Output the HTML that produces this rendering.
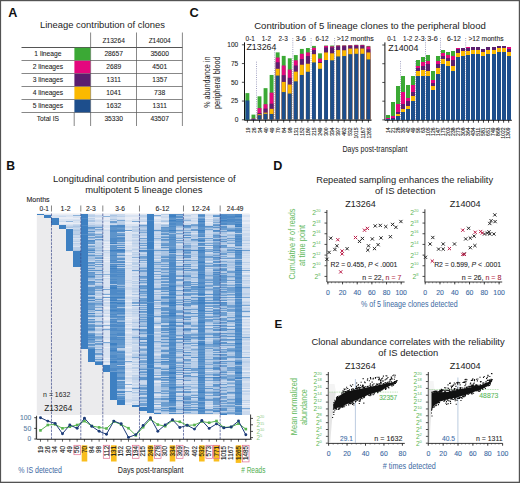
<!DOCTYPE html>
<html><head><meta charset="utf-8"><style>
html,body{margin:0;padding:0;background:#fff;}
svg{display:block;}
text{font-family:"Liberation Sans",sans-serif;}
</style></head><body>
<svg width="520" height="483" viewBox="0 0 520 483" fill="#1c1c1c">
<rect x="0" y="0" width="520" height="483" fill="#fff"/>
<text x="8.2" y="16.8" font-size="12.6" font-weight="bold" fill="#111">A</text>
<text x="189.6" y="16.9" font-size="12.8" font-weight="bold" fill="#111">C</text>
<text x="6.3" y="170.2" font-size="12.2" font-weight="bold" fill="#111">B</text>
<text x="273.3" y="169.8" font-size="12.6" font-weight="bold" fill="#111">D</text>
<text x="274.4" y="328.2" font-size="11.6" font-weight="bold" fill="#111">E</text>
<text x="40" y="28.1" font-size="8.8" textLength="125" lengthAdjust="spacingAndGlyphs">Lineage contribution of clones</text>
<line x1="21.5" y1="47.5" x2="182.4" y2="47.5" stroke="#555" stroke-width="1"/>
<line x1="21.5" y1="60.5" x2="182.4" y2="60.5" stroke="#555" stroke-width="0.7"/>
<line x1="21.5" y1="73.5" x2="182.4" y2="73.5" stroke="#555" stroke-width="0.7"/>
<line x1="21.5" y1="86.5" x2="182.4" y2="86.5" stroke="#555" stroke-width="0.7"/>
<line x1="21.5" y1="99.5" x2="182.4" y2="99.5" stroke="#555" stroke-width="0.7"/>
<line x1="21.5" y1="112.5" x2="182.4" y2="112.5" stroke="#555" stroke-width="0.7"/>
<line x1="90.6" y1="32.5" x2="90.6" y2="126" stroke="#555" stroke-width="0.7"/>
<line x1="136.5" y1="32.5" x2="136.5" y2="126" stroke="#555" stroke-width="0.7"/>
<line x1="182.4" y1="32.5" x2="182.4" y2="126" stroke="#555" stroke-width="0.7"/>
<line x1="74.2" y1="112.5" x2="74.2" y2="126" stroke="#555" stroke-width="0.7"/>
<rect x="74.4" y="47.8" width="16" height="12.5" fill="#3ba935"/>
<rect x="74.4" y="60.8" width="16" height="12.5" fill="#e4077e"/>
<rect x="74.4" y="73.8" width="16" height="12.5" fill="#5b1e6e"/>
<rect x="74.4" y="86.8" width="16" height="12.5" fill="#fbb900"/>
<rect x="74.4" y="99.8" width="16" height="12.5" fill="#1d4e8c"/>
<text x="113.7" y="42.5" font-size="6.8" text-anchor="middle" textLength="22.3" lengthAdjust="spacingAndGlyphs" stroke="#222" stroke-width="0.08">Z13264</text>
<text x="159.7" y="42.5" font-size="6.8" text-anchor="middle" textLength="22.1" lengthAdjust="spacingAndGlyphs" stroke="#222" stroke-width="0.08">Z14004</text>
<text x="47.9" y="56.2" font-size="6.7" text-anchor="middle" stroke="#222" stroke-width="0.08">1 lineage</text>
<text x="113.7" y="56.2" font-size="6.7" text-anchor="middle" stroke="#222" stroke-width="0.08">28657</text>
<text x="159.7" y="56.2" font-size="6.7" text-anchor="middle" stroke="#222" stroke-width="0.08">35600</text>
<text x="47.9" y="69.2" font-size="6.7" text-anchor="middle" stroke="#222" stroke-width="0.08">2 lineages</text>
<text x="113.7" y="69.2" font-size="6.7" text-anchor="middle" stroke="#222" stroke-width="0.08">2689</text>
<text x="159.7" y="69.2" font-size="6.7" text-anchor="middle" stroke="#222" stroke-width="0.08">4501</text>
<text x="47.9" y="82.2" font-size="6.7" text-anchor="middle" stroke="#222" stroke-width="0.08">3 lineages</text>
<text x="113.7" y="82.2" font-size="6.7" text-anchor="middle" stroke="#222" stroke-width="0.08">1311</text>
<text x="159.7" y="82.2" font-size="6.7" text-anchor="middle" stroke="#222" stroke-width="0.08">1357</text>
<text x="47.9" y="95.2" font-size="6.7" text-anchor="middle" stroke="#222" stroke-width="0.08">4 lineages</text>
<text x="113.7" y="95.2" font-size="6.7" text-anchor="middle" stroke="#222" stroke-width="0.08">1041</text>
<text x="159.7" y="95.2" font-size="6.7" text-anchor="middle" stroke="#222" stroke-width="0.08">738</text>
<text x="47.9" y="108.2" font-size="6.7" text-anchor="middle" stroke="#222" stroke-width="0.08">5 lineages</text>
<text x="113.7" y="108.2" font-size="6.7" text-anchor="middle" stroke="#222" stroke-width="0.08">1632</text>
<text x="159.7" y="108.2" font-size="6.7" text-anchor="middle" stroke="#222" stroke-width="0.08">1311</text>
<text x="47.9" y="121.2" font-size="6.7" text-anchor="middle" stroke="#222" stroke-width="0.08">Total IS</text>
<text x="113.7" y="121.2" font-size="6.7" text-anchor="middle" stroke="#222" stroke-width="0.08">35330</text>
<text x="159.7" y="121.2" font-size="6.7" text-anchor="middle" stroke="#222" stroke-width="0.08">43507</text>
<text x="254.2" y="29.3" font-size="9.3" textLength="231.6" lengthAdjust="spacingAndGlyphs">Contribution of 5 lineage clones to the peripheral blood</text>
<line x1="244.5" y1="42.4" x2="244.5" y2="120.3" stroke="#111" stroke-width="1"/>
<line x1="244.5" y1="120.1" x2="371.55" y2="120.1" stroke="#111" stroke-width="1.1"/>
<line x1="241.9" y1="119.8" x2="244.5" y2="119.8" stroke="#222" stroke-width="0.8"/>
<text x="238.3" y="122.1" font-size="6.6" text-anchor="end" stroke="#222" stroke-width="0.08">0</text>
<line x1="241.9" y1="101.05" x2="244.5" y2="101.05" stroke="#222" stroke-width="0.8"/>
<text x="238.3" y="103.35" font-size="6.6" text-anchor="end" stroke="#222" stroke-width="0.08">25</text>
<line x1="241.9" y1="82.3" x2="244.5" y2="82.3" stroke="#222" stroke-width="0.8"/>
<text x="238.3" y="84.6" font-size="6.6" text-anchor="end" stroke="#222" stroke-width="0.08">50</text>
<line x1="241.9" y1="63.55" x2="244.5" y2="63.55" stroke="#222" stroke-width="0.8"/>
<text x="238.3" y="65.85" font-size="6.6" text-anchor="end" stroke="#222" stroke-width="0.08">75</text>
<line x1="241.9" y1="44.8" x2="244.5" y2="44.8" stroke="#222" stroke-width="0.8"/>
<text x="238.3" y="47.1" font-size="6.6" text-anchor="end" stroke="#222" stroke-width="0.08">100</text>
<rect x="245.45" y="93.1" width="3.9" height="26.7" fill="#3ba935"/>
<rect x="245.45" y="100.45" width="3.9" height="19.35" fill="#1d4e8c"/>
<line x1="247.4" y1="119.8" x2="247.4" y2="122.6" stroke="#111" stroke-width="0.8"/>
<text transform="translate(249.56 127.4) rotate(-90)" font-size="6" text-anchor="end" textLength="5.6" lengthAdjust="spacingAndGlyphs" stroke="#222" stroke-width="0.12">19</text>
<rect x="251.5" y="114.62" width="3.9" height="5.18" fill="#3ba935"/>
<rect x="251.5" y="118.6" width="3.9" height="1.2" fill="#e4077e"/>
<rect x="251.5" y="119.05" width="3.9" height="0.75" fill="#5b1e6e"/>
<rect x="251.5" y="119.2" width="3.9" height="0.6" fill="#1d4e8c"/>
<line x1="253.45" y1="119.8" x2="253.45" y2="122.6" stroke="#111" stroke-width="0.8"/>
<text transform="translate(255.61 127.4) rotate(-90)" font-size="6" text-anchor="end" textLength="5.6" lengthAdjust="spacingAndGlyphs" stroke="#222" stroke-width="0.12">26</text>
<rect x="257.55" y="96.32" width="3.9" height="23.48" fill="#3ba935"/>
<rect x="257.55" y="108.1" width="3.9" height="11.7" fill="#e4077e"/>
<rect x="257.55" y="113.05" width="3.9" height="6.75" fill="#5b1e6e"/>
<rect x="257.55" y="114.25" width="3.9" height="5.55" fill="#fbb900"/>
<rect x="257.55" y="115.15" width="3.9" height="4.65" fill="#1d4e8c"/>
<line x1="259.5" y1="119.8" x2="259.5" y2="122.6" stroke="#111" stroke-width="0.8"/>
<text transform="translate(261.66 127.4) rotate(-90)" font-size="6" text-anchor="end" textLength="5.6" lengthAdjust="spacingAndGlyphs" stroke="#222" stroke-width="0.12">34</text>
<rect x="263.6" y="88.15" width="3.9" height="31.65" fill="#3ba935"/>
<rect x="263.6" y="104.2" width="3.9" height="15.6" fill="#e4077e"/>
<rect x="263.6" y="108.55" width="3.9" height="11.25" fill="#5b1e6e"/>
<rect x="263.6" y="112.67" width="3.9" height="7.12" fill="#fbb900"/>
<rect x="263.6" y="113.8" width="3.9" height="6" fill="#1d4e8c"/>
<line x1="265.55" y1="119.8" x2="265.55" y2="122.6" stroke="#111" stroke-width="0.8"/>
<text transform="translate(267.71 127.4) rotate(-90)" font-size="6" text-anchor="end" textLength="5.6" lengthAdjust="spacingAndGlyphs" stroke="#222" stroke-width="0.12">40</text>
<rect x="269.65" y="74.95" width="3.9" height="44.85" fill="#3ba935"/>
<rect x="269.65" y="92.65" width="3.9" height="27.15" fill="#e4077e"/>
<rect x="269.65" y="103.67" width="3.9" height="16.12" fill="#5b1e6e"/>
<rect x="269.65" y="108.85" width="3.9" height="10.95" fill="#fbb900"/>
<rect x="269.65" y="113.95" width="3.9" height="5.85" fill="#1d4e8c"/>
<line x1="271.6" y1="119.8" x2="271.6" y2="122.6" stroke="#111" stroke-width="0.8"/>
<text transform="translate(273.76 127.4) rotate(-90)" font-size="6" text-anchor="end" textLength="5.6" lengthAdjust="spacingAndGlyphs" stroke="#222" stroke-width="0.12">49</text>
<rect x="275.7" y="52.37" width="3.9" height="67.43" fill="#3ba935"/>
<rect x="275.7" y="57.55" width="3.9" height="62.25" fill="#e4077e"/>
<rect x="275.7" y="62.27" width="3.9" height="57.53" fill="#5b1e6e"/>
<rect x="275.7" y="68.8" width="3.9" height="51" fill="#fbb900"/>
<rect x="275.7" y="75.55" width="3.9" height="44.25" fill="#1d4e8c"/>
<line x1="277.65" y1="119.8" x2="277.65" y2="122.6" stroke="#111" stroke-width="0.8"/>
<text transform="translate(279.81 127.4) rotate(-90)" font-size="6" text-anchor="end" textLength="5.6" lengthAdjust="spacingAndGlyphs" stroke="#222" stroke-width="0.12">70</text>
<rect x="281.75" y="55.9" width="3.9" height="63.9" fill="#3ba935"/>
<rect x="281.75" y="65.5" width="3.9" height="54.3" fill="#e4077e"/>
<rect x="281.75" y="75.17" width="3.9" height="44.62" fill="#5b1e6e"/>
<rect x="281.75" y="81.92" width="3.9" height="37.88" fill="#fbb900"/>
<rect x="281.75" y="92.05" width="3.9" height="27.75" fill="#1d4e8c"/>
<line x1="283.7" y1="119.8" x2="283.7" y2="122.6" stroke="#111" stroke-width="0.8"/>
<text transform="translate(285.86 127.4) rotate(-90)" font-size="6" text-anchor="end" textLength="5.6" lengthAdjust="spacingAndGlyphs" stroke="#222" stroke-width="0.12">84</text>
<rect x="287.8" y="58.3" width="3.9" height="61.5" fill="#3ba935"/>
<rect x="287.8" y="69.55" width="3.9" height="50.25" fill="#e4077e"/>
<rect x="287.8" y="77.8" width="3.9" height="42" fill="#5b1e6e"/>
<rect x="287.8" y="84.55" width="3.9" height="35.25" fill="#fbb900"/>
<rect x="287.8" y="93.55" width="3.9" height="26.25" fill="#1d4e8c"/>
<line x1="289.75" y1="119.8" x2="289.75" y2="122.6" stroke="#111" stroke-width="0.8"/>
<text transform="translate(291.91 127.4) rotate(-90)" font-size="6" text-anchor="end" textLength="5.6" lengthAdjust="spacingAndGlyphs" stroke="#222" stroke-width="0.12">98</text>
<rect x="293.85" y="55.08" width="3.9" height="64.72" fill="#3ba935"/>
<rect x="293.85" y="60.33" width="3.9" height="59.47" fill="#e4077e"/>
<rect x="293.85" y="65.5" width="3.9" height="54.3" fill="#5b1e6e"/>
<rect x="293.85" y="71.65" width="3.9" height="48.15" fill="#fbb900"/>
<rect x="293.85" y="81.33" width="3.9" height="38.47" fill="#1d4e8c"/>
<line x1="295.8" y1="119.8" x2="295.8" y2="122.6" stroke="#111" stroke-width="0.8"/>
<text transform="translate(297.96 127.4) rotate(-90)" font-size="6" text-anchor="end" textLength="8.4" lengthAdjust="spacingAndGlyphs" stroke="#222" stroke-width="0.12">131</text>
<rect x="299.9" y="48.92" width="3.9" height="70.88" fill="#3ba935"/>
<rect x="299.9" y="53.8" width="3.9" height="66" fill="#e4077e"/>
<rect x="299.9" y="59.05" width="3.9" height="60.75" fill="#5b1e6e"/>
<rect x="299.9" y="64.75" width="3.9" height="55.05" fill="#fbb900"/>
<rect x="299.9" y="74.95" width="3.9" height="44.85" fill="#1d4e8c"/>
<line x1="301.85" y1="119.8" x2="301.85" y2="122.6" stroke="#111" stroke-width="0.8"/>
<text transform="translate(304.01 127.4) rotate(-90)" font-size="6" text-anchor="end" textLength="8.4" lengthAdjust="spacingAndGlyphs" stroke="#222" stroke-width="0.12">152</text>
<rect x="305.95" y="48.02" width="3.9" height="71.78" fill="#3ba935"/>
<rect x="305.95" y="52.45" width="3.9" height="67.35" fill="#e4077e"/>
<rect x="305.95" y="56.05" width="3.9" height="63.75" fill="#5b1e6e"/>
<rect x="305.95" y="63.77" width="3.9" height="56.03" fill="#fbb900"/>
<rect x="305.95" y="71.8" width="3.9" height="48" fill="#1d4e8c"/>
<line x1="307.9" y1="119.8" x2="307.9" y2="122.6" stroke="#111" stroke-width="0.8"/>
<text transform="translate(310.06 127.4) rotate(-90)" font-size="6" text-anchor="end" textLength="8.4" lengthAdjust="spacingAndGlyphs" stroke="#222" stroke-width="0.12">180</text>
<rect x="312" y="45.92" width="3.9" height="73.88" fill="#3ba935"/>
<rect x="312" y="47.8" width="3.9" height="72" fill="#e4077e"/>
<rect x="312" y="50.05" width="3.9" height="69.75" fill="#5b1e6e"/>
<rect x="312" y="54.17" width="3.9" height="65.62" fill="#fbb900"/>
<rect x="312" y="62.42" width="3.9" height="57.38" fill="#1d4e8c"/>
<line x1="313.95" y1="119.8" x2="313.95" y2="122.6" stroke="#111" stroke-width="0.8"/>
<text transform="translate(316.11 127.4) rotate(-90)" font-size="6" text-anchor="end" textLength="8.4" lengthAdjust="spacingAndGlyphs" stroke="#222" stroke-width="0.12">215</text>
<rect x="318.05" y="53.35" width="3.9" height="66.45" fill="#3ba935"/>
<rect x="318.05" y="58.6" width="3.9" height="61.2" fill="#e4077e"/>
<rect x="318.05" y="62.05" width="3.9" height="57.75" fill="#5b1e6e"/>
<rect x="318.05" y="62.95" width="3.9" height="56.85" fill="#fbb900"/>
<rect x="318.05" y="68.8" width="3.9" height="51" fill="#1d4e8c"/>
<line x1="320" y1="119.8" x2="320" y2="122.6" stroke="#111" stroke-width="0.8"/>
<text transform="translate(322.16 127.4) rotate(-90)" font-size="6" text-anchor="end" textLength="8.4" lengthAdjust="spacingAndGlyphs" stroke="#222" stroke-width="0.12">249</text>
<rect x="324.1" y="45.55" width="3.9" height="74.25" fill="#3ba935"/>
<rect x="324.1" y="45.92" width="3.9" height="73.88" fill="#e4077e"/>
<rect x="324.1" y="47.42" width="3.9" height="72.38" fill="#5b1e6e"/>
<rect x="324.1" y="52.45" width="3.9" height="67.35" fill="#fbb900"/>
<rect x="324.1" y="60.02" width="3.9" height="59.78" fill="#1d4e8c"/>
<line x1="326.05" y1="119.8" x2="326.05" y2="122.6" stroke="#111" stroke-width="0.8"/>
<text transform="translate(328.21 127.4) rotate(-90)" font-size="6" text-anchor="end" textLength="8.4" lengthAdjust="spacingAndGlyphs" stroke="#222" stroke-width="0.12">300</text>
<rect x="330.15" y="45.55" width="3.9" height="74.25" fill="#3ba935"/>
<rect x="330.15" y="46.45" width="3.9" height="73.35" fill="#e4077e"/>
<rect x="330.15" y="47.42" width="3.9" height="72.38" fill="#5b1e6e"/>
<rect x="330.15" y="53.35" width="3.9" height="66.45" fill="#fbb900"/>
<rect x="330.15" y="60.33" width="3.9" height="59.47" fill="#1d4e8c"/>
<line x1="332.1" y1="119.8" x2="332.1" y2="122.6" stroke="#111" stroke-width="0.8"/>
<text transform="translate(334.26 127.4) rotate(-90)" font-size="6" text-anchor="end" textLength="8.4" lengthAdjust="spacingAndGlyphs" stroke="#222" stroke-width="0.12">334</text>
<rect x="336.2" y="45.33" width="3.9" height="74.47" fill="#3ba935"/>
<rect x="336.2" y="45.55" width="3.9" height="74.25" fill="#e4077e"/>
<rect x="336.2" y="46.3" width="3.9" height="73.5" fill="#5b1e6e"/>
<rect x="336.2" y="50.05" width="3.9" height="69.75" fill="#fbb900"/>
<rect x="336.2" y="56.42" width="3.9" height="63.38" fill="#1d4e8c"/>
<line x1="338.15" y1="119.8" x2="338.15" y2="122.6" stroke="#111" stroke-width="0.8"/>
<text transform="translate(340.31 127.4) rotate(-90)" font-size="6" text-anchor="end" textLength="8.4" lengthAdjust="spacingAndGlyphs" stroke="#222" stroke-width="0.12">397</text>
<rect x="342.25" y="45.33" width="3.9" height="74.47" fill="#3ba935"/>
<rect x="342.25" y="45.55" width="3.9" height="74.25" fill="#e4077e"/>
<rect x="342.25" y="46.15" width="3.9" height="73.65" fill="#5b1e6e"/>
<rect x="342.25" y="50.27" width="3.9" height="69.53" fill="#fbb900"/>
<rect x="342.25" y="56.05" width="3.9" height="63.75" fill="#1d4e8c"/>
<line x1="344.2" y1="119.8" x2="344.2" y2="122.6" stroke="#111" stroke-width="0.8"/>
<text transform="translate(346.36 127.4) rotate(-90)" font-size="6" text-anchor="end" textLength="8.4" lengthAdjust="spacingAndGlyphs" stroke="#222" stroke-width="0.12">462</text>
<rect x="348.3" y="45.17" width="3.9" height="74.62" fill="#3ba935"/>
<rect x="348.3" y="45.33" width="3.9" height="74.47" fill="#e4077e"/>
<rect x="348.3" y="45.85" width="3.9" height="73.95" fill="#5b1e6e"/>
<rect x="348.3" y="48.55" width="3.9" height="71.25" fill="#fbb900"/>
<rect x="348.3" y="54.17" width="3.9" height="65.62" fill="#1d4e8c"/>
<line x1="350.25" y1="119.8" x2="350.25" y2="122.6" stroke="#111" stroke-width="0.8"/>
<text transform="translate(352.41 127.4) rotate(-90)" font-size="6" text-anchor="end" textLength="8.4" lengthAdjust="spacingAndGlyphs" stroke="#222" stroke-width="0.12">532</text>
<rect x="354.35" y="44.8" width="3.9" height="75" fill="#3ba935"/>
<rect x="354.35" y="44.95" width="3.9" height="74.85" fill="#e4077e"/>
<rect x="354.35" y="45.55" width="3.9" height="74.25" fill="#5b1e6e"/>
<rect x="354.35" y="48.55" width="3.9" height="71.25" fill="#fbb900"/>
<rect x="354.35" y="53.8" width="3.9" height="66" fill="#1d4e8c"/>
<line x1="356.3" y1="119.8" x2="356.3" y2="122.6" stroke="#111" stroke-width="0.8"/>
<text transform="translate(358.46 127.4) rotate(-90)" font-size="6" text-anchor="end" textLength="11.2" lengthAdjust="spacingAndGlyphs" stroke="#222" stroke-width="0.12">1015</text>
<rect x="360.4" y="44.8" width="3.9" height="75" fill="#3ba935"/>
<rect x="360.4" y="44.95" width="3.9" height="74.85" fill="#e4077e"/>
<rect x="360.4" y="45.55" width="3.9" height="74.25" fill="#5b1e6e"/>
<rect x="360.4" y="48.55" width="3.9" height="71.25" fill="#fbb900"/>
<rect x="360.4" y="53.8" width="3.9" height="66" fill="#1d4e8c"/>
<line x1="362.35" y1="119.8" x2="362.35" y2="122.6" stroke="#111" stroke-width="0.8"/>
<text transform="translate(364.51 127.4) rotate(-90)" font-size="6" text-anchor="end" textLength="11.2" lengthAdjust="spacingAndGlyphs" stroke="#222" stroke-width="0.12">1167</text>
<rect x="366.45" y="45.92" width="3.9" height="73.88" fill="#3ba935"/>
<rect x="366.45" y="46.45" width="3.9" height="73.35" fill="#e4077e"/>
<rect x="366.45" y="49.3" width="3.9" height="70.5" fill="#5b1e6e"/>
<rect x="366.45" y="52.45" width="3.9" height="67.35" fill="#fbb900"/>
<rect x="366.45" y="59.42" width="3.9" height="60.38" fill="#1d4e8c"/>
<line x1="368.4" y1="119.8" x2="368.4" y2="122.6" stroke="#111" stroke-width="0.8"/>
<text transform="translate(370.56 127.4) rotate(-90)" font-size="6" text-anchor="end" textLength="11.2" lengthAdjust="spacingAndGlyphs" stroke="#222" stroke-width="0.12">1265</text>
<line x1="384.9" y1="42.4" x2="384.9" y2="120.4" stroke="#111" stroke-width="1"/>
<line x1="384.9" y1="120.2" x2="511.86" y2="120.2" stroke="#111" stroke-width="1.1"/>
<line x1="382.3" y1="119.9" x2="384.9" y2="119.9" stroke="#222" stroke-width="0.8"/>
<line x1="382.3" y1="101.18" x2="384.9" y2="101.18" stroke="#222" stroke-width="0.8"/>
<line x1="382.3" y1="82.45" x2="384.9" y2="82.45" stroke="#222" stroke-width="0.8"/>
<line x1="382.3" y1="63.73" x2="384.9" y2="63.73" stroke="#222" stroke-width="0.8"/>
<line x1="382.3" y1="45" x2="384.9" y2="45" stroke="#222" stroke-width="0.8"/>
<rect x="386" y="115.41" width="4" height="4.49" fill="#3ba935" shape-rendering="crispEdges"/>
<rect x="386" y="117.5" width="4" height="2.4" fill="#e4077e" shape-rendering="crispEdges"/>
<rect x="386" y="118.93" width="4" height="0.97" fill="#1d4e8c" shape-rendering="crispEdges"/>
<line x1="387.7" y1="119.9" x2="387.7" y2="122.7" stroke="#111" stroke-width="0.8"/>
<text transform="translate(389.5 127.5) rotate(-90)" font-size="5" text-anchor="end" textLength="5.6" lengthAdjust="spacingAndGlyphs" stroke="#222" stroke-width="0.12">14</text>
<rect x="391" y="102.22" width="4" height="17.68" fill="#3ba935" shape-rendering="crispEdges"/>
<rect x="391" y="115.71" width="4" height="4.19" fill="#e4077e" shape-rendering="crispEdges"/>
<rect x="391" y="118.4" width="4" height="1.5" fill="#5b1e6e" shape-rendering="crispEdges"/>
<rect x="391" y="119.15" width="4" height="0.75" fill="#1d4e8c" shape-rendering="crispEdges"/>
<line x1="392.74" y1="119.9" x2="392.74" y2="122.7" stroke="#111" stroke-width="0.8"/>
<text transform="translate(394.54 127.5) rotate(-90)" font-size="5" text-anchor="end" textLength="5.6" lengthAdjust="spacingAndGlyphs" stroke="#222" stroke-width="0.12">21</text>
<rect x="396" y="85.82" width="4" height="34.08" fill="#3ba935" shape-rendering="crispEdges"/>
<rect x="396" y="103.87" width="4" height="16.03" fill="#e4077e" shape-rendering="crispEdges"/>
<rect x="396" y="112.04" width="4" height="7.86" fill="#5b1e6e" shape-rendering="crispEdges"/>
<rect x="396" y="114.43" width="4" height="5.47" fill="#fbb900" shape-rendering="crispEdges"/>
<rect x="396" y="115.78" width="4" height="4.12" fill="#1d4e8c" shape-rendering="crispEdges"/>
<line x1="397.78" y1="119.9" x2="397.78" y2="122.7" stroke="#111" stroke-width="0.8"/>
<text transform="translate(399.58 127.5) rotate(-90)" font-size="5" text-anchor="end" textLength="5.6" lengthAdjust="spacingAndGlyphs" stroke="#222" stroke-width="0.12">28</text>
<rect x="401" y="76.08" width="4" height="43.82" fill="#3ba935" shape-rendering="crispEdges"/>
<rect x="401" y="92.19" width="4" height="27.71" fill="#e4077e" shape-rendering="crispEdges"/>
<rect x="401" y="104.32" width="4" height="15.58" fill="#5b1e6e" shape-rendering="crispEdges"/>
<rect x="401" y="108.52" width="4" height="11.38" fill="#fbb900" shape-rendering="crispEdges"/>
<rect x="401" y="112.04" width="4" height="7.86" fill="#1d4e8c" shape-rendering="crispEdges"/>
<line x1="402.82" y1="119.9" x2="402.82" y2="122.7" stroke="#111" stroke-width="0.8"/>
<text transform="translate(404.62 127.5) rotate(-90)" font-size="5" text-anchor="end" textLength="5.6" lengthAdjust="spacingAndGlyphs" stroke="#222" stroke-width="0.12">35</text>
<rect x="406" y="85.3" width="4" height="34.6" fill="#3ba935" shape-rendering="crispEdges"/>
<rect x="406" y="98.03" width="4" height="21.87" fill="#e4077e" shape-rendering="crispEdges"/>
<rect x="406" y="100.8" width="4" height="19.1" fill="#5b1e6e" shape-rendering="crispEdges"/>
<rect x="406" y="105.67" width="4" height="14.23" fill="#fbb900" shape-rendering="crispEdges"/>
<rect x="406" y="108.52" width="4" height="11.38" fill="#1d4e8c" shape-rendering="crispEdges"/>
<line x1="407.86" y1="119.9" x2="407.86" y2="122.7" stroke="#111" stroke-width="0.8"/>
<text transform="translate(409.66 127.5) rotate(-90)" font-size="5" text-anchor="end" textLength="5.6" lengthAdjust="spacingAndGlyphs" stroke="#222" stroke-width="0.12">42</text>
<rect x="411" y="76.46" width="4" height="43.44" fill="#3ba935" shape-rendering="crispEdges"/>
<rect x="411" y="85.3" width="4" height="34.6" fill="#e4077e" shape-rendering="crispEdges"/>
<rect x="411" y="91.81" width="4" height="28.09" fill="#5b1e6e" shape-rendering="crispEdges"/>
<rect x="411" y="95.93" width="4" height="23.97" fill="#fbb900" shape-rendering="crispEdges"/>
<rect x="411" y="100.8" width="4" height="19.1" fill="#1d4e8c" shape-rendering="crispEdges"/>
<line x1="412.9" y1="119.9" x2="412.9" y2="122.7" stroke="#111" stroke-width="0.8"/>
<text transform="translate(414.7 127.5) rotate(-90)" font-size="5" text-anchor="end" textLength="5.6" lengthAdjust="spacingAndGlyphs" stroke="#222" stroke-width="0.12">49</text>
<rect x="416" y="59.53" width="4" height="60.37" fill="#3ba935" shape-rendering="crispEdges"/>
<rect x="416" y="65.52" width="4" height="54.38" fill="#e4077e" shape-rendering="crispEdges"/>
<rect x="416" y="67.99" width="4" height="51.91" fill="#5b1e6e" shape-rendering="crispEdges"/>
<rect x="416" y="71.36" width="4" height="48.54" fill="#fbb900" shape-rendering="crispEdges"/>
<rect x="416" y="76.01" width="4" height="43.89" fill="#1d4e8c" shape-rendering="crispEdges"/>
<line x1="417.94" y1="119.9" x2="417.94" y2="122.7" stroke="#111" stroke-width="0.8"/>
<text transform="translate(419.74 127.5) rotate(-90)" font-size="5" text-anchor="end" textLength="5.6" lengthAdjust="spacingAndGlyphs" stroke="#222" stroke-width="0.12">56</text>
<rect x="421" y="56.61" width="4" height="63.29" fill="#3ba935" shape-rendering="crispEdges"/>
<rect x="421" y="62" width="4" height="57.9" fill="#e4077e" shape-rendering="crispEdges"/>
<rect x="421" y="65.52" width="4" height="54.38" fill="#5b1e6e" shape-rendering="crispEdges"/>
<rect x="421" y="70.17" width="4" height="49.73" fill="#fbb900" shape-rendering="crispEdges"/>
<rect x="421" y="76.01" width="4" height="43.89" fill="#1d4e8c" shape-rendering="crispEdges"/>
<line x1="422.98" y1="119.9" x2="422.98" y2="122.7" stroke="#111" stroke-width="0.8"/>
<text transform="translate(424.78 127.5) rotate(-90)" font-size="5" text-anchor="end" textLength="5.6" lengthAdjust="spacingAndGlyphs" stroke="#222" stroke-width="0.12">63</text>
<rect x="426" y="55.04" width="4" height="64.86" fill="#3ba935" shape-rendering="crispEdges"/>
<rect x="426" y="61.25" width="4" height="58.65" fill="#e4077e" shape-rendering="crispEdges"/>
<rect x="426" y="63.8" width="4" height="56.1" fill="#5b1e6e" shape-rendering="crispEdges"/>
<rect x="426" y="70.54" width="4" height="49.36" fill="#fbb900" shape-rendering="crispEdges"/>
<rect x="426" y="76.01" width="4" height="43.89" fill="#1d4e8c" shape-rendering="crispEdges"/>
<line x1="428.02" y1="119.9" x2="428.02" y2="122.7" stroke="#111" stroke-width="0.8"/>
<text transform="translate(429.82 127.5) rotate(-90)" font-size="5" text-anchor="end" textLength="8.4" lengthAdjust="spacingAndGlyphs" stroke="#222" stroke-width="0.12">105</text>
<rect x="431" y="70.92" width="4" height="48.98" fill="#3ba935" shape-rendering="crispEdges"/>
<rect x="431" y="79.9" width="4" height="40" fill="#e4077e" shape-rendering="crispEdges"/>
<rect x="431" y="83.27" width="4" height="36.63" fill="#5b1e6e" shape-rendering="crispEdges"/>
<rect x="431" y="85.82" width="4" height="34.08" fill="#fbb900" shape-rendering="crispEdges"/>
<rect x="431" y="89.57" width="4" height="30.33" fill="#1d4e8c" shape-rendering="crispEdges"/>
<line x1="433.06" y1="119.9" x2="433.06" y2="122.7" stroke="#111" stroke-width="0.8"/>
<text transform="translate(434.86 127.5) rotate(-90)" font-size="5" text-anchor="end" textLength="8.4" lengthAdjust="spacingAndGlyphs" stroke="#222" stroke-width="0.12">126</text>
<rect x="436" y="55.79" width="4" height="64.11" fill="#3ba935" shape-rendering="crispEdges"/>
<rect x="436" y="60.5" width="4" height="59.4" fill="#e4077e" shape-rendering="crispEdges"/>
<rect x="436" y="63.8" width="4" height="56.1" fill="#5b1e6e" shape-rendering="crispEdges"/>
<rect x="436" y="67.99" width="4" height="51.91" fill="#fbb900" shape-rendering="crispEdges"/>
<rect x="436" y="73.99" width="4" height="45.91" fill="#1d4e8c" shape-rendering="crispEdges"/>
<line x1="438.1" y1="119.9" x2="438.1" y2="122.7" stroke="#111" stroke-width="0.8"/>
<text transform="translate(439.9 127.5) rotate(-90)" font-size="5" text-anchor="end" textLength="8.4" lengthAdjust="spacingAndGlyphs" stroke="#222" stroke-width="0.12">147</text>
<rect x="441" y="49.79" width="4" height="70.11" fill="#3ba935" shape-rendering="crispEdges"/>
<rect x="441" y="53.24" width="4" height="66.66" fill="#e4077e" shape-rendering="crispEdges"/>
<rect x="441" y="56.09" width="4" height="63.81" fill="#5b1e6e" shape-rendering="crispEdges"/>
<rect x="441" y="59.01" width="4" height="60.89" fill="#fbb900" shape-rendering="crispEdges"/>
<rect x="441" y="63.8" width="4" height="56.1" fill="#1d4e8c" shape-rendering="crispEdges"/>
<line x1="443.14" y1="119.9" x2="443.14" y2="122.7" stroke="#111" stroke-width="0.8"/>
<text transform="translate(444.94 127.5) rotate(-90)" font-size="5" text-anchor="end" textLength="8.4" lengthAdjust="spacingAndGlyphs" stroke="#222" stroke-width="0.12">175</text>
<rect x="446" y="51.97" width="4" height="67.93" fill="#3ba935" shape-rendering="crispEdges"/>
<rect x="446" y="54.89" width="4" height="65.01" fill="#e4077e" shape-rendering="crispEdges"/>
<rect x="446" y="57.81" width="4" height="62.09" fill="#5b1e6e" shape-rendering="crispEdges"/>
<rect x="446" y="61.48" width="4" height="58.42" fill="#fbb900" shape-rendering="crispEdges"/>
<rect x="446" y="65.6" width="4" height="54.3" fill="#1d4e8c" shape-rendering="crispEdges"/>
<line x1="448.18" y1="119.9" x2="448.18" y2="122.7" stroke="#111" stroke-width="0.8"/>
<text transform="translate(449.98 127.5) rotate(-90)" font-size="5" text-anchor="end" textLength="8.4" lengthAdjust="spacingAndGlyphs" stroke="#222" stroke-width="0.12">203</text>
<rect x="451" y="51.14" width="4" height="68.76" fill="#3ba935" shape-rendering="crispEdges"/>
<rect x="451" y="55.56" width="4" height="64.34" fill="#e4077e" shape-rendering="crispEdges"/>
<rect x="451" y="59.98" width="4" height="59.92" fill="#5b1e6e" shape-rendering="crispEdges"/>
<rect x="451" y="65.6" width="4" height="54.3" fill="#fbb900" shape-rendering="crispEdges"/>
<rect x="451" y="70.62" width="4" height="49.28" fill="#1d4e8c" shape-rendering="crispEdges"/>
<line x1="453.22" y1="119.9" x2="453.22" y2="122.7" stroke="#111" stroke-width="0.8"/>
<text transform="translate(455.02 127.5) rotate(-90)" font-size="5" text-anchor="end" textLength="8.4" lengthAdjust="spacingAndGlyphs" stroke="#222" stroke-width="0.12">238</text>
<rect x="456" y="47.92" width="4" height="71.98" fill="#e4077e" shape-rendering="crispEdges"/>
<rect x="456" y="48.52" width="4" height="71.38" fill="#5b1e6e" shape-rendering="crispEdges"/>
<rect x="456" y="53.01" width="4" height="66.89" fill="#fbb900" shape-rendering="crispEdges"/>
<rect x="456" y="56.61" width="4" height="63.29" fill="#1d4e8c" shape-rendering="crispEdges"/>
<line x1="458.26" y1="119.9" x2="458.26" y2="122.7" stroke="#111" stroke-width="0.8"/>
<text transform="translate(460.06 127.5) rotate(-90)" font-size="5" text-anchor="end" textLength="8.4" lengthAdjust="spacingAndGlyphs" stroke="#222" stroke-width="0.12">273</text>
<rect x="461" y="47.92" width="4" height="71.98" fill="#e4077e" shape-rendering="crispEdges"/>
<rect x="461" y="48.37" width="4" height="71.53" fill="#5b1e6e" shape-rendering="crispEdges"/>
<rect x="461" y="51.29" width="4" height="68.61" fill="#fbb900" shape-rendering="crispEdges"/>
<rect x="461" y="55.94" width="4" height="63.96" fill="#1d4e8c" shape-rendering="crispEdges"/>
<line x1="463.3" y1="119.9" x2="463.3" y2="122.7" stroke="#111" stroke-width="0.8"/>
<text transform="translate(465.1 127.5) rotate(-90)" font-size="5" text-anchor="end" textLength="8.4" lengthAdjust="spacingAndGlyphs" stroke="#222" stroke-width="0.12">308</text>
<rect x="466" y="47.25" width="4" height="72.65" fill="#e4077e" shape-rendering="crispEdges"/>
<rect x="466" y="47.62" width="4" height="72.28" fill="#5b1e6e" shape-rendering="crispEdges"/>
<rect x="466" y="50.77" width="4" height="69.13" fill="#fbb900" shape-rendering="crispEdges"/>
<rect x="466" y="55.19" width="4" height="64.71" fill="#1d4e8c" shape-rendering="crispEdges"/>
<line x1="468.34" y1="119.9" x2="468.34" y2="122.7" stroke="#111" stroke-width="0.8"/>
<text transform="translate(470.14 127.5) rotate(-90)" font-size="5" text-anchor="end" textLength="8.4" lengthAdjust="spacingAndGlyphs" stroke="#222" stroke-width="0.12">364</text>
<rect x="471" y="46.87" width="4" height="73.03" fill="#e4077e" shape-rendering="crispEdges"/>
<rect x="471" y="47.25" width="4" height="72.65" fill="#5b1e6e" shape-rendering="crispEdges"/>
<rect x="471" y="50.09" width="4" height="69.81" fill="#fbb900" shape-rendering="crispEdges"/>
<rect x="471" y="54.44" width="4" height="65.46" fill="#1d4e8c" shape-rendering="crispEdges"/>
<line x1="473.38" y1="119.9" x2="473.38" y2="122.7" stroke="#111" stroke-width="0.8"/>
<text transform="translate(475.18 127.5) rotate(-90)" font-size="5" text-anchor="end" textLength="8.4" lengthAdjust="spacingAndGlyphs" stroke="#222" stroke-width="0.12">434</text>
<rect x="476" y="46.87" width="4" height="73.03" fill="#e4077e" shape-rendering="crispEdges"/>
<rect x="476" y="47.25" width="4" height="72.65" fill="#5b1e6e" shape-rendering="crispEdges"/>
<rect x="476" y="50.09" width="4" height="69.81" fill="#fbb900" shape-rendering="crispEdges"/>
<rect x="476" y="54.29" width="4" height="65.61" fill="#1d4e8c" shape-rendering="crispEdges"/>
<line x1="478.42" y1="119.9" x2="478.42" y2="122.7" stroke="#111" stroke-width="0.8"/>
<text transform="translate(480.22 127.5) rotate(-90)" font-size="5" text-anchor="end" textLength="8.4" lengthAdjust="spacingAndGlyphs" stroke="#222" stroke-width="0.12">511</text>
<rect x="481" y="48.75" width="4" height="71.16" fill="#e4077e" shape-rendering="crispEdges"/>
<rect x="481" y="49.12" width="4" height="70.78" fill="#5b1e6e" shape-rendering="crispEdges"/>
<rect x="481" y="52.27" width="4" height="67.63" fill="#fbb900" shape-rendering="crispEdges"/>
<rect x="481" y="55.64" width="4" height="64.26" fill="#1d4e8c" shape-rendering="crispEdges"/>
<line x1="483.46" y1="119.9" x2="483.46" y2="122.7" stroke="#111" stroke-width="0.8"/>
<text transform="translate(485.26 127.5) rotate(-90)" font-size="5" text-anchor="end" textLength="8.4" lengthAdjust="spacingAndGlyphs" stroke="#222" stroke-width="0.12">581</text>
<rect x="486" y="46.5" width="4" height="73.4" fill="#e4077e" shape-rendering="crispEdges"/>
<rect x="486" y="46.87" width="4" height="73.03" fill="#5b1e6e" shape-rendering="crispEdges"/>
<rect x="486" y="50.09" width="4" height="69.81" fill="#fbb900" shape-rendering="crispEdges"/>
<rect x="486" y="53.69" width="4" height="66.21" fill="#1d4e8c" shape-rendering="crispEdges"/>
<line x1="488.5" y1="119.9" x2="488.5" y2="122.7" stroke="#111" stroke-width="0.8"/>
<text transform="translate(490.3 127.5) rotate(-90)" font-size="5" text-anchor="end" textLength="8.4" lengthAdjust="spacingAndGlyphs" stroke="#222" stroke-width="0.12">651</text>
<rect x="492" y="46.5" width="4" height="73.4" fill="#e4077e" shape-rendering="crispEdges"/>
<rect x="492" y="46.87" width="4" height="73.03" fill="#5b1e6e" shape-rendering="crispEdges"/>
<rect x="492" y="50.09" width="4" height="69.81" fill="#fbb900" shape-rendering="crispEdges"/>
<rect x="492" y="54.44" width="4" height="65.46" fill="#1d4e8c" shape-rendering="crispEdges"/>
<line x1="493.54" y1="119.9" x2="493.54" y2="122.7" stroke="#111" stroke-width="0.8"/>
<text transform="translate(495.34 127.5) rotate(-90)" font-size="5" text-anchor="end" textLength="8.4" lengthAdjust="spacingAndGlyphs" stroke="#222" stroke-width="0.12">749</text>
<rect x="497" y="45.82" width="4" height="74.08" fill="#e4077e" shape-rendering="crispEdges"/>
<rect x="497" y="46.12" width="4" height="73.78" fill="#5b1e6e" shape-rendering="crispEdges"/>
<rect x="497" y="47.92" width="4" height="71.98" fill="#fbb900" shape-rendering="crispEdges"/>
<rect x="497" y="51.82" width="4" height="68.08" fill="#1d4e8c" shape-rendering="crispEdges"/>
<line x1="498.58" y1="119.9" x2="498.58" y2="122.7" stroke="#111" stroke-width="0.8"/>
<text transform="translate(500.38 127.5) rotate(-90)" font-size="5" text-anchor="end" textLength="8.4" lengthAdjust="spacingAndGlyphs" stroke="#222" stroke-width="0.12">868</text>
<rect x="502" y="45.82" width="4" height="74.08" fill="#e4077e" shape-rendering="crispEdges"/>
<rect x="502" y="46.12" width="4" height="73.78" fill="#5b1e6e" shape-rendering="crispEdges"/>
<rect x="502" y="47.92" width="4" height="71.98" fill="#fbb900" shape-rendering="crispEdges"/>
<rect x="502" y="52.42" width="4" height="67.48" fill="#1d4e8c" shape-rendering="crispEdges"/>
<line x1="503.62" y1="119.9" x2="503.62" y2="122.7" stroke="#111" stroke-width="0.8"/>
<text transform="translate(505.42 127.5) rotate(-90)" font-size="5" text-anchor="end" textLength="11.2" lengthAdjust="spacingAndGlyphs" stroke="#222" stroke-width="0.12">1022</text>
<rect x="507" y="46.87" width="4" height="73.03" fill="#e4077e" shape-rendering="crispEdges"/>
<rect x="507" y="49.12" width="4" height="70.78" fill="#5b1e6e" shape-rendering="crispEdges"/>
<rect x="507" y="51.52" width="4" height="68.38" fill="#fbb900" shape-rendering="crispEdges"/>
<rect x="507" y="55.94" width="4" height="63.96" fill="#1d4e8c" shape-rendering="crispEdges"/>
<line x1="508.66" y1="119.9" x2="508.66" y2="122.7" stroke="#111" stroke-width="0.8"/>
<text transform="translate(510.46 127.5) rotate(-90)" font-size="5" text-anchor="end" textLength="11.2" lengthAdjust="spacingAndGlyphs" stroke="#222" stroke-width="0.12">1309</text>
<text x="245.6" y="40.6" font-size="6.5" textLength="9.3" lengthAdjust="spacingAndGlyphs" stroke="#222" stroke-width="0.08">0-1</text>
<text x="261.7" y="40.6" font-size="6.5" textLength="9.3" lengthAdjust="spacingAndGlyphs" stroke="#222" stroke-width="0.08">1-2</text>
<text x="278.5" y="40.6" font-size="6.5" textLength="9.3" lengthAdjust="spacingAndGlyphs" stroke="#222" stroke-width="0.08">2-3</text>
<text x="295.7" y="40.6" font-size="6.5" textLength="10.3" lengthAdjust="spacingAndGlyphs" stroke="#222" stroke-width="0.08">3-6</text>
<text x="315.5" y="40.6" font-size="6.5" textLength="13.2" lengthAdjust="spacingAndGlyphs" stroke="#222" stroke-width="0.08">6-12</text>
<text x="336.7" y="40.6" font-size="6.5" textLength="37.1" lengthAdjust="spacingAndGlyphs" stroke="#222" stroke-width="0.08">&gt;12 months</text>
<text x="387.2" y="40.6" font-size="6.5" textLength="9" lengthAdjust="spacingAndGlyphs" stroke="#222" stroke-width="0.08">0-1</text>
<text x="403.1" y="40.6" font-size="6.5" textLength="9.2" lengthAdjust="spacingAndGlyphs" stroke="#222" stroke-width="0.08">1-2</text>
<text x="414.6" y="40.6" font-size="6.5" textLength="10" lengthAdjust="spacingAndGlyphs" stroke="#222" stroke-width="0.08">2-3</text>
<text x="427.3" y="40.6" font-size="6.5" textLength="10.4" lengthAdjust="spacingAndGlyphs" stroke="#222" stroke-width="0.08">3-6</text>
<text x="447" y="40.6" font-size="6.5" textLength="13.8" lengthAdjust="spacingAndGlyphs" stroke="#222" stroke-width="0.08">6-12</text>
<text x="468.4" y="40.6" font-size="6.5" textLength="35.1" lengthAdjust="spacingAndGlyphs" stroke="#222" stroke-width="0.08">&gt;12 months</text>
<line x1="256.5" y1="61.7" x2="256.5" y2="119.3" stroke="#7b7ba8" stroke-width="0.75" stroke-dasharray="0.9 1.3"/>
<line x1="274.6" y1="48" x2="274.6" y2="119.3" stroke="#7b7ba8" stroke-width="0.75" stroke-dasharray="0.9 1.3"/>
<line x1="292.8" y1="38" x2="292.8" y2="119.3" stroke="#7b7ba8" stroke-width="0.75" stroke-dasharray="0.9 1.3"/>
<line x1="311.1" y1="38" x2="311.1" y2="119.3" stroke="#7b7ba8" stroke-width="0.75" stroke-dasharray="0.9 1.3"/>
<line x1="334.6" y1="38" x2="334.6" y2="119.3" stroke="#7b7ba8" stroke-width="0.75" stroke-dasharray="0.9 1.3"/>
<line x1="400.5" y1="61.2" x2="400.5" y2="119.3" stroke="#7b7ba8" stroke-width="0.75" stroke-dasharray="0.9 1.3"/>
<line x1="415.5" y1="61.2" x2="415.5" y2="119.3" stroke="#7b7ba8" stroke-width="0.75" stroke-dasharray="0.9 1.3"/>
<line x1="425.5" y1="38" x2="425.5" y2="119.3" stroke="#7b7ba8" stroke-width="0.75" stroke-dasharray="0.9 1.3"/>
<line x1="440.5" y1="38" x2="440.5" y2="119.3" stroke="#7b7ba8" stroke-width="0.75" stroke-dasharray="0.9 1.3"/>
<line x1="465.7" y1="38" x2="465.7" y2="119.3" stroke="#7b7ba8" stroke-width="0.75" stroke-dasharray="0.9 1.3"/>
<text x="246.4" y="50.2" font-size="8.8" textLength="30" lengthAdjust="spacingAndGlyphs">Z13264</text>
<text x="388.3" y="50.6" font-size="8.8" textLength="30.1" lengthAdjust="spacingAndGlyphs">Z14004</text>
<text transform="translate(209.6 82.2) rotate(-90)" font-size="8.6" text-anchor="middle" textLength="51.1" lengthAdjust="spacingAndGlyphs">% abundance in</text>
<text transform="translate(219.8 82.7) rotate(-90)" font-size="8.6" text-anchor="middle" textLength="52.7" lengthAdjust="spacingAndGlyphs">peripheral blood</text>
<text x="342.5" y="152" font-size="9" textLength="65" lengthAdjust="spacingAndGlyphs">Days post-transplant</text>
<text x="53" y="182.4" font-size="8.5" textLength="182.6" lengthAdjust="spacingAndGlyphs">Longitudinal contribution and persistence of</text>
<text x="85.2" y="192.7" font-size="8.5" textLength="117.2" lengthAdjust="spacingAndGlyphs">multipotent 5 lineage clones</text>
<text x="26.5" y="202.2" font-size="6.4" textLength="23.1" lengthAdjust="spacingAndGlyphs" stroke="#222" stroke-width="0.08">Months</text>
<text x="39.5" y="210.6" font-size="6.8" textLength="9.5" lengthAdjust="spacingAndGlyphs" stroke="#222" stroke-width="0.08">0-1</text>
<text x="60.5" y="210.6" font-size="6.8" textLength="10.1" lengthAdjust="spacingAndGlyphs" stroke="#222" stroke-width="0.08">1-2</text>
<text x="85.9" y="210.6" font-size="6.8" textLength="9.8" lengthAdjust="spacingAndGlyphs" stroke="#222" stroke-width="0.08">2-3</text>
<text x="115.3" y="210.6" font-size="6.8" textLength="9.5" lengthAdjust="spacingAndGlyphs" stroke="#222" stroke-width="0.08">3-6</text>
<text x="155.5" y="210.6" font-size="6.8" textLength="14" lengthAdjust="spacingAndGlyphs" stroke="#222" stroke-width="0.08">6-12</text>
<text x="191.5" y="210.6" font-size="6.8" textLength="18.4" lengthAdjust="spacingAndGlyphs" stroke="#222" stroke-width="0.08">12-24</text>
<text x="226.8" y="210.6" font-size="6.8" textLength="16.7" lengthAdjust="spacingAndGlyphs" stroke="#222" stroke-width="0.08">24-49</text>
<rect x="36.8" y="213.5" width="212.7" height="201.5" fill="#ebebed"/>
<path shape-rendering="crispEdges" fill="rgb(233,237,246)" d="M44 214.5h7v0.5h-7zM51 213.5h8v1h-8zM59 213.5h7v1h-7zM59 216.5h7v2h-7zM59 221.5h7v2h-7zM66 213.5h7v1h-7zM66 216.5h7v2h-7zM66 221.5h7v2h-7zM73 213.5h8v1h-8zM73 217.5h8v1h-8zM73 222.5h8v1h-8zM95 213.5h8v1h-8zM95 217.5h8v1h-8zM103 213.5h7v2h-7zM103 216.5h7v3h-7zM103 221.5h7v3h-7zM103 227.5h7v1h-7zM103 241.5h7v1h-7zM103 243.5h7v1h-7zM103 245.5h7v1h-7zM103 247.5h7v2h-7zM103 256.5h7v1h-7zM103 258.5h7v1h-7zM103 260.5h7v1h-7zM103 276.5h7v1h-7zM103 294.5h7v1h-7zM103 297.5h7v1h-7zM103 300.5h7v1h-7zM103 306.5h7v2h-7zM103 313.5h7v1h-7zM103 316.5h7v3h-7zM103 322.5h7v1h-7zM103 326.5h7v1h-7zM103 339.5h7v2h-7zM103 346.5h7v1h-7zM103 357.5h7v1h-7zM103 359.5h7v1h-7zM103 362.5h7v1h-7zM103 364.5h7v0.5h-7zM125 213.5h7v1h-7zM125 216.5h7v3h-7zM125 221.5h7v2h-7zM125 230.5h7v1h-7zM125 241.5h7v1h-7zM125 243.5h7v1h-7zM125 252.5h7v2h-7zM125 260.5h7v1h-7zM125 262.5h7v1h-7zM125 294.5h7v1h-7zM125 300.5h7v1h-7zM125 306.5h7v1h-7zM125 316.5h7v1h-7zM125 318.5h7v1h-7zM125 322.5h7v1h-7zM125 326.5h7v1h-7zM125 331.5h7v1h-7zM125 346.5h7v1h-7zM125 353.5h7v1h-7zM125 359.5h7v1h-7zM125 363.5h7v1h-7zM125 370.5h7v1h-7zM125 375.5h7v1h-7zM125 381.5h7v2h-7zM125 384.5h7v2h-7zM125 388.5h7v2h-7zM125 402.5h7v1h-7zM125 404.5h7v0.2h-7zM132 213.5h7v1h-7zM132 216.5h7v2h-7zM132 221.5h7v2h-7zM139 221.5h8v2h-8zM154 213.5h7v1h-7zM154 216.5h7v2h-7zM154 221.5h7v1h-7zM154 326.5h7v1h-7zM154 380.5h7v1h-7zM161 222.5h8v1h-8zM205 217.5h8v1h-8zM205 221.5h8v1h-8zM242 213.5h8v1h-8zM242 216.5h8v3h-8zM242 221.5h8v2h-8zM242 272.5h8v1h-8zM242 317.5h8v1h-8zM242 326.5h8v1h-8zM242 370.5h8v1h-8zM242 388.5h8v1h-8zM242 402.5h8v1h-8zM242 404.5h8v1h-8z"/>
<path shape-rendering="crispEdges" fill="rgb(217,227,241)" d="M44 213.5h7v1h-7zM51 214.5h8v3h-8zM59 214.5h7v1h-7zM59 218.5h7v2h-7zM59 223.5h7v1h-7zM66 214.5h7v2h-7zM66 218.5h7v2h-7zM66 223.5h7v1h-7zM66 227.5h7v1h-7zM73 215.5h8v2h-8zM73 218.5h8v1h-8zM73 220.5h8v2h-8zM73 237.5h8v1h-8zM73 241.5h8v1h-8zM73 245.5h8v1h-8zM88 216.5h7v1h-7zM88 221.5h7v1h-7zM95 216.5h8v1h-8zM95 218.5h8v1h-8zM95 221.5h8v2h-8zM95 231.5h8v1h-8zM95 295.5h8v1h-8zM95 326.5h8v1h-8zM95 331.5h8v1h-8zM103 219.5h7v2h-7zM103 224.5h7v3h-7zM103 228.5h7v1h-7zM103 230.5h7v9h-7zM103 240.5h7v1h-7zM103 242.5h7v1h-7zM103 244.5h7v1h-7zM103 246.5h7v1h-7zM103 250.5h7v1h-7zM103 252.5h7v4h-7zM103 257.5h7v1h-7zM103 259.5h7v1h-7zM103 261.5h7v9h-7zM103 271.5h7v2h-7zM103 274.5h7v1h-7zM103 278.5h7v8h-7zM103 287.5h7v1h-7zM103 289.5h7v3h-7zM103 295.5h7v1h-7zM103 303.5h7v1h-7zM103 305.5h7v1h-7zM103 308.5h7v1h-7zM103 310.5h7v2h-7zM103 314.5h7v1h-7zM103 319.5h7v1h-7zM103 323.5h7v1h-7zM103 325.5h7v1h-7zM103 330.5h7v6h-7zM103 337.5h7v2h-7zM103 343.5h7v3h-7zM103 347.5h7v10h-7zM103 358.5h7v1h-7zM103 361.5h7v1h-7zM103 363.5h7v1h-7zM117 216.5h8v2h-8zM125 214.5h7v2h-7zM125 219.5h7v2h-7zM125 223.5h7v2h-7zM125 227.5h7v2h-7zM125 231.5h7v8h-7zM125 240.5h7v1h-7zM125 242.5h7v1h-7zM125 244.5h7v5h-7zM125 251.5h7v1h-7zM125 255.5h7v5h-7zM125 263.5h7v1h-7zM125 265.5h7v2h-7zM125 268.5h7v11h-7zM125 280.5h7v1h-7zM125 282.5h7v4h-7zM125 289.5h7v5h-7zM125 295.5h7v1h-7zM125 298.5h7v2h-7zM125 303.5h7v1h-7zM125 305.5h7v1h-7zM125 307.5h7v1h-7zM125 311.5h7v1h-7zM125 313.5h7v2h-7zM125 317.5h7v1h-7zM125 319.5h7v2h-7zM125 324.5h7v2h-7zM125 329.5h7v2h-7zM125 332.5h7v1h-7zM125 335.5h7v1h-7zM125 337.5h7v1h-7zM125 339.5h7v2h-7zM125 342.5h7v1h-7zM125 344.5h7v2h-7zM125 347.5h7v4h-7zM125 352.5h7v1h-7zM125 354.5h7v1h-7zM125 357.5h7v2h-7zM125 362.5h7v1h-7zM125 364.5h7v3h-7zM125 368.5h7v2h-7zM125 371.5h7v4h-7zM125 378.5h7v3h-7zM125 391.5h7v7h-7zM125 401.5h7v1h-7zM125 403.5h7v1h-7zM132 214.5h7v2h-7zM132 218.5h7v2h-7zM132 223.5h7v2h-7zM132 231.5h7v2h-7zM132 237.5h7v1h-7zM132 246.5h7v1h-7zM132 250.5h7v1h-7zM132 257.5h7v1h-7zM132 260.5h7v1h-7zM132 264.5h7v1h-7zM132 271.5h7v1h-7zM132 274.5h7v1h-7zM132 279.5h7v1h-7zM132 283.5h7v1h-7zM132 292.5h7v1h-7zM132 294.5h7v2h-7zM132 303.5h7v1h-7zM132 305.5h7v1h-7zM132 316.5h7v2h-7zM132 326.5h7v1h-7zM132 343.5h7v1h-7zM132 351.5h7v1h-7zM132 359.5h7v1h-7zM132 362.5h7v1h-7zM132 364.5h7v2h-7zM132 368.5h7v1h-7zM132 370.5h7v1h-7zM132 372.5h7v2h-7zM132 382.5h7v1h-7zM132 385.5h7v1h-7zM132 390.5h7v1h-7zM132 393.5h7v1h-7zM132 395.5h7v1h-7zM132 400.5h7v2h-7zM132 403.5h7v1.8h-7zM139 213.5h8v1h-8zM139 217.5h8v1h-8zM154 218.5h7v2h-7zM154 222.5h7v1h-7zM154 240.5h7v2h-7zM154 243.5h7v1h-7zM154 245.5h7v2h-7zM154 258.5h7v1h-7zM154 300.5h7v1h-7zM154 306.5h7v1h-7zM154 317.5h7v1h-7zM154 325.5h7v1h-7zM154 331.5h7v1h-7zM154 353.5h7v1h-7zM154 375.5h7v1h-7zM154 381.5h7v1h-7zM154 393.5h7v2h-7zM154 402.5h7v1h-7zM154 404.5h7v2h-7zM161 214.5h8v1h-8zM161 217.5h8v2h-8zM161 221.5h8v1h-8zM176 243.5h7v1h-7zM176 258.5h7v1h-7zM176 260.5h7v1h-7zM176 382.5h7v1h-7zM176 392.5h7v1h-7zM183 213.5h8v1h-8zM183 216.5h8v1h-8zM183 221.5h8v1h-8zM191 214.5h7v3h-7zM191 218.5h7v1h-7zM191 221.5h7v2h-7zM191 232.5h7v1h-7zM191 389.5h7v1h-7zM205 213.5h8v1h-8zM205 215.5h8v2h-8zM205 219.5h8v1h-8zM205 222.5h8v2h-8zM205 245.5h8v1h-8zM205 247.5h8v1h-8zM205 260.5h8v1h-8zM205 306.5h8v1h-8zM205 326.5h8v1h-8zM205 370.5h8v1h-8zM205 404.5h8v1h-8zM227 326.5h8v1h-8zM242 214.5h8v2h-8zM242 219.5h8v2h-8zM242 223.5h8v3h-8zM242 227.5h8v2h-8zM242 230.5h8v2h-8zM242 235.5h8v1h-8zM242 240.5h8v2h-8zM242 243.5h8v1h-8zM242 245.5h8v2h-8zM242 253.5h8v1h-8zM242 255.5h8v1h-8zM242 257.5h8v4h-8zM242 262.5h8v1h-8zM242 264.5h8v3h-8zM242 268.5h8v1h-8zM242 270.5h8v1h-8zM242 273.5h8v1h-8zM242 276.5h8v1h-8zM242 278.5h8v1h-8zM242 283.5h8v1h-8zM242 297.5h8v3h-8zM242 305.5h8v1h-8zM242 312.5h8v3h-8zM242 319.5h8v2h-8zM242 322.5h8v2h-8zM242 325.5h8v1h-8zM242 329.5h8v1h-8zM242 332.5h8v1h-8zM242 340.5h8v1h-8zM242 344.5h8v1h-8zM242 349.5h8v2h-8zM242 352.5h8v1h-8zM242 354.5h8v2h-8zM242 357.5h8v1h-8zM242 366.5h8v1h-8zM242 369.5h8v1h-8zM242 373.5h8v1h-8zM242 375.5h8v1h-8zM242 380.5h8v2h-8zM242 386.5h8v1h-8zM242 391.5h8v1h-8zM242 394.5h8v5h-8zM242 400.5h8v1h-8zM242 405.5h8v2h-8zM242 409.5h8v1h-8zM242 414.5h8v0.34h-8z"/>
<path shape-rendering="crispEdges" fill="rgb(202,217,237)" d="M59 215.5h7v1h-7zM59 220.5h7v1h-7zM66 224.5h7v1h-7zM73 219.5h8v1h-8zM73 223.5h8v1h-8zM73 227.5h8v1h-8zM73 234.5h8v2h-8zM73 238.5h8v2h-8zM73 243.5h8v2h-8zM73 250.5h8v0.5h-8zM88 213.5h7v1h-7zM88 218.5h7v1h-7zM88 222.5h7v2h-7zM88 243.5h7v1h-7zM88 260.5h7v1h-7zM88 317.5h7v1h-7zM95 214.5h8v2h-8zM95 219.5h8v2h-8zM95 223.5h8v1h-8zM95 227.5h8v1h-8zM95 237.5h8v1h-8zM95 240.5h8v1h-8zM95 251.5h8v1h-8zM95 253.5h8v1h-8zM95 258.5h8v1h-8zM95 262.5h8v1h-8zM95 264.5h8v1h-8zM95 272.5h8v1h-8zM95 277.5h8v1h-8zM95 282.5h8v1h-8zM95 290.5h8v1h-8zM95 307.5h8v1h-8zM95 310.5h8v2h-8zM95 313.5h8v1h-8zM95 316.5h8v4h-8zM95 322.5h8v1h-8zM95 330.5h8v1h-8zM95 347.5h8v1h-8zM95 355.5h8v1h-8zM103 229.5h7v1h-7zM103 239.5h7v1h-7zM103 251.5h7v1h-7zM103 270.5h7v1h-7zM103 275.5h7v1h-7zM103 277.5h7v1h-7zM103 286.5h7v1h-7zM103 292.5h7v1h-7zM103 298.5h7v2h-7zM103 301.5h7v2h-7zM103 304.5h7v1h-7zM103 309.5h7v1h-7zM103 312.5h7v1h-7zM103 315.5h7v1h-7zM103 320.5h7v2h-7zM103 327.5h7v1h-7zM103 329.5h7v1h-7zM103 336.5h7v1h-7zM103 342.5h7v1h-7zM103 360.5h7v1h-7zM110 213.5h7v1h-7zM110 216.5h7v2h-7zM110 219.5h7v1h-7zM110 223.5h7v1h-7zM117 213.5h8v2h-8zM117 218.5h8v1h-8zM125 225.5h7v2h-7zM125 239.5h7v1h-7zM125 250.5h7v1h-7zM125 254.5h7v1h-7zM125 261.5h7v1h-7zM125 264.5h7v1h-7zM125 267.5h7v1h-7zM125 279.5h7v1h-7zM125 281.5h7v1h-7zM125 286.5h7v3h-7zM125 296.5h7v2h-7zM125 301.5h7v2h-7zM125 304.5h7v1h-7zM125 308.5h7v3h-7zM125 312.5h7v1h-7zM125 315.5h7v1h-7zM125 321.5h7v1h-7zM125 323.5h7v1h-7zM125 327.5h7v2h-7zM125 333.5h7v2h-7zM125 336.5h7v1h-7zM125 338.5h7v1h-7zM125 341.5h7v1h-7zM125 343.5h7v1h-7zM125 351.5h7v1h-7zM125 355.5h7v2h-7zM125 361.5h7v1h-7zM125 367.5h7v1h-7zM125 376.5h7v2h-7zM125 386.5h7v2h-7zM125 398.5h7v3h-7zM132 227.5h7v1h-7zM132 235.5h7v1h-7zM132 238.5h7v1h-7zM132 240.5h7v2h-7zM132 243.5h7v3h-7zM132 247.5h7v1h-7zM132 249.5h7v1h-7zM132 252.5h7v1h-7zM132 254.5h7v2h-7zM132 258.5h7v2h-7zM132 266.5h7v3h-7zM132 270.5h7v1h-7zM132 272.5h7v2h-7zM132 276.5h7v3h-7zM132 281.5h7v1h-7zM132 285.5h7v2h-7zM132 289.5h7v1h-7zM132 291.5h7v1h-7zM132 297.5h7v1h-7zM132 300.5h7v1h-7zM132 306.5h7v2h-7zM132 309.5h7v1h-7zM132 311.5h7v1h-7zM132 313.5h7v3h-7zM132 318.5h7v3h-7zM132 322.5h7v3h-7zM132 330.5h7v4h-7zM132 339.5h7v2h-7zM132 344.5h7v5h-7zM132 352.5h7v1h-7zM132 357.5h7v2h-7zM132 360.5h7v1h-7zM132 369.5h7v1h-7zM132 371.5h7v1h-7zM132 375.5h7v1h-7zM132 379.5h7v3h-7zM132 383.5h7v2h-7zM132 388.5h7v2h-7zM132 392.5h7v1h-7zM132 394.5h7v1h-7zM132 396.5h7v3h-7zM132 402.5h7v1h-7zM139 216.5h8v1h-8zM139 218.5h8v2h-8zM139 235.5h8v2h-8zM139 245.5h8v1h-8zM139 252.5h8v1h-8zM139 260.5h8v1h-8zM139 262.5h8v1h-8zM139 283.5h8v1h-8zM139 326.5h8v1h-8zM139 339.5h8v1h-8zM139 346.5h8v1h-8zM139 358.5h8v1h-8zM139 380.5h8v3h-8zM139 394.5h8v1h-8zM154 215.5h7v1h-7zM154 220.5h7v1h-7zM154 223.5h7v5h-7zM154 231.5h7v2h-7zM154 234.5h7v1h-7zM154 236.5h7v1h-7zM154 244.5h7v1h-7zM154 247.5h7v1h-7zM154 252.5h7v1h-7zM154 255.5h7v1h-7zM154 271.5h7v2h-7zM154 274.5h7v1h-7zM154 276.5h7v1h-7zM154 283.5h7v1h-7zM154 289.5h7v2h-7zM154 292.5h7v1h-7zM154 294.5h7v1h-7zM154 304.5h7v1h-7zM154 311.5h7v2h-7zM154 318.5h7v2h-7zM154 334.5h7v1h-7zM154 339.5h7v1h-7zM154 343.5h7v1h-7zM154 345.5h7v1h-7zM154 349.5h7v1h-7zM154 352.5h7v1h-7zM154 354.5h7v1h-7zM154 364.5h7v2h-7zM154 373.5h7v1h-7zM154 383.5h7v2h-7zM154 390.5h7v1h-7zM154 396.5h7v1h-7zM154 410.5h7v1h-7zM161 215.5h8v2h-8zM161 266.5h8v1h-8zM161 380.5h8v1h-8zM176 227.5h7v1h-7zM176 231.5h7v1h-7zM176 234.5h7v1h-7zM176 238.5h7v1h-7zM176 252.5h7v2h-7zM176 263.5h7v1h-7zM176 270.5h7v1h-7zM176 276.5h7v2h-7zM176 281.5h7v1h-7zM176 287.5h7v2h-7zM176 292.5h7v1h-7zM176 295.5h7v1h-7zM176 297.5h7v1h-7zM176 305.5h7v1h-7zM176 318.5h7v1h-7zM176 322.5h7v1h-7zM176 326.5h7v1h-7zM176 336.5h7v1h-7zM176 339.5h7v1h-7zM176 347.5h7v1h-7zM176 353.5h7v1h-7zM176 358.5h7v1h-7zM176 363.5h7v1h-7zM176 372.5h7v1h-7zM176 374.5h7v2h-7zM176 377.5h7v1h-7zM176 379.5h7v2h-7zM176 389.5h7v1h-7zM176 393.5h7v1h-7zM176 396.5h7v1h-7zM176 398.5h7v1h-7zM176 402.5h7v1h-7zM176 404.5h7v1h-7zM176 411.5h7v1h-7zM183 215.5h8v1h-8zM183 217.5h8v1h-8zM183 220.5h8v1h-8zM183 222.5h8v2h-8zM183 235.5h8v1h-8zM183 326.5h8v1h-8zM183 350.5h8v1h-8zM183 357.5h8v1h-8zM183 370.5h8v1h-8zM183 380.5h8v3h-8zM183 389.5h8v1h-8zM191 213.5h7v1h-7zM191 217.5h7v1h-7zM191 219.5h7v2h-7zM191 230.5h7v1h-7zM191 243.5h7v1h-7zM191 256.5h7v1h-7zM191 258.5h7v1h-7zM191 264.5h7v1h-7zM191 266.5h7v1h-7zM191 280.5h7v1h-7zM191 305.5h7v1h-7zM191 311.5h7v1h-7zM191 316.5h7v1h-7zM191 318.5h7v2h-7zM191 326.5h7v1h-7zM191 329.5h7v2h-7zM191 339.5h7v1h-7zM191 343.5h7v1h-7zM191 346.5h7v1h-7zM191 357.5h7v1h-7zM191 359.5h7v1h-7zM191 373.5h7v2h-7zM191 380.5h7v1h-7zM191 382.5h7v1h-7zM191 384.5h7v1h-7zM191 388.5h7v1h-7zM191 392.5h7v1h-7zM191 395.5h7v1h-7zM191 397.5h7v1h-7zM205 214.5h8v1h-8zM205 218.5h8v1h-8zM205 220.5h8v1h-8zM205 224.5h8v1h-8zM205 230.5h8v3h-8zM205 234.5h8v1h-8zM205 236.5h8v1h-8zM205 240.5h8v1h-8zM205 243.5h8v1h-8zM205 251.5h8v2h-8zM205 266.5h8v1h-8zM205 268.5h8v1h-8zM205 291.5h8v1h-8zM205 294.5h8v1h-8zM205 313.5h8v1h-8zM205 317.5h8v1h-8zM205 323.5h8v1h-8zM205 337.5h8v1h-8zM205 339.5h8v1h-8zM205 375.5h8v1h-8zM205 380.5h8v2h-8zM205 384.5h8v1h-8zM205 393.5h8v1h-8zM205 400.5h8v1h-8zM205 402.5h8v1h-8zM205 405.5h8v1h-8zM205 407.5h8v1h-8zM205 413.5h8v0.74h-8zM213 213.5h7v1h-7zM213 216.5h7v1h-7zM220 258.5h7v1h-7zM220 300.5h7v1h-7zM220 347.5h7v1h-7zM220 359.5h7v1h-7zM220 380.5h7v1h-7zM220 382.5h7v1h-7zM220 394.5h7v1h-7zM227 231.5h8v2h-8zM227 243.5h8v3h-8zM227 255.5h8v1h-8zM227 258.5h8v1h-8zM227 268.5h8v1h-8zM227 280.5h8v1h-8zM227 282.5h8v1h-8zM227 295.5h8v1h-8zM227 297.5h8v1h-8zM227 300.5h8v1h-8zM227 311.5h8v1h-8zM227 323.5h8v1h-8zM227 337.5h8v1h-8zM227 341.5h8v1h-8zM227 358.5h8v1h-8zM227 372.5h8v1h-8zM227 380.5h8v1h-8zM227 384.5h8v1h-8zM227 394.5h8v1h-8zM242 226.5h8v1h-8zM242 229.5h8v1h-8zM242 232.5h8v3h-8zM242 236.5h8v3h-8zM242 244.5h8v1h-8zM242 247.5h8v2h-8zM242 250.5h8v3h-8zM242 254.5h8v1h-8zM242 256.5h8v1h-8zM242 263.5h8v1h-8zM242 271.5h8v1h-8zM242 277.5h8v1h-8zM242 280.5h8v3h-8zM242 284.5h8v2h-8zM242 288.5h8v4h-8zM242 294.5h8v2h-8zM242 300.5h8v1h-8zM242 302.5h8v1h-8zM242 306.5h8v1h-8zM242 308.5h8v1h-8zM242 311.5h8v1h-8zM242 316.5h8v1h-8zM242 318.5h8v1h-8zM242 321.5h8v1h-8zM242 324.5h8v1h-8zM242 328.5h8v1h-8zM242 330.5h8v2h-8zM242 334.5h8v2h-8zM242 337.5h8v1h-8zM242 339.5h8v1h-8zM242 341.5h8v3h-8zM242 345.5h8v4h-8zM242 353.5h8v1h-8zM242 358.5h8v2h-8zM242 362.5h8v4h-8zM242 367.5h8v2h-8zM242 372.5h8v1h-8zM242 374.5h8v1h-8zM242 378.5h8v2h-8zM242 382.5h8v4h-8zM242 389.5h8v1h-8zM242 392.5h8v2h-8zM242 401.5h8v1h-8zM242 403.5h8v1h-8zM242 408.5h8v1h-8zM242 410.5h8v4h-8z"/>
<path shape-rendering="crispEdges" fill="rgb(186,207,232)" d="M66 225.5h7v1h-7zM73 224.5h8v1h-8zM73 226.5h8v1h-8zM73 228.5h8v1h-8zM73 230.5h8v3h-8zM73 236.5h8v1h-8zM73 240.5h8v1h-8zM73 242.5h8v1h-8zM73 246.5h8v3h-8zM88 214.5h7v2h-7zM88 217.5h7v1h-7zM88 235.5h7v1h-7zM88 238.5h7v1h-7zM88 252.5h7v1h-7zM88 270.5h7v1h-7zM88 279.5h7v1h-7zM88 284.5h7v1h-7zM88 294.5h7v1h-7zM88 311.5h7v1h-7zM88 322.5h7v1h-7zM88 331.5h7v1h-7zM95 224.5h8v1h-8zM95 230.5h8v1h-8zM95 232.5h8v1h-8zM95 241.5h8v5h-8zM95 248.5h8v1h-8zM95 250.5h8v1h-8zM95 266.5h8v3h-8zM95 270.5h8v1h-8zM95 274.5h8v1h-8zM95 280.5h8v1h-8zM95 283.5h8v1h-8zM95 291.5h8v1h-8zM95 293.5h8v2h-8zM95 296.5h8v2h-8zM95 299.5h8v1h-8zM95 305.5h8v1h-8zM95 308.5h8v1h-8zM95 323.5h8v1h-8zM95 327.5h8v1h-8zM95 334.5h8v1h-8zM95 339.5h8v1h-8zM95 341.5h8v1h-8zM95 344.5h8v2h-8zM95 351.5h8v1h-8zM95 354.5h8v1h-8zM95 357.5h8v1h-8zM95 359.5h8v1h-8zM103 249.5h7v1h-7zM110 215.5h7v1h-7zM110 222.5h7v1h-7zM117 215.5h8v1h-8zM117 220.5h8v3h-8zM117 231.5h8v1h-8zM117 245.5h8v1h-8zM117 255.5h8v1h-8zM117 266.5h8v1h-8zM117 347.5h8v2h-8zM117 379.5h8v1h-8zM125 249.5h7v1h-7zM132 225.5h7v2h-7zM132 228.5h7v3h-7zM132 233.5h7v2h-7zM132 236.5h7v1h-7zM132 239.5h7v1h-7zM132 242.5h7v1h-7zM132 248.5h7v1h-7zM132 251.5h7v1h-7zM132 253.5h7v1h-7zM132 261.5h7v3h-7zM132 265.5h7v1h-7zM132 275.5h7v1h-7zM132 280.5h7v1h-7zM132 282.5h7v1h-7zM132 284.5h7v1h-7zM132 287.5h7v2h-7zM132 290.5h7v1h-7zM132 296.5h7v1h-7zM132 298.5h7v2h-7zM132 308.5h7v1h-7zM132 310.5h7v1h-7zM132 312.5h7v1h-7zM132 325.5h7v1h-7zM132 327.5h7v1h-7zM132 334.5h7v2h-7zM132 337.5h7v2h-7zM132 341.5h7v2h-7zM132 349.5h7v2h-7zM132 353.5h7v3h-7zM132 361.5h7v1h-7zM132 363.5h7v1h-7zM132 366.5h7v2h-7zM132 374.5h7v1h-7zM132 376.5h7v3h-7zM132 386.5h7v1h-7zM132 399.5h7v1h-7zM139 214.5h8v2h-8zM139 220.5h8v1h-8zM139 223.5h8v1h-8zM139 227.5h8v1h-8zM139 232.5h8v2h-8zM139 238.5h8v1h-8zM139 241.5h8v1h-8zM139 243.5h8v1h-8zM139 248.5h8v1h-8zM139 251.5h8v1h-8zM139 254.5h8v1h-8zM139 263.5h8v3h-8zM139 278.5h8v1h-8zM139 296.5h8v1h-8zM139 303.5h8v1h-8zM139 305.5h8v1h-8zM139 309.5h8v1h-8zM139 312.5h8v1h-8zM139 327.5h8v1h-8zM139 334.5h8v2h-8zM139 340.5h8v1h-8zM139 345.5h8v1h-8zM139 350.5h8v1h-8zM139 369.5h8v1h-8zM139 379.5h8v1h-8zM139 383.5h8v1h-8zM139 389.5h8v1h-8zM139 395.5h8v1h-8zM139 401.5h8v1h-8zM139 405.5h8v1h-8zM154 228.5h7v1h-7zM154 230.5h7v1h-7zM154 233.5h7v1h-7zM154 235.5h7v1h-7zM154 238.5h7v2h-7zM154 242.5h7v1h-7zM154 248.5h7v1h-7zM154 250.5h7v2h-7zM154 253.5h7v1h-7zM154 256.5h7v1h-7zM154 259.5h7v2h-7zM154 264.5h7v1h-7zM154 266.5h7v1h-7zM154 269.5h7v1h-7zM154 277.5h7v1h-7zM154 279.5h7v2h-7zM154 282.5h7v1h-7zM154 284.5h7v3h-7zM154 295.5h7v3h-7zM154 309.5h7v2h-7zM154 313.5h7v2h-7zM154 316.5h7v1h-7zM154 320.5h7v1h-7zM154 323.5h7v2h-7zM154 332.5h7v1h-7zM154 335.5h7v1h-7zM154 337.5h7v2h-7zM154 342.5h7v1h-7zM154 344.5h7v1h-7zM154 346.5h7v1h-7zM154 348.5h7v1h-7zM154 351.5h7v1h-7zM154 356.5h7v2h-7zM154 359.5h7v1h-7zM154 362.5h7v1h-7zM154 368.5h7v3h-7zM154 379.5h7v1h-7zM154 382.5h7v1h-7zM154 385.5h7v5h-7zM154 395.5h7v1h-7zM154 399.5h7v1h-7zM154 407.5h7v1h-7zM161 213.5h8v1h-8zM161 219.5h8v1h-8zM161 223.5h8v1h-8zM161 234.5h8v1h-8zM161 248.5h8v1h-8zM161 262.5h8v1h-8zM161 279.5h8v1h-8zM161 282.5h8v1h-8zM161 291.5h8v1h-8zM161 294.5h8v1h-8zM161 305.5h8v1h-8zM161 322.5h8v2h-8zM161 346.5h8v2h-8zM161 359.5h8v1h-8zM161 364.5h8v2h-8zM161 369.5h8v1h-8zM161 375.5h8v1h-8zM161 393.5h8v2h-8zM161 411.5h8v2h-8zM176 228.5h7v1h-7zM176 235.5h7v1h-7zM176 240.5h7v1h-7zM176 242.5h7v1h-7zM176 244.5h7v4h-7zM176 255.5h7v1h-7zM176 257.5h7v1h-7zM176 262.5h7v1h-7zM176 264.5h7v1h-7zM176 266.5h7v1h-7zM176 271.5h7v3h-7zM176 280.5h7v1h-7zM176 282.5h7v1h-7zM176 286.5h7v1h-7zM176 290.5h7v2h-7zM176 296.5h7v1h-7zM176 300.5h7v1h-7zM176 302.5h7v1h-7zM176 306.5h7v3h-7zM176 312.5h7v2h-7zM176 323.5h7v1h-7zM176 331.5h7v2h-7zM176 343.5h7v1h-7zM176 345.5h7v1h-7zM176 354.5h7v1h-7zM176 359.5h7v1h-7zM176 370.5h7v1h-7zM176 381.5h7v1h-7zM176 384.5h7v1h-7zM176 394.5h7v1h-7zM176 397.5h7v1h-7zM176 401.5h7v1h-7zM176 403.5h7v1h-7zM176 405.5h7v1h-7zM176 409.5h7v2h-7zM183 214.5h8v1h-8zM183 218.5h8v1h-8zM183 228.5h8v1h-8zM183 230.5h8v1h-8zM183 238.5h8v1h-8zM183 241.5h8v1h-8zM183 257.5h8v1h-8zM183 260.5h8v1h-8zM183 262.5h8v1h-8zM183 266.5h8v1h-8zM183 270.5h8v1h-8zM183 279.5h8v1h-8zM183 291.5h8v1h-8zM183 295.5h8v1h-8zM183 297.5h8v1h-8zM183 307.5h8v1h-8zM183 314.5h8v1h-8zM183 319.5h8v1h-8zM183 332.5h8v1h-8zM183 341.5h8v1h-8zM183 344.5h8v1h-8zM183 348.5h8v1h-8zM183 355.5h8v1h-8zM183 361.5h8v1h-8zM183 368.5h8v1h-8zM183 373.5h8v1h-8zM183 384.5h8v1h-8zM183 387.5h8v1h-8zM183 392.5h8v2h-8zM183 410.5h8v1h-8zM191 227.5h7v1h-7zM191 231.5h7v1h-7zM191 233.5h7v1h-7zM191 236.5h7v2h-7zM191 241.5h7v2h-7zM191 246.5h7v2h-7zM191 250.5h7v3h-7zM191 254.5h7v1h-7zM191 257.5h7v1h-7zM191 260.5h7v1h-7zM191 263.5h7v1h-7zM191 267.5h7v1h-7zM191 271.5h7v1h-7zM191 274.5h7v2h-7zM191 277.5h7v3h-7zM191 282.5h7v1h-7zM191 284.5h7v1h-7zM191 291.5h7v1h-7zM191 294.5h7v2h-7zM191 304.5h7v1h-7zM191 306.5h7v1h-7zM191 309.5h7v1h-7zM191 313.5h7v1h-7zM191 317.5h7v1h-7zM191 320.5h7v1h-7zM191 322.5h7v1h-7zM191 331.5h7v1h-7zM191 340.5h7v1h-7zM191 345.5h7v1h-7zM191 350.5h7v1h-7zM191 353.5h7v1h-7zM191 355.5h7v1h-7zM191 358.5h7v1h-7zM191 361.5h7v6h-7zM191 370.5h7v1h-7zM191 372.5h7v1h-7zM191 377.5h7v2h-7zM191 381.5h7v1h-7zM191 385.5h7v1h-7zM191 398.5h7v1h-7zM191 402.5h7v1h-7zM191 404.5h7v2h-7zM191 407.5h7v1h-7zM191 410.5h7v2h-7zM198 245.5h7v1h-7zM205 229.5h8v1h-8zM205 233.5h8v1h-8zM205 235.5h8v1h-8zM205 238.5h8v1h-8zM205 241.5h8v1h-8zM205 257.5h8v1h-8zM205 261.5h8v1h-8zM205 263.5h8v1h-8zM205 269.5h8v2h-8zM205 276.5h8v1h-8zM205 282.5h8v1h-8zM205 286.5h8v1h-8zM205 290.5h8v1h-8zM205 292.5h8v1h-8zM205 298.5h8v1h-8zM205 300.5h8v1h-8zM205 303.5h8v1h-8zM205 308.5h8v1h-8zM205 311.5h8v1h-8zM205 314.5h8v1h-8zM205 322.5h8v1h-8zM205 325.5h8v1h-8zM205 329.5h8v2h-8zM205 334.5h8v2h-8zM205 338.5h8v1h-8zM205 340.5h8v1h-8zM205 348.5h8v1h-8zM205 351.5h8v2h-8zM205 354.5h8v1h-8zM205 357.5h8v1h-8zM205 359.5h8v2h-8zM205 364.5h8v2h-8zM205 368.5h8v1h-8zM205 378.5h8v1h-8zM205 382.5h8v2h-8zM205 386.5h8v1h-8zM205 388.5h8v2h-8zM205 395.5h8v2h-8zM205 401.5h8v1h-8zM205 403.5h8v1h-8zM205 406.5h8v1h-8zM205 410.5h8v2h-8zM213 217.5h7v1h-7zM213 222.5h7v1h-7zM213 228.5h7v1h-7zM213 231.5h7v1h-7zM213 262.5h7v1h-7zM213 285.5h7v1h-7zM213 307.5h7v1h-7zM213 323.5h7v1h-7zM213 330.5h7v1h-7zM213 350.5h7v1h-7zM213 352.5h7v1h-7zM213 370.5h7v1h-7zM213 375.5h7v1h-7zM213 382.5h7v1h-7zM213 395.5h7v1h-7zM213 404.5h7v1h-7zM213 411.5h7v2h-7zM220 233.5h7v2h-7zM220 243.5h7v1h-7zM220 247.5h7v2h-7zM220 254.5h7v1h-7zM220 259.5h7v1h-7zM220 262.5h7v1h-7zM220 266.5h7v1h-7zM220 271.5h7v1h-7zM220 282.5h7v1h-7zM220 295.5h7v1h-7zM220 310.5h7v1h-7zM220 315.5h7v2h-7zM220 330.5h7v2h-7zM220 340.5h7v1h-7zM220 345.5h7v1h-7zM220 352.5h7v1h-7zM220 363.5h7v1h-7zM220 379.5h7v1h-7zM220 384.5h7v2h-7zM220 390.5h7v1h-7zM220 398.5h7v1h-7zM220 403.5h7v1h-7zM220 410.5h7v1h-7zM227 224.5h8v2h-8zM227 235.5h8v2h-8zM227 240.5h8v1h-8zM227 252.5h8v1h-8zM227 254.5h8v1h-8zM227 259.5h8v1h-8zM227 262.5h8v1h-8zM227 265.5h8v1h-8zM227 267.5h8v1h-8zM227 277.5h8v2h-8zM227 285.5h8v1h-8zM227 292.5h8v1h-8zM227 313.5h8v1h-8zM227 315.5h8v1h-8zM227 318.5h8v1h-8zM227 324.5h8v1h-8zM227 327.5h8v1h-8zM227 336.5h8v1h-8zM227 340.5h8v1h-8zM227 345.5h8v2h-8zM227 352.5h8v1h-8zM227 357.5h8v1h-8zM227 359.5h8v1h-8zM227 365.5h8v1h-8zM227 370.5h8v1h-8zM227 389.5h8v1h-8zM227 393.5h8v1h-8zM227 396.5h8v1h-8zM227 408.5h8v1h-8zM227 413.5h8v1h-8zM235 232.5h7v1h-7zM242 239.5h8v1h-8zM242 242.5h8v1h-8zM242 261.5h8v1h-8zM242 267.5h8v1h-8zM242 274.5h8v2h-8zM242 279.5h8v1h-8zM242 287.5h8v1h-8zM242 292.5h8v2h-8zM242 301.5h8v1h-8zM242 303.5h8v1h-8zM242 307.5h8v1h-8zM242 309.5h8v1h-8zM242 327.5h8v1h-8zM242 333.5h8v1h-8zM242 338.5h8v1h-8zM242 351.5h8v1h-8zM242 360.5h8v2h-8zM242 371.5h8v1h-8zM242 377.5h8v1h-8zM242 387.5h8v1h-8zM242 390.5h8v1h-8zM242 399.5h8v1h-8z"/>
<path shape-rendering="crispEdges" fill="rgb(171,197,227)" d="M66 226.5h7v1h-7zM73 225.5h8v1h-8zM73 229.5h8v1h-8zM73 233.5h8v1h-8zM73 249.5h8v1h-8zM88 219.5h7v2h-7zM88 224.5h7v2h-7zM88 229.5h7v1h-7zM88 231.5h7v1h-7zM88 246.5h7v1h-7zM88 256.5h7v1h-7zM88 258.5h7v2h-7zM88 265.5h7v2h-7zM88 268.5h7v1h-7zM88 285.5h7v1h-7zM88 298.5h7v1h-7zM88 300.5h7v1h-7zM88 313.5h7v1h-7zM88 316.5h7v1h-7zM88 330.5h7v1h-7zM88 342.5h7v1h-7zM88 345.5h7v1h-7zM95 225.5h8v1h-8zM95 229.5h8v1h-8zM95 234.5h8v1h-8zM95 239.5h8v1h-8zM95 246.5h8v2h-8zM95 252.5h8v1h-8zM95 255.5h8v1h-8zM95 260.5h8v1h-8zM95 271.5h8v1h-8zM95 275.5h8v2h-8zM95 279.5h8v1h-8zM95 284.5h8v1h-8zM95 288.5h8v1h-8zM95 292.5h8v1h-8zM95 312.5h8v1h-8zM95 314.5h8v1h-8zM95 321.5h8v1h-8zM95 328.5h8v2h-8zM95 332.5h8v1h-8zM95 346.5h8v1h-8zM95 349.5h8v2h-8zM110 214.5h7v1h-7zM110 218.5h7v1h-7zM110 243.5h7v1h-7zM110 283.5h7v1h-7zM117 223.5h8v1h-8zM117 241.5h8v1h-8zM117 243.5h8v1h-8zM117 247.5h8v1h-8zM117 252.5h8v1h-8zM117 259.5h8v1h-8zM117 262.5h8v1h-8zM117 306.5h8v1h-8zM117 364.5h8v1h-8zM117 388.5h8v2h-8zM117 392.5h8v1h-8zM132 293.5h7v1h-7zM132 321.5h7v1h-7zM132 329.5h7v1h-7zM132 391.5h7v1h-7zM139 226.5h8v1h-8zM139 228.5h8v1h-8zM139 230.5h8v1h-8zM139 234.5h8v1h-8zM139 240.5h8v1h-8zM139 246.5h8v1h-8zM139 253.5h8v1h-8zM139 258.5h8v1h-8zM139 268.5h8v1h-8zM139 271.5h8v4h-8zM139 282.5h8v1h-8zM139 293.5h8v1h-8zM139 295.5h8v1h-8zM139 307.5h8v1h-8zM139 317.5h8v1h-8zM139 322.5h8v1h-8zM139 333.5h8v1h-8zM139 351.5h8v1h-8zM139 355.5h8v1h-8zM139 362.5h8v1h-8zM139 364.5h8v2h-8zM139 372.5h8v1h-8zM139 374.5h8v2h-8zM139 385.5h8v1h-8zM139 398.5h8v1h-8zM154 254.5h7v1h-7zM154 257.5h7v1h-7zM154 262.5h7v1h-7zM154 265.5h7v1h-7zM154 268.5h7v1h-7zM154 281.5h7v1h-7zM154 291.5h7v1h-7zM154 298.5h7v1h-7zM154 302.5h7v2h-7zM154 305.5h7v1h-7zM154 308.5h7v1h-7zM154 321.5h7v1h-7zM154 327.5h7v4h-7zM154 333.5h7v1h-7zM154 336.5h7v1h-7zM154 341.5h7v1h-7zM154 347.5h7v1h-7zM154 350.5h7v1h-7zM154 355.5h7v1h-7zM154 360.5h7v1h-7zM154 363.5h7v1h-7zM154 371.5h7v2h-7zM154 376.5h7v1h-7zM154 392.5h7v1h-7zM154 400.5h7v2h-7zM154 406.5h7v1h-7zM154 409.5h7v1h-7zM154 411.5h7v1h-7zM161 220.5h8v1h-8zM161 225.5h8v1h-8zM161 237.5h8v1h-8zM161 240.5h8v2h-8zM161 245.5h8v1h-8zM161 247.5h8v1h-8zM161 250.5h8v4h-8zM161 257.5h8v1h-8zM161 264.5h8v1h-8zM161 270.5h8v1h-8zM161 272.5h8v1h-8zM161 276.5h8v1h-8zM161 292.5h8v1h-8zM161 310.5h8v1h-8zM161 326.5h8v1h-8zM161 330.5h8v1h-8zM161 332.5h8v1h-8zM161 337.5h8v1h-8zM161 339.5h8v2h-8zM161 342.5h8v2h-8zM161 351.5h8v2h-8zM161 357.5h8v1h-8zM161 366.5h8v1h-8zM161 382.5h8v1h-8zM161 388.5h8v1h-8zM161 391.5h8v1h-8zM161 396.5h8v1h-8zM161 399.5h8v2h-8zM161 406.5h8v1h-8zM169 411.5h7v1h-7zM176 226.5h7v1h-7zM176 230.5h7v1h-7zM176 233.5h7v1h-7zM176 236.5h7v1h-7zM176 250.5h7v2h-7zM176 256.5h7v1h-7zM176 261.5h7v1h-7zM176 283.5h7v1h-7zM176 293.5h7v1h-7zM176 304.5h7v1h-7zM176 319.5h7v2h-7zM176 327.5h7v1h-7zM176 329.5h7v2h-7zM176 333.5h7v1h-7zM176 335.5h7v1h-7zM176 340.5h7v1h-7zM176 342.5h7v1h-7zM176 344.5h7v1h-7zM176 346.5h7v1h-7zM176 351.5h7v2h-7zM176 355.5h7v1h-7zM176 357.5h7v1h-7zM176 360.5h7v1h-7zM176 365.5h7v1h-7zM176 367.5h7v2h-7zM176 387.5h7v2h-7zM176 400.5h7v1h-7zM176 406.5h7v2h-7zM183 227.5h8v1h-8zM183 232.5h8v1h-8zM183 237.5h8v1h-8zM183 239.5h8v2h-8zM183 243.5h8v1h-8zM183 247.5h8v1h-8zM183 253.5h8v1h-8zM183 258.5h8v1h-8zM183 268.5h8v1h-8zM183 271.5h8v1h-8zM183 285.5h8v1h-8zM183 296.5h8v1h-8zM183 299.5h8v1h-8zM183 301.5h8v1h-8zM183 306.5h8v1h-8zM183 310.5h8v1h-8zM183 313.5h8v1h-8zM183 317.5h8v1h-8zM183 320.5h8v1h-8zM183 324.5h8v2h-8zM183 331.5h8v1h-8zM183 345.5h8v1h-8zM183 347.5h8v1h-8zM183 352.5h8v2h-8zM183 356.5h8v1h-8zM183 363.5h8v2h-8zM183 366.5h8v1h-8zM183 376.5h8v3h-8zM183 386.5h8v1h-8zM183 394.5h8v1h-8zM183 403.5h8v1h-8zM183 405.5h8v1h-8zM183 412.5h8v1h-8zM191 226.5h7v1h-7zM191 234.5h7v2h-7zM191 240.5h7v1h-7zM191 244.5h7v2h-7zM191 248.5h7v1h-7zM191 253.5h7v1h-7zM191 255.5h7v1h-7zM191 261.5h7v2h-7zM191 270.5h7v1h-7zM191 272.5h7v2h-7zM191 297.5h7v2h-7zM191 307.5h7v1h-7zM191 310.5h7v1h-7zM191 314.5h7v1h-7zM191 321.5h7v1h-7zM191 323.5h7v1h-7zM191 335.5h7v1h-7zM191 338.5h7v1h-7zM191 341.5h7v1h-7zM191 347.5h7v1h-7zM191 351.5h7v2h-7zM191 354.5h7v1h-7zM191 360.5h7v1h-7zM191 376.5h7v1h-7zM191 379.5h7v1h-7zM191 387.5h7v1h-7zM191 393.5h7v1h-7zM191 399.5h7v1h-7zM191 412.5h7v1h-7zM198 236.5h7v1h-7zM198 241.5h7v1h-7zM198 295.5h7v1h-7zM205 227.5h8v1h-8zM205 246.5h8v1h-8zM205 253.5h8v2h-8zM205 258.5h8v2h-8zM205 271.5h8v3h-8zM205 277.5h8v1h-8zM205 280.5h8v1h-8zM205 283.5h8v1h-8zM205 295.5h8v1h-8zM205 297.5h8v1h-8zM205 309.5h8v1h-8zM205 321.5h8v1h-8zM205 331.5h8v1h-8zM205 341.5h8v2h-8zM205 346.5h8v1h-8zM205 349.5h8v2h-8zM205 353.5h8v1h-8zM205 355.5h8v2h-8zM205 362.5h8v1h-8zM205 366.5h8v1h-8zM205 369.5h8v1h-8zM205 372.5h8v1h-8zM205 374.5h8v1h-8zM205 377.5h8v1h-8zM205 397.5h8v1h-8zM213 218.5h7v1h-7zM213 220.5h7v1h-7zM213 227.5h7v1h-7zM213 232.5h7v1h-7zM213 237.5h7v1h-7zM213 252.5h7v1h-7zM213 259.5h7v1h-7zM213 266.5h7v1h-7zM213 303.5h7v1h-7zM213 319.5h7v1h-7zM213 325.5h7v1h-7zM213 331.5h7v1h-7zM213 337.5h7v1h-7zM213 355.5h7v1h-7zM213 359.5h7v1h-7zM213 369.5h7v1h-7zM213 380.5h7v1h-7zM213 386.5h7v2h-7zM213 406.5h7v1h-7zM220 224.5h7v1h-7zM220 229.5h7v1h-7zM220 231.5h7v2h-7zM220 236.5h7v2h-7zM220 241.5h7v2h-7zM220 249.5h7v1h-7zM220 256.5h7v1h-7zM220 261.5h7v1h-7zM220 270.5h7v1h-7zM220 289.5h7v1h-7zM220 297.5h7v1h-7zM220 306.5h7v1h-7zM220 308.5h7v1h-7zM220 320.5h7v1h-7zM220 323.5h7v1h-7zM220 326.5h7v1h-7zM220 333.5h7v1h-7zM220 336.5h7v1h-7zM220 343.5h7v1h-7zM220 346.5h7v1h-7zM220 366.5h7v3h-7zM220 372.5h7v1h-7zM220 374.5h7v1h-7zM220 381.5h7v1h-7zM220 387.5h7v2h-7zM220 391.5h7v1h-7zM220 401.5h7v1h-7zM220 413.5h7v0.98h-7zM227 226.5h8v1h-8zM227 233.5h8v1h-8zM227 238.5h8v1h-8zM227 241.5h8v1h-8zM227 247.5h8v1h-8zM227 253.5h8v1h-8zM227 260.5h8v1h-8zM227 263.5h8v2h-8zM227 266.5h8v1h-8zM227 269.5h8v1h-8zM227 272.5h8v3h-8zM227 281.5h8v1h-8zM227 283.5h8v1h-8zM227 299.5h8v1h-8zM227 301.5h8v3h-8zM227 307.5h8v1h-8zM227 312.5h8v1h-8zM227 314.5h8v1h-8zM227 317.5h8v1h-8zM227 321.5h8v2h-8zM227 329.5h8v3h-8zM227 334.5h8v1h-8zM227 351.5h8v1h-8zM227 353.5h8v2h-8zM227 361.5h8v4h-8zM227 373.5h8v1h-8zM227 383.5h8v1h-8zM227 387.5h8v2h-8zM227 390.5h8v1h-8zM227 395.5h8v1h-8zM227 397.5h8v1h-8zM227 400.5h8v1h-8zM227 403.5h8v1h-8zM227 406.5h8v1h-8zM227 410.5h8v1h-8zM235 246.5h7v1h-7zM235 258.5h7v1h-7zM235 404.5h7v1h-7z"/>
<path shape-rendering="crispEdges" fill="rgb(155,187,222)" d="M88 228.5h7v1h-7zM88 237.5h7v1h-7zM88 244.5h7v1h-7zM88 250.5h7v1h-7zM88 253.5h7v1h-7zM88 255.5h7v1h-7zM88 257.5h7v1h-7zM88 263.5h7v1h-7zM88 277.5h7v2h-7zM88 295.5h7v1h-7zM88 309.5h7v1h-7zM88 319.5h7v1h-7zM95 249.5h8v1h-8zM95 301.5h8v1h-8zM95 304.5h8v1h-8zM95 333.5h8v1h-8zM95 338.5h8v1h-8zM95 356.5h8v1h-8zM110 262.5h7v1h-7zM117 235.5h8v1h-8zM117 253.5h8v1h-8zM117 256.5h8v1h-8zM117 264.5h8v1h-8zM117 284.5h8v1h-8zM117 298.5h8v1h-8zM117 320.5h8v1h-8zM117 349.5h8v1h-8zM117 394.5h8v1h-8zM139 225.5h8v1h-8zM139 239.5h8v1h-8zM139 261.5h8v1h-8zM139 266.5h8v1h-8zM139 280.5h8v1h-8zM139 288.5h8v2h-8zM139 314.5h8v2h-8zM139 319.5h8v1h-8zM139 321.5h8v1h-8zM139 323.5h8v2h-8zM139 331.5h8v1h-8zM139 342.5h8v1h-8zM139 347.5h8v1h-8zM139 352.5h8v1h-8zM139 356.5h8v1h-8zM139 366.5h8v1h-8zM139 391.5h8v1h-8zM139 399.5h8v1h-8zM154 275.5h7v1h-7zM154 293.5h7v1h-7zM154 301.5h7v1h-7zM161 224.5h8v1h-8zM161 231.5h8v1h-8zM161 254.5h8v1h-8zM161 261.5h8v1h-8zM161 269.5h8v1h-8zM161 273.5h8v1h-8zM161 285.5h8v1h-8zM161 289.5h8v1h-8zM161 298.5h8v1h-8zM161 300.5h8v1h-8zM161 304.5h8v1h-8zM161 313.5h8v1h-8zM161 333.5h8v1h-8zM161 336.5h8v1h-8zM161 348.5h8v1h-8zM161 377.5h8v1h-8zM161 386.5h8v2h-8zM161 408.5h8v1h-8zM161 410.5h8v1h-8zM169 232.5h7v1h-7zM169 252.5h7v1h-7zM169 405.5h7v1h-7zM176 217.5h7v1h-7zM176 225.5h7v1h-7zM176 249.5h7v1h-7zM176 269.5h7v1h-7zM176 285.5h7v1h-7zM176 298.5h7v1h-7zM176 328.5h7v1h-7zM176 349.5h7v1h-7zM176 376.5h7v1h-7zM176 383.5h7v1h-7zM183 233.5h8v1h-8zM183 242.5h8v1h-8zM183 261.5h8v1h-8zM183 264.5h8v1h-8zM183 272.5h8v2h-8zM183 276.5h8v3h-8zM183 287.5h8v1h-8zM183 305.5h8v1h-8zM183 309.5h8v1h-8zM183 330.5h8v1h-8zM183 339.5h8v1h-8zM183 343.5h8v1h-8zM183 346.5h8v1h-8zM183 349.5h8v1h-8zM183 360.5h8v1h-8zM183 365.5h8v1h-8zM183 371.5h8v1h-8zM183 383.5h8v1h-8zM183 399.5h8v1h-8zM183 407.5h8v1h-8zM191 225.5h7v1h-7zM191 265.5h7v1h-7zM191 289.5h7v1h-7zM191 327.5h7v1h-7zM191 332.5h7v1h-7zM191 349.5h7v1h-7zM191 383.5h7v1h-7zM191 386.5h7v1h-7zM191 390.5h7v2h-7zM198 339.5h7v1h-7zM205 239.5h8v1h-8zM205 267.5h8v1h-8zM205 275.5h8v1h-8zM205 287.5h8v1h-8zM205 289.5h8v1h-8zM205 328.5h8v1h-8zM205 361.5h8v1h-8zM205 371.5h8v1h-8zM205 390.5h8v1h-8zM213 219.5h7v1h-7zM213 225.5h7v1h-7zM213 240.5h7v1h-7zM213 253.5h7v1h-7zM213 255.5h7v1h-7zM213 270.5h7v1h-7zM213 300.5h7v1h-7zM213 317.5h7v1h-7zM213 320.5h7v1h-7zM213 327.5h7v1h-7zM213 346.5h7v2h-7zM213 354.5h7v1h-7zM213 363.5h7v1h-7zM213 371.5h7v1h-7zM213 381.5h7v1h-7zM213 389.5h7v1h-7zM213 396.5h7v1h-7zM220 239.5h7v1h-7zM220 250.5h7v2h-7zM220 273.5h7v1h-7zM220 285.5h7v1h-7zM220 287.5h7v1h-7zM220 292.5h7v1h-7zM220 298.5h7v1h-7zM220 305.5h7v1h-7zM220 337.5h7v1h-7zM220 349.5h7v1h-7zM220 355.5h7v1h-7zM220 361.5h7v1h-7zM220 369.5h7v1h-7zM220 378.5h7v1h-7zM220 406.5h7v1h-7zM220 411.5h7v1h-7zM227 234.5h8v1h-8zM227 250.5h8v1h-8zM227 256.5h8v1h-8zM227 261.5h8v1h-8zM227 276.5h8v1h-8zM227 294.5h8v1h-8zM227 298.5h8v1h-8zM227 333.5h8v1h-8zM227 343.5h8v1h-8zM227 371.5h8v1h-8zM227 381.5h8v1h-8zM227 386.5h8v1h-8zM227 399.5h8v1h-8zM227 407.5h8v1h-8zM227 409.5h8v1h-8zM235 245.5h7v1h-7zM235 248.5h7v1h-7zM235 357.5h7v2h-7zM235 364.5h7v1h-7zM235 378.5h7v1h-7z"/>
<path shape-rendering="crispEdges" fill="rgb(140,178,218)" d="M66 220.5h7v1h-7zM73 214.5h8v1h-8zM88 301.5h7v1h-7zM88 310.5h7v1h-7zM95 300.5h8v1h-8zM103 215.5h7v1h-7zM103 273.5h7v1h-7zM103 324.5h7v1h-7zM110 317.5h7v1h-7zM117 286.5h8v1h-8zM117 314.5h8v1h-8zM117 319.5h8v1h-8zM117 335.5h8v1h-8zM125 383.5h7v1h-7zM125 390.5h7v1h-7zM132 256.5h7v1h-7zM139 229.5h8v1h-8zM139 367.5h8v1h-8zM154 237.5h7v1h-7zM154 358.5h7v1h-7zM161 299.5h8v1h-8zM161 367.5h8v1h-8zM176 214.5h7v1h-7zM176 364.5h7v1h-7zM183 219.5h8v1h-8zM183 229.5h8v1h-8zM198 216.5h7v1h-7zM205 249.5h8v1h-8zM205 385.5h8v1h-8zM205 392.5h8v1h-8zM213 233.5h7v1h-7zM213 250.5h7v1h-7zM213 267.5h7v1h-7zM213 314.5h7v1h-7zM213 316.5h7v1h-7zM213 321.5h7v1h-7zM213 335.5h7v1h-7zM213 338.5h7v1h-7zM213 360.5h7v1h-7zM213 365.5h7v1h-7zM213 372.5h7v1h-7zM213 390.5h7v1h-7zM213 408.5h7v1h-7zM220 293.5h7v1h-7zM220 397.5h7v1h-7zM227 376.5h8v1h-8zM235 226.5h7v1h-7zM235 264.5h7v1h-7zM235 282.5h7v1h-7zM235 297.5h7v1h-7z"/>
<path shape-rendering="crispEdges" fill="rgb(124,168,213)" d="M88 232.5h7v1h-7zM88 247.5h7v1h-7zM88 326.5h7v1h-7zM95 228.5h8v1h-8zM95 233.5h8v1h-8zM95 235.5h8v1h-8zM95 254.5h8v1h-8zM95 256.5h8v1h-8zM95 259.5h8v1h-8zM95 261.5h8v1h-8zM95 265.5h8v1h-8zM95 278.5h8v1h-8zM95 281.5h8v1h-8zM95 289.5h8v1h-8zM95 303.5h8v1h-8zM95 306.5h8v1h-8zM95 315.5h8v1h-8zM95 320.5h8v1h-8zM95 324.5h8v2h-8zM95 335.5h8v1h-8zM95 337.5h8v1h-8zM95 348.5h8v1h-8zM103 288.5h7v1h-7zM103 293.5h7v1h-7zM103 328.5h7v1h-7zM103 341.5h7v1h-7zM117 219.5h8v1h-8zM125 360.5h7v1h-7zM132 220.5h7v1h-7zM132 302.5h7v1h-7zM132 304.5h7v1h-7zM132 336.5h7v1h-7zM132 356.5h7v1h-7zM139 231.5h8v1h-8zM139 247.5h8v1h-8zM139 257.5h8v1h-8zM139 277.5h8v1h-8zM139 291.5h8v1h-8zM139 294.5h8v1h-8zM139 300.5h8v1h-8zM139 306.5h8v1h-8zM139 313.5h8v1h-8zM139 330.5h8v1h-8zM139 349.5h8v1h-8zM139 353.5h8v1h-8zM139 357.5h8v1h-8zM139 359.5h8v1h-8zM139 363.5h8v1h-8zM139 370.5h8v1h-8zM139 373.5h8v1h-8zM139 384.5h8v1h-8zM139 388.5h8v1h-8zM139 400.5h8v1h-8zM154 214.5h7v1h-7zM154 263.5h7v1h-7zM154 267.5h7v1h-7zM154 273.5h7v1h-7zM154 278.5h7v1h-7zM154 287.5h7v1h-7zM154 307.5h7v1h-7zM154 322.5h7v1h-7zM154 340.5h7v1h-7zM154 366.5h7v1h-7zM154 374.5h7v1h-7zM154 397.5h7v2h-7zM154 403.5h7v1h-7zM154 412.5h7v0.9h-7zM161 235.5h8v1h-8zM161 317.5h8v2h-8zM161 345.5h8v1h-8zM161 384.5h8v1h-8zM161 389.5h8v1h-8zM161 395.5h8v1h-8zM161 405.5h8v1h-8zM176 232.5h7v1h-7zM176 237.5h7v1h-7zM176 241.5h7v1h-7zM176 254.5h7v1h-7zM176 267.5h7v1h-7zM176 274.5h7v1h-7zM176 284.5h7v1h-7zM176 294.5h7v1h-7zM176 299.5h7v1h-7zM176 309.5h7v1h-7zM176 316.5h7v2h-7zM176 348.5h7v1h-7zM176 350.5h7v1h-7zM176 362.5h7v1h-7zM176 373.5h7v1h-7zM176 385.5h7v1h-7zM176 395.5h7v1h-7zM176 413.5h7v0.26h-7zM183 245.5h8v2h-8zM183 248.5h8v1h-8zM183 250.5h8v1h-8zM183 252.5h8v1h-8zM183 337.5h8v1h-8zM183 340.5h8v1h-8zM183 385.5h8v1h-8zM183 388.5h8v1h-8zM183 411.5h8v1h-8zM191 223.5h7v1h-7zM191 239.5h7v1h-7zM191 259.5h7v1h-7zM191 276.5h7v1h-7zM191 290.5h7v1h-7zM191 300.5h7v1h-7zM191 324.5h7v2h-7zM191 334.5h7v1h-7zM191 337.5h7v1h-7zM191 344.5h7v1h-7zM191 348.5h7v1h-7zM191 400.5h7v1h-7zM198 400.5h7v1h-7zM205 226.5h8v1h-8zM205 228.5h8v1h-8zM205 242.5h8v1h-8zM205 248.5h8v1h-8zM205 262.5h8v1h-8zM205 264.5h8v1h-8zM205 274.5h8v1h-8zM205 278.5h8v1h-8zM205 285.5h8v1h-8zM205 304.5h8v1h-8zM205 307.5h8v1h-8zM205 315.5h8v1h-8zM205 320.5h8v1h-8zM205 324.5h8v1h-8zM205 327.5h8v1h-8zM205 332.5h8v1h-8zM205 344.5h8v2h-8zM205 358.5h8v1h-8zM205 363.5h8v1h-8zM205 373.5h8v1h-8zM205 379.5h8v1h-8zM205 394.5h8v1h-8zM213 221.5h7v1h-7zM213 241.5h7v1h-7zM213 243.5h7v1h-7zM213 364.5h7v1h-7zM213 405.5h7v1h-7zM220 255.5h7v1h-7zM220 260.5h7v1h-7zM220 264.5h7v1h-7zM220 322.5h7v1h-7zM220 350.5h7v1h-7zM220 370.5h7v1h-7zM220 375.5h7v1h-7zM220 389.5h7v1h-7zM220 396.5h7v1h-7zM220 404.5h7v2h-7zM227 227.5h8v1h-8zM227 230.5h8v1h-8zM227 239.5h8v1h-8zM227 242.5h8v1h-8zM227 246.5h8v1h-8zM227 248.5h8v1h-8zM227 284.5h8v1h-8zM227 290.5h8v2h-8zM227 306.5h8v1h-8zM227 310.5h8v1h-8zM227 339.5h8v1h-8zM227 347.5h8v1h-8zM227 350.5h8v1h-8zM227 368.5h8v1h-8zM227 374.5h8v2h-8zM227 377.5h8v1h-8zM227 382.5h8v1h-8zM227 385.5h8v1h-8zM227 392.5h8v1h-8zM227 404.5h8v1h-8zM227 411.5h8v1h-8zM227 414.5h8v0.1h-8zM242 269.5h8v1h-8zM242 286.5h8v1h-8zM242 296.5h8v1h-8zM242 304.5h8v1h-8zM242 315.5h8v1h-8zM242 336.5h8v1h-8zM242 356.5h8v1h-8zM242 376.5h8v1h-8zM242 407.5h8v1h-8z"/>
<path shape-rendering="crispEdges" fill="rgb(109,158,208)" d="M88 227.5h7v1h-7zM88 233.5h7v2h-7zM88 236.5h7v1h-7zM88 241.5h7v1h-7zM88 245.5h7v1h-7zM88 248.5h7v1h-7zM88 262.5h7v1h-7zM88 272.5h7v3h-7zM88 276.5h7v1h-7zM88 282.5h7v2h-7zM88 290.5h7v2h-7zM88 304.5h7v4h-7zM88 314.5h7v1h-7zM88 320.5h7v1h-7zM88 323.5h7v1h-7zM88 329.5h7v1h-7zM88 332.5h7v1h-7zM88 337.5h7v1h-7zM88 339.5h7v3h-7zM88 344.5h7v1h-7zM88 346.5h7v1h-7zM95 226.5h8v1h-8zM95 236.5h8v1h-8zM95 238.5h8v1h-8zM95 257.5h8v1h-8zM95 263.5h8v1h-8zM95 273.5h8v1h-8zM95 285.5h8v3h-8zM95 298.5h8v1h-8zM95 302.5h8v1h-8zM95 336.5h8v1h-8zM95 340.5h8v1h-8zM95 342.5h8v2h-8zM95 352.5h8v2h-8zM95 358.5h8v1h-8zM95 360.5h8v1h-8zM103 296.5h7v1h-7zM110 220.5h7v2h-7zM110 300.5h7v1h-7zM110 322.5h7v1h-7zM110 326.5h7v1h-7zM110 370.5h7v1h-7zM117 227.5h8v1h-8zM117 232.5h8v2h-8zM117 242.5h8v1h-8zM117 283.5h8v1h-8zM117 300.5h8v1h-8zM117 313.5h8v1h-8zM117 317.5h8v1h-8zM117 326.5h8v1h-8zM117 344.5h8v2h-8zM117 352.5h8v1h-8zM117 359.5h8v1h-8zM117 369.5h8v2h-8zM117 373.5h8v3h-8zM117 382.5h8v1h-8zM117 384.5h8v1h-8zM125 229.5h7v1h-7zM132 269.5h7v1h-7zM132 301.5h7v1h-7zM132 328.5h7v1h-7zM132 387.5h7v1h-7zM139 224.5h8v1h-8zM139 237.5h8v1h-8zM139 242.5h8v1h-8zM139 244.5h8v1h-8zM139 255.5h8v2h-8zM139 259.5h8v1h-8zM139 267.5h8v1h-8zM139 269.5h8v2h-8zM139 276.5h8v1h-8zM139 279.5h8v1h-8zM139 281.5h8v1h-8zM139 284.5h8v1h-8zM139 286.5h8v1h-8zM139 292.5h8v1h-8zM139 297.5h8v2h-8zM139 304.5h8v1h-8zM139 308.5h8v1h-8zM139 311.5h8v1h-8zM139 316.5h8v1h-8zM139 318.5h8v1h-8zM139 320.5h8v1h-8zM139 325.5h8v1h-8zM139 332.5h8v1h-8zM139 336.5h8v2h-8zM139 343.5h8v2h-8zM139 348.5h8v1h-8zM139 354.5h8v1h-8zM139 360.5h8v2h-8zM139 386.5h8v1h-8zM139 390.5h8v1h-8zM139 392.5h8v2h-8zM139 396.5h8v2h-8zM139 402.5h8v3h-8zM154 249.5h7v1h-7zM154 261.5h7v1h-7zM154 270.5h7v1h-7zM154 288.5h7v1h-7zM154 299.5h7v1h-7zM154 315.5h7v1h-7zM154 361.5h7v1h-7zM154 367.5h7v1h-7zM154 377.5h7v2h-7zM154 391.5h7v1h-7zM154 408.5h7v1h-7zM161 227.5h8v2h-8zM161 232.5h8v1h-8zM161 239.5h8v1h-8zM161 242.5h8v2h-8zM161 255.5h8v1h-8zM161 258.5h8v3h-8zM161 263.5h8v1h-8zM161 265.5h8v1h-8zM161 267.5h8v2h-8zM161 271.5h8v1h-8zM161 274.5h8v1h-8zM161 277.5h8v2h-8zM161 280.5h8v1h-8zM161 283.5h8v2h-8zM161 293.5h8v1h-8zM161 295.5h8v1h-8zM161 297.5h8v1h-8zM161 303.5h8v1h-8zM161 306.5h8v1h-8zM161 311.5h8v1h-8zM161 319.5h8v2h-8zM161 334.5h8v1h-8zM161 344.5h8v1h-8zM161 353.5h8v1h-8zM161 362.5h8v2h-8zM161 370.5h8v1h-8zM161 373.5h8v2h-8zM161 379.5h8v1h-8zM161 381.5h8v1h-8zM161 383.5h8v1h-8zM161 385.5h8v1h-8zM161 390.5h8v1h-8zM161 392.5h8v1h-8zM161 401.5h8v4h-8zM161 413.5h8v0.02h-8zM169 245.5h7v1h-7zM169 318.5h7v1h-7zM169 382.5h7v1h-7zM169 389.5h7v1h-7zM176 224.5h7v1h-7zM176 229.5h7v1h-7zM176 239.5h7v1h-7zM176 248.5h7v1h-7zM176 259.5h7v1h-7zM176 268.5h7v1h-7zM176 275.5h7v1h-7zM176 278.5h7v2h-7zM176 289.5h7v1h-7zM176 301.5h7v1h-7zM176 303.5h7v1h-7zM176 310.5h7v2h-7zM176 314.5h7v2h-7zM176 324.5h7v2h-7zM176 334.5h7v1h-7zM176 337.5h7v1h-7zM176 341.5h7v1h-7zM176 356.5h7v1h-7zM176 361.5h7v1h-7zM176 366.5h7v1h-7zM176 369.5h7v1h-7zM176 371.5h7v1h-7zM176 378.5h7v1h-7zM176 390.5h7v2h-7zM176 399.5h7v1h-7zM176 408.5h7v1h-7zM176 412.5h7v1h-7zM183 226.5h8v1h-8zM183 231.5h8v1h-8zM183 244.5h8v1h-8zM183 255.5h8v1h-8zM183 274.5h8v1h-8zM183 280.5h8v1h-8zM183 282.5h8v2h-8zM183 286.5h8v1h-8zM183 290.5h8v1h-8zM183 292.5h8v1h-8zM183 294.5h8v1h-8zM183 300.5h8v1h-8zM183 303.5h8v1h-8zM183 311.5h8v1h-8zM183 315.5h8v1h-8zM183 318.5h8v1h-8zM183 321.5h8v1h-8zM183 323.5h8v1h-8zM183 327.5h8v1h-8zM183 329.5h8v1h-8zM183 333.5h8v3h-8zM183 358.5h8v2h-8zM183 362.5h8v1h-8zM183 369.5h8v1h-8zM183 372.5h8v1h-8zM183 375.5h8v1h-8zM183 379.5h8v1h-8zM183 390.5h8v1h-8zM183 395.5h8v2h-8zM183 400.5h8v1h-8zM183 402.5h8v1h-8zM183 404.5h8v1h-8zM191 224.5h7v1h-7zM191 228.5h7v2h-7zM191 268.5h7v2h-7zM191 281.5h7v1h-7zM191 283.5h7v1h-7zM191 287.5h7v1h-7zM191 292.5h7v2h-7zM191 303.5h7v1h-7zM191 308.5h7v1h-7zM191 315.5h7v1h-7zM191 328.5h7v1h-7zM191 333.5h7v1h-7zM191 342.5h7v1h-7zM191 367.5h7v3h-7zM191 371.5h7v1h-7zM191 375.5h7v1h-7zM191 394.5h7v1h-7zM191 396.5h7v1h-7zM191 401.5h7v1h-7zM191 403.5h7v1h-7zM191 406.5h7v1h-7zM191 409.5h7v1h-7zM191 413.5h7v0.5h-7zM198 213.5h7v1h-7zM198 217.5h7v1h-7zM198 232.5h7v1h-7zM198 364.5h7v1h-7zM198 373.5h7v1h-7zM198 382.5h7v1h-7zM198 405.5h7v1h-7zM205 237.5h8v1h-8zM205 244.5h8v1h-8zM205 250.5h8v1h-8zM205 255.5h8v2h-8zM205 265.5h8v1h-8zM205 279.5h8v1h-8zM205 281.5h8v1h-8zM205 284.5h8v1h-8zM205 288.5h8v1h-8zM205 296.5h8v1h-8zM205 299.5h8v1h-8zM205 305.5h8v1h-8zM205 312.5h8v1h-8zM205 316.5h8v1h-8zM205 318.5h8v2h-8zM205 333.5h8v1h-8zM205 336.5h8v1h-8zM205 343.5h8v1h-8zM205 347.5h8v1h-8zM205 367.5h8v1h-8zM205 391.5h8v1h-8zM205 398.5h8v2h-8zM205 408.5h8v2h-8zM205 412.5h8v1h-8zM213 214.5h7v1h-7zM213 223.5h7v1h-7zM213 235.5h7v2h-7zM213 242.5h7v1h-7zM213 247.5h7v2h-7zM213 254.5h7v1h-7zM213 257.5h7v2h-7zM213 265.5h7v1h-7zM213 268.5h7v1h-7zM213 272.5h7v1h-7zM213 274.5h7v1h-7zM213 284.5h7v1h-7zM213 288.5h7v1h-7zM213 295.5h7v1h-7zM213 305.5h7v2h-7zM213 308.5h7v1h-7zM213 310.5h7v1h-7zM213 313.5h7v1h-7zM213 322.5h7v1h-7zM213 326.5h7v1h-7zM213 339.5h7v1h-7zM213 344.5h7v2h-7zM213 348.5h7v1h-7zM213 351.5h7v1h-7zM213 358.5h7v1h-7zM213 378.5h7v1h-7zM213 385.5h7v1h-7zM213 388.5h7v1h-7zM213 392.5h7v2h-7zM213 400.5h7v4h-7zM213 413.5h7v0.86h-7zM220 227.5h7v2h-7zM220 230.5h7v1h-7zM220 235.5h7v1h-7zM220 238.5h7v1h-7zM220 245.5h7v2h-7zM220 252.5h7v2h-7zM220 257.5h7v1h-7zM220 265.5h7v1h-7zM220 267.5h7v1h-7zM220 272.5h7v1h-7zM220 277.5h7v1h-7zM220 280.5h7v2h-7zM220 283.5h7v2h-7zM220 288.5h7v1h-7zM220 291.5h7v1h-7zM220 294.5h7v1h-7zM220 307.5h7v1h-7zM220 309.5h7v1h-7zM220 311.5h7v4h-7zM220 317.5h7v3h-7zM220 325.5h7v1h-7zM220 334.5h7v2h-7zM220 339.5h7v1h-7zM220 344.5h7v1h-7zM220 348.5h7v1h-7zM220 351.5h7v1h-7zM220 354.5h7v1h-7zM220 358.5h7v1h-7zM220 362.5h7v1h-7zM220 364.5h7v2h-7zM220 373.5h7v1h-7zM220 377.5h7v1h-7zM220 383.5h7v1h-7zM220 386.5h7v1h-7zM220 392.5h7v2h-7zM220 395.5h7v1h-7zM220 399.5h7v2h-7zM220 402.5h7v1h-7zM227 228.5h8v1h-8zM227 237.5h8v1h-8zM227 251.5h8v1h-8zM227 257.5h8v1h-8zM227 270.5h8v2h-8zM227 275.5h8v1h-8zM227 279.5h8v1h-8zM227 286.5h8v4h-8zM227 293.5h8v1h-8zM227 296.5h8v1h-8zM227 304.5h8v2h-8zM227 308.5h8v2h-8zM227 316.5h8v1h-8zM227 319.5h8v1h-8zM227 325.5h8v1h-8zM227 332.5h8v1h-8zM227 342.5h8v1h-8zM227 344.5h8v1h-8zM227 348.5h8v1h-8zM227 355.5h8v2h-8zM227 360.5h8v1h-8zM227 366.5h8v2h-8zM227 369.5h8v1h-8zM227 379.5h8v1h-8zM227 398.5h8v1h-8zM227 401.5h8v2h-8zM227 405.5h8v1h-8zM227 412.5h8v1h-8zM235 217.5h7v1h-7zM235 260.5h7v1h-7zM235 266.5h7v1h-7zM235 317.5h7v1h-7zM235 322.5h7v1h-7zM235 359.5h7v1h-7zM235 373.5h7v1h-7zM235 375.5h7v1h-7zM235 411.5h7v1h-7zM242 249.5h8v1h-8zM242 310.5h8v1h-8z"/>
<path shape-rendering="crispEdges" fill="rgb(93,148,203)" d="M88 226.5h7v1h-7zM88 230.5h7v1h-7zM88 240.5h7v1h-7zM88 242.5h7v1h-7zM88 251.5h7v1h-7zM88 254.5h7v1h-7zM88 261.5h7v1h-7zM88 264.5h7v1h-7zM88 267.5h7v1h-7zM88 269.5h7v1h-7zM88 271.5h7v1h-7zM88 280.5h7v2h-7zM88 286.5h7v4h-7zM88 292.5h7v1h-7zM88 297.5h7v1h-7zM88 302.5h7v2h-7zM88 308.5h7v1h-7zM88 315.5h7v1h-7zM88 318.5h7v1h-7zM88 321.5h7v1h-7zM88 324.5h7v2h-7zM88 327.5h7v1h-7zM88 333.5h7v1h-7zM88 335.5h7v1h-7zM88 343.5h7v1h-7zM88 347.5h7v1h-7zM95 269.5h8v1h-8zM95 309.5h8v1h-8zM110 224.5h7v1h-7zM110 226.5h7v3h-7zM110 231.5h7v6h-7zM110 241.5h7v1h-7zM110 244.5h7v5h-7zM110 251.5h7v3h-7zM110 255.5h7v4h-7zM110 260.5h7v1h-7zM110 264.5h7v1h-7zM110 266.5h7v1h-7zM110 272.5h7v1h-7zM110 276.5h7v2h-7zM110 279.5h7v1h-7zM110 294.5h7v2h-7zM110 303.5h7v1h-7zM110 307.5h7v1h-7zM110 311.5h7v2h-7zM110 314.5h7v1h-7zM110 316.5h7v1h-7zM110 319.5h7v1h-7zM110 330.5h7v3h-7zM110 334.5h7v2h-7zM110 339.5h7v3h-7zM110 345.5h7v2h-7zM110 351.5h7v3h-7zM110 357.5h7v1h-7zM110 359.5h7v1h-7zM110 362.5h7v5h-7zM117 226.5h8v1h-8zM117 228.5h8v1h-8zM117 230.5h8v1h-8zM117 236.5h8v1h-8zM117 238.5h8v3h-8zM117 244.5h8v1h-8zM117 251.5h8v1h-8zM117 254.5h8v1h-8zM117 257.5h8v2h-8zM117 260.5h8v1h-8zM117 267.5h8v2h-8zM117 270.5h8v1h-8zM117 272.5h8v1h-8zM117 274.5h8v1h-8zM117 276.5h8v7h-8zM117 285.5h8v1h-8zM117 287.5h8v2h-8zM117 291.5h8v1h-8zM117 294.5h8v2h-8zM117 297.5h8v1h-8zM117 303.5h8v3h-8zM117 307.5h8v1h-8zM117 311.5h8v1h-8zM117 316.5h8v1h-8zM117 318.5h8v1h-8zM117 322.5h8v2h-8zM117 327.5h8v2h-8zM117 330.5h8v2h-8zM117 337.5h8v1h-8zM117 339.5h8v5h-8zM117 346.5h8v1h-8zM117 350.5h8v1h-8zM117 353.5h8v4h-8zM117 360.5h8v1h-8zM117 362.5h8v1h-8zM117 366.5h8v1h-8zM117 368.5h8v1h-8zM117 372.5h8v1h-8zM117 378.5h8v1h-8zM117 380.5h8v2h-8zM117 383.5h8v1h-8zM117 385.5h8v3h-8zM117 393.5h8v1h-8zM117 395.5h8v2h-8zM117 398.5h8v1h-8zM139 250.5h8v1h-8zM139 275.5h8v1h-8zM139 285.5h8v1h-8zM139 287.5h8v1h-8zM139 290.5h8v1h-8zM139 299.5h8v1h-8zM139 301.5h8v2h-8zM139 310.5h8v1h-8zM139 328.5h8v2h-8zM139 341.5h8v1h-8zM139 368.5h8v1h-8zM139 371.5h8v1h-8zM139 376.5h8v3h-8zM139 387.5h8v1h-8zM139 406.5h8v0.5h-8zM147 248.5h7v1h-7zM147 301.5h7v1h-7zM147 333.5h7v1h-7zM147 367.5h7v1h-7zM154 229.5h7v1h-7zM161 226.5h8v1h-8zM161 229.5h8v2h-8zM161 233.5h8v1h-8zM161 236.5h8v1h-8zM161 238.5h8v1h-8zM161 244.5h8v1h-8zM161 246.5h8v1h-8zM161 249.5h8v1h-8zM161 256.5h8v1h-8zM161 281.5h8v1h-8zM161 286.5h8v3h-8zM161 290.5h8v1h-8zM161 302.5h8v1h-8zM161 307.5h8v3h-8zM161 312.5h8v1h-8zM161 314.5h8v3h-8zM161 321.5h8v1h-8zM161 324.5h8v2h-8zM161 327.5h8v3h-8zM161 331.5h8v1h-8zM161 335.5h8v1h-8zM161 338.5h8v1h-8zM161 341.5h8v1h-8zM161 349.5h8v2h-8zM161 354.5h8v3h-8zM161 358.5h8v1h-8zM161 361.5h8v1h-8zM161 368.5h8v1h-8zM161 371.5h8v2h-8zM161 378.5h8v1h-8zM161 397.5h8v2h-8zM161 407.5h8v1h-8zM161 409.5h8v1h-8zM169 217.5h7v2h-7zM169 221.5h7v1h-7zM169 224.5h7v1h-7zM169 226.5h7v3h-7zM169 230.5h7v2h-7zM169 233.5h7v3h-7zM169 237.5h7v1h-7zM169 239.5h7v6h-7zM169 246.5h7v2h-7zM169 250.5h7v1h-7zM169 253.5h7v3h-7zM169 257.5h7v2h-7zM169 260.5h7v1h-7zM169 266.5h7v1h-7zM169 269.5h7v1h-7zM169 271.5h7v1h-7zM169 282.5h7v2h-7zM169 290.5h7v1h-7zM169 294.5h7v2h-7zM169 297.5h7v2h-7zM169 305.5h7v3h-7zM169 316.5h7v2h-7zM169 319.5h7v1h-7zM169 322.5h7v1h-7zM169 325.5h7v2h-7zM169 329.5h7v1h-7zM169 332.5h7v1h-7zM169 334.5h7v2h-7zM169 337.5h7v1h-7zM169 339.5h7v2h-7zM169 345.5h7v2h-7zM169 350.5h7v1h-7zM169 353.5h7v1h-7zM169 355.5h7v1h-7zM169 357.5h7v2h-7zM169 362.5h7v1h-7zM169 364.5h7v1h-7zM169 368.5h7v3h-7zM169 373.5h7v3h-7zM169 378.5h7v1h-7zM169 380.5h7v2h-7zM169 384.5h7v2h-7zM169 388.5h7v1h-7zM169 390.5h7v1h-7zM169 393.5h7v1h-7zM169 396.5h7v1h-7zM169 402.5h7v3h-7zM169 406.5h7v1h-7zM169 409.5h7v2h-7zM169 413.5h7v0.14h-7zM176 213.5h7v1h-7zM176 215.5h7v2h-7zM176 219.5h7v1h-7zM176 221.5h7v3h-7zM176 265.5h7v1h-7zM176 321.5h7v1h-7zM176 338.5h7v1h-7zM176 386.5h7v1h-7zM183 224.5h8v2h-8zM183 234.5h8v1h-8zM183 236.5h8v1h-8zM183 251.5h8v1h-8zM183 254.5h8v1h-8zM183 256.5h8v1h-8zM183 259.5h8v1h-8zM183 263.5h8v1h-8zM183 265.5h8v1h-8zM183 267.5h8v1h-8zM183 269.5h8v1h-8zM183 275.5h8v1h-8zM183 281.5h8v1h-8zM183 284.5h8v1h-8zM183 288.5h8v2h-8zM183 293.5h8v1h-8zM183 298.5h8v1h-8zM183 302.5h8v1h-8zM183 304.5h8v1h-8zM183 308.5h8v1h-8zM183 312.5h8v1h-8zM183 316.5h8v1h-8zM183 322.5h8v1h-8zM183 336.5h8v1h-8zM183 342.5h8v1h-8zM183 351.5h8v1h-8zM183 354.5h8v1h-8zM183 374.5h8v1h-8zM183 391.5h8v1h-8zM183 397.5h8v2h-8zM183 401.5h8v1h-8zM183 406.5h8v1h-8zM183 408.5h8v2h-8zM183 413.5h8v0.38h-8zM191 238.5h7v1h-7zM191 285.5h7v2h-7zM191 288.5h7v1h-7zM191 296.5h7v1h-7zM191 299.5h7v1h-7zM191 301.5h7v2h-7zM191 312.5h7v1h-7zM191 336.5h7v1h-7zM191 356.5h7v1h-7zM191 408.5h7v1h-7zM198 215.5h7v1h-7zM198 219.5h7v1h-7zM198 221.5h7v2h-7zM198 226.5h7v3h-7zM198 233.5h7v2h-7zM198 237.5h7v2h-7zM198 240.5h7v1h-7zM198 243.5h7v2h-7zM198 247.5h7v2h-7zM198 252.5h7v3h-7zM198 257.5h7v3h-7zM198 262.5h7v2h-7zM198 270.5h7v1h-7zM198 272.5h7v1h-7zM198 278.5h7v3h-7zM198 283.5h7v2h-7zM198 287.5h7v1h-7zM198 289.5h7v3h-7zM198 294.5h7v1h-7zM198 311.5h7v1h-7zM198 313.5h7v1h-7zM198 315.5h7v1h-7zM198 317.5h7v2h-7zM198 322.5h7v2h-7zM198 326.5h7v1h-7zM198 331.5h7v2h-7zM198 334.5h7v2h-7zM198 345.5h7v3h-7zM198 349.5h7v2h-7zM198 352.5h7v1h-7zM198 354.5h7v2h-7zM198 357.5h7v1h-7zM198 359.5h7v1h-7zM198 361.5h7v3h-7zM198 366.5h7v1h-7zM198 368.5h7v3h-7zM198 375.5h7v1h-7zM198 380.5h7v1h-7zM198 384.5h7v3h-7zM198 388.5h7v1h-7zM198 392.5h7v4h-7zM198 403.5h7v2h-7zM198 408.5h7v1h-7zM198 411.5h7v1h-7zM198 413.5h7v0.62h-7zM205 225.5h8v1h-8zM205 293.5h8v1h-8zM205 301.5h8v2h-8zM205 310.5h8v1h-8zM205 376.5h8v1h-8zM205 387.5h8v1h-8zM213 215.5h7v1h-7zM213 224.5h7v1h-7zM213 226.5h7v1h-7zM213 230.5h7v1h-7zM213 234.5h7v1h-7zM213 238.5h7v1h-7zM213 244.5h7v3h-7zM213 251.5h7v1h-7zM213 260.5h7v2h-7zM213 263.5h7v2h-7zM213 275.5h7v9h-7zM213 286.5h7v2h-7zM213 289.5h7v4h-7zM213 294.5h7v1h-7zM213 297.5h7v1h-7zM213 299.5h7v1h-7zM213 304.5h7v1h-7zM213 311.5h7v1h-7zM213 315.5h7v1h-7zM213 318.5h7v1h-7zM213 328.5h7v2h-7zM213 332.5h7v3h-7zM213 336.5h7v1h-7zM213 340.5h7v2h-7zM213 343.5h7v1h-7zM213 349.5h7v1h-7zM213 353.5h7v1h-7zM213 356.5h7v2h-7zM213 361.5h7v2h-7zM213 366.5h7v1h-7zM213 368.5h7v1h-7zM213 373.5h7v2h-7zM213 377.5h7v1h-7zM213 379.5h7v1h-7zM213 383.5h7v2h-7zM213 394.5h7v1h-7zM213 397.5h7v3h-7zM213 407.5h7v1h-7zM213 409.5h7v1h-7zM220 213.5h7v1h-7zM220 218.5h7v1h-7zM220 221.5h7v1h-7zM220 225.5h7v2h-7zM220 240.5h7v1h-7zM220 244.5h7v1h-7zM220 263.5h7v1h-7zM220 268.5h7v2h-7zM220 274.5h7v3h-7zM220 278.5h7v2h-7zM220 286.5h7v1h-7zM220 290.5h7v1h-7zM220 296.5h7v1h-7zM220 299.5h7v1h-7zM220 302.5h7v3h-7zM220 321.5h7v1h-7zM220 324.5h7v1h-7zM220 327.5h7v3h-7zM220 332.5h7v1h-7zM220 338.5h7v1h-7zM220 341.5h7v2h-7zM220 353.5h7v1h-7zM220 356.5h7v2h-7zM220 360.5h7v1h-7zM220 371.5h7v1h-7zM220 376.5h7v1h-7zM220 407.5h7v3h-7zM220 412.5h7v1h-7zM227 213.5h8v2h-8zM227 217.5h8v1h-8zM227 221.5h8v3h-8zM227 249.5h8v1h-8zM227 320.5h8v1h-8zM227 328.5h8v1h-8zM227 335.5h8v1h-8zM227 338.5h8v1h-8zM227 349.5h8v1h-8zM227 378.5h8v1h-8zM227 391.5h8v1h-8zM235 216.5h7v1h-7zM235 220.5h7v1h-7zM235 222.5h7v1h-7zM235 227.5h7v2h-7zM235 230.5h7v2h-7zM235 233.5h7v2h-7zM235 236.5h7v1h-7zM235 239.5h7v1h-7zM235 241.5h7v3h-7zM235 247.5h7v1h-7zM235 250.5h7v1h-7zM235 252.5h7v1h-7zM235 254.5h7v4h-7zM235 259.5h7v1h-7zM235 262.5h7v2h-7zM235 268.5h7v1h-7zM235 270.5h7v1h-7zM235 272.5h7v1h-7zM235 274.5h7v2h-7zM235 278.5h7v3h-7zM235 284.5h7v2h-7zM235 291.5h7v1h-7zM235 295.5h7v1h-7zM235 299.5h7v2h-7zM235 303.5h7v1h-7zM235 306.5h7v2h-7zM235 311.5h7v3h-7zM235 316.5h7v1h-7zM235 320.5h7v1h-7zM235 325.5h7v2h-7zM235 331.5h7v1h-7zM235 334.5h7v1h-7zM235 336.5h7v2h-7zM235 339.5h7v3h-7zM235 344.5h7v2h-7zM235 347.5h7v2h-7zM235 351.5h7v5h-7zM235 360.5h7v1h-7zM235 363.5h7v1h-7zM235 365.5h7v2h-7zM235 368.5h7v3h-7zM235 374.5h7v1h-7zM235 379.5h7v4h-7zM235 384.5h7v3h-7zM235 388.5h7v3h-7zM235 393.5h7v4h-7zM235 402.5h7v1h-7zM235 405.5h7v2h-7zM235 408.5h7v1h-7zM235 412.5h7v2.22h-7z"/>
<path shape-rendering="crispEdges" fill="rgb(78,138,199)" d="M81 217.5h7v1h-7zM81 224.5h7v1h-7zM81 233.5h7v1h-7zM88 239.5h7v1h-7zM88 249.5h7v1h-7zM88 275.5h7v1h-7zM88 293.5h7v1h-7zM88 296.5h7v1h-7zM88 299.5h7v1h-7zM88 312.5h7v1h-7zM88 328.5h7v1h-7zM88 334.5h7v1h-7zM88 336.5h7v1h-7zM88 338.5h7v1h-7zM110 225.5h7v1h-7zM110 229.5h7v2h-7zM110 237.5h7v4h-7zM110 250.5h7v1h-7zM110 254.5h7v1h-7zM110 259.5h7v1h-7zM110 261.5h7v1h-7zM110 263.5h7v1h-7zM110 268.5h7v4h-7zM110 273.5h7v3h-7zM110 278.5h7v1h-7zM110 280.5h7v3h-7zM110 284.5h7v2h-7zM110 288.5h7v6h-7zM110 297.5h7v2h-7zM110 302.5h7v1h-7zM110 304.5h7v3h-7zM110 308.5h7v1h-7zM110 310.5h7v1h-7zM110 313.5h7v1h-7zM110 315.5h7v1h-7zM110 318.5h7v1h-7zM110 320.5h7v2h-7zM110 323.5h7v3h-7zM110 327.5h7v3h-7zM110 333.5h7v1h-7zM110 336.5h7v3h-7zM110 344.5h7v1h-7zM110 347.5h7v2h-7zM110 350.5h7v1h-7zM110 354.5h7v3h-7zM110 358.5h7v1h-7zM110 367.5h7v3h-7zM110 371.5h7v0.5h-7zM117 224.5h8v2h-8zM117 229.5h8v1h-8zM117 234.5h8v1h-8zM117 237.5h8v1h-8zM117 246.5h8v1h-8zM117 248.5h8v1h-8zM117 250.5h8v1h-8zM117 261.5h8v1h-8zM117 263.5h8v1h-8zM117 265.5h8v1h-8zM117 269.5h8v1h-8zM117 271.5h8v1h-8zM117 273.5h8v1h-8zM117 275.5h8v1h-8zM117 289.5h8v2h-8zM117 292.5h8v2h-8zM117 299.5h8v1h-8zM117 301.5h8v1h-8zM117 308.5h8v3h-8zM117 312.5h8v1h-8zM117 315.5h8v1h-8zM117 321.5h8v1h-8zM117 324.5h8v2h-8zM117 329.5h8v1h-8zM117 332.5h8v3h-8zM117 336.5h8v1h-8zM117 338.5h8v1h-8zM117 351.5h8v1h-8zM117 357.5h8v2h-8zM117 361.5h8v1h-8zM117 363.5h8v1h-8zM117 365.5h8v1h-8zM117 367.5h8v1h-8zM117 371.5h8v1h-8zM117 376.5h8v2h-8zM117 390.5h8v2h-8zM117 397.5h8v1h-8zM117 399.5h8v0.2h-8zM139 249.5h8v1h-8zM139 338.5h8v1h-8zM147 219.5h7v1h-7zM147 240.5h7v1h-7zM147 313.5h7v1h-7zM147 315.5h7v1h-7zM147 363.5h7v1h-7zM161 275.5h8v1h-8zM161 296.5h8v1h-8zM161 301.5h8v1h-8zM161 360.5h8v1h-8zM161 376.5h8v1h-8zM169 213.5h7v1h-7zM169 216.5h7v1h-7zM169 220.5h7v1h-7zM169 222.5h7v2h-7zM169 225.5h7v1h-7zM169 236.5h7v1h-7zM169 238.5h7v1h-7zM169 248.5h7v1h-7zM169 256.5h7v1h-7zM169 259.5h7v1h-7zM169 261.5h7v5h-7zM169 267.5h7v2h-7zM169 270.5h7v1h-7zM169 272.5h7v10h-7zM169 284.5h7v1h-7zM169 286.5h7v3h-7zM169 291.5h7v2h-7zM169 299.5h7v2h-7zM169 303.5h7v1h-7zM169 308.5h7v4h-7zM169 313.5h7v1h-7zM169 315.5h7v1h-7zM169 320.5h7v1h-7zM169 323.5h7v1h-7zM169 327.5h7v1h-7zM169 330.5h7v2h-7zM169 333.5h7v1h-7zM169 336.5h7v1h-7zM169 341.5h7v4h-7zM169 347.5h7v3h-7zM169 351.5h7v2h-7zM169 354.5h7v1h-7zM169 356.5h7v1h-7zM169 359.5h7v3h-7zM169 363.5h7v1h-7zM169 365.5h7v2h-7zM169 377.5h7v1h-7zM169 379.5h7v1h-7zM169 383.5h7v1h-7zM169 387.5h7v1h-7zM169 391.5h7v2h-7zM169 394.5h7v2h-7zM169 398.5h7v1h-7zM169 400.5h7v2h-7zM169 408.5h7v1h-7zM169 412.5h7v1h-7zM176 218.5h7v1h-7zM176 220.5h7v1h-7zM183 249.5h8v1h-8zM183 328.5h8v1h-8zM183 338.5h8v1h-8zM183 367.5h8v1h-8zM191 249.5h7v1h-7zM198 214.5h7v1h-7zM198 218.5h7v1h-7zM198 223.5h7v3h-7zM198 230.5h7v2h-7zM198 235.5h7v1h-7zM198 242.5h7v1h-7zM198 246.5h7v1h-7zM198 250.5h7v2h-7zM198 255.5h7v2h-7zM198 260.5h7v1h-7zM198 264.5h7v6h-7zM198 271.5h7v1h-7zM198 274.5h7v4h-7zM198 281.5h7v2h-7zM198 285.5h7v1h-7zM198 288.5h7v1h-7zM198 292.5h7v1h-7zM198 297.5h7v2h-7zM198 300.5h7v1h-7zM198 303.5h7v6h-7zM198 310.5h7v1h-7zM198 312.5h7v1h-7zM198 314.5h7v1h-7zM198 316.5h7v1h-7zM198 319.5h7v2h-7zM198 324.5h7v2h-7zM198 327.5h7v4h-7zM198 333.5h7v1h-7zM198 337.5h7v2h-7zM198 340.5h7v2h-7zM198 344.5h7v1h-7zM198 348.5h7v1h-7zM198 351.5h7v1h-7zM198 353.5h7v1h-7zM198 356.5h7v1h-7zM198 358.5h7v1h-7zM198 360.5h7v1h-7zM198 365.5h7v1h-7zM198 371.5h7v2h-7zM198 374.5h7v1h-7zM198 377.5h7v3h-7zM198 381.5h7v1h-7zM198 383.5h7v1h-7zM198 387.5h7v1h-7zM198 389.5h7v2h-7zM198 396.5h7v1h-7zM198 398.5h7v2h-7zM198 401.5h7v2h-7zM198 406.5h7v1h-7zM198 409.5h7v2h-7zM198 412.5h7v1h-7zM213 229.5h7v1h-7zM213 239.5h7v1h-7zM213 249.5h7v1h-7zM213 256.5h7v1h-7zM213 269.5h7v1h-7zM213 271.5h7v1h-7zM213 273.5h7v1h-7zM213 293.5h7v1h-7zM213 296.5h7v1h-7zM213 298.5h7v1h-7zM213 301.5h7v2h-7zM213 309.5h7v1h-7zM213 312.5h7v1h-7zM213 324.5h7v1h-7zM213 342.5h7v1h-7zM213 367.5h7v1h-7zM213 391.5h7v1h-7zM213 410.5h7v1h-7zM220 214.5h7v4h-7zM220 220.5h7v1h-7zM220 222.5h7v2h-7zM220 301.5h7v1h-7zM227 215.5h8v2h-8zM227 218.5h8v3h-8zM227 229.5h8v1h-8zM235 213.5h7v2h-7zM235 218.5h7v2h-7zM235 221.5h7v1h-7zM235 224.5h7v1h-7zM235 229.5h7v1h-7zM235 235.5h7v1h-7zM235 237.5h7v2h-7zM235 240.5h7v1h-7zM235 244.5h7v1h-7zM235 251.5h7v1h-7zM235 253.5h7v1h-7zM235 261.5h7v1h-7zM235 265.5h7v1h-7zM235 267.5h7v1h-7zM235 271.5h7v1h-7zM235 273.5h7v1h-7zM235 276.5h7v2h-7zM235 281.5h7v1h-7zM235 283.5h7v1h-7zM235 287.5h7v4h-7zM235 292.5h7v3h-7zM235 298.5h7v1h-7zM235 301.5h7v2h-7zM235 304.5h7v2h-7zM235 308.5h7v3h-7zM235 314.5h7v2h-7zM235 318.5h7v2h-7zM235 321.5h7v1h-7zM235 323.5h7v2h-7zM235 327.5h7v4h-7zM235 332.5h7v2h-7zM235 335.5h7v1h-7zM235 343.5h7v1h-7zM235 346.5h7v1h-7zM235 349.5h7v2h-7zM235 356.5h7v1h-7zM235 362.5h7v1h-7zM235 367.5h7v1h-7zM235 372.5h7v1h-7zM235 376.5h7v1h-7zM235 383.5h7v1h-7zM235 387.5h7v1h-7zM235 391.5h7v2h-7zM235 397.5h7v5h-7zM235 403.5h7v1h-7zM235 407.5h7v1h-7zM235 409.5h7v2h-7z"/>
<path shape-rendering="crispEdges" fill="rgb(62,128,194)" d="M37 213.5h7v1.5h-7zM44 215h7v2.5h-7zM51 217.5h8v7h-8zM59 224.5h7v4h-7zM66 228.5h7v22.5h-7zM73 251h8v15.5h-8zM81 213.5h7v4h-7zM81 218.5h7v6h-7zM81 225.5h7v8h-7zM81 234.5h7v32h-7zM81 266.5h7v82h-7zM88 348.5h7v13h-7zM95 361.5h8v3.5h-8zM103 365h7v7h-7zM110 242.5h7v1h-7zM110 249.5h7v1h-7zM110 265.5h7v1h-7zM110 267.5h7v1h-7zM110 286.5h7v2h-7zM110 296.5h7v1h-7zM110 299.5h7v1h-7zM110 301.5h7v1h-7zM110 309.5h7v1h-7zM110 342.5h7v2h-7zM110 349.5h7v1h-7zM110 360.5h7v2h-7zM110 372h7v27.7h-7zM117 249.5h8v1h-8zM117 296.5h8v1h-8zM117 302.5h8v1h-8zM117 399.7h8v5h-8zM125 404.7h7v0.6h-7zM132 405.3h7v1.7h-7zM139 407h8v3.5h-8zM147 213.5h7v6h-7zM147 220.5h7v20h-7zM147 241.5h7v7h-7zM147 249.5h7v52h-7zM147 302.5h7v11h-7zM147 314.5h7v1h-7zM147 316.5h7v17h-7zM147 334.5h7v29h-7zM147 364.5h7v3h-7zM147 368.5h7v42h-7zM147 410.5h7v2.9h-7zM154 413.4h7v0.12h-7zM161 413.52h8v0.12h-8zM169 214.5h7v2h-7zM169 219.5h7v1h-7zM169 229.5h7v1h-7zM169 249.5h7v1h-7zM169 251.5h7v1h-7zM169 285.5h7v1h-7zM169 289.5h7v1h-7zM169 293.5h7v1h-7zM169 296.5h7v1h-7zM169 301.5h7v2h-7zM169 304.5h7v1h-7zM169 312.5h7v1h-7zM169 314.5h7v1h-7zM169 321.5h7v1h-7zM169 324.5h7v1h-7zM169 328.5h7v1h-7zM169 338.5h7v1h-7zM169 367.5h7v1h-7zM169 371.5h7v2h-7zM169 376.5h7v1h-7zM169 386.5h7v1h-7zM169 397.5h7v1h-7zM169 399.5h7v1h-7zM169 407.5h7v1h-7zM169 413.64h7v0.12h-7zM176 413.76h7v0.12h-7zM183 413.88h8v0.12h-8zM191 414h7v0.12h-7zM198 220.5h7v1h-7zM198 229.5h7v1h-7zM198 239.5h7v1h-7zM198 249.5h7v1h-7zM198 261.5h7v1h-7zM198 273.5h7v1h-7zM198 286.5h7v1h-7zM198 293.5h7v1h-7zM198 296.5h7v1h-7zM198 299.5h7v1h-7zM198 301.5h7v2h-7zM198 309.5h7v1h-7zM198 321.5h7v1h-7zM198 336.5h7v1h-7zM198 342.5h7v2h-7zM198 367.5h7v1h-7zM198 376.5h7v1h-7zM198 391.5h7v1h-7zM198 397.5h7v1h-7zM198 407.5h7v1h-7zM198 414.12h7v0.12h-7zM205 414.24h8v0.12h-8zM213 376.5h7v1h-7zM213 414.36h7v0.12h-7zM220 219.5h7v1h-7zM220 414.48h7v0.12h-7zM227 414.6h8v0.12h-8zM235 215.5h7v1h-7zM235 223.5h7v1h-7zM235 225.5h7v1h-7zM235 249.5h7v1h-7zM235 269.5h7v1h-7zM235 286.5h7v1h-7zM235 296.5h7v1h-7zM235 338.5h7v1h-7zM235 342.5h7v1h-7zM235 361.5h7v1h-7zM235 371.5h7v1h-7zM235 377.5h7v1h-7zM235 414.72h7v0.12h-7zM242 414.84h8v0.12h-8z"/>
<line x1="51.47" y1="205.5" x2="51.47" y2="211.5" stroke="#333" stroke-width="0.6"/>
<line x1="51.47" y1="213.5" x2="51.47" y2="439" stroke="#3a4789" stroke-width="0.7" stroke-dasharray="2.6 1.0"/>
<line x1="80.81" y1="205.5" x2="80.81" y2="211.5" stroke="#333" stroke-width="0.6"/>
<line x1="80.81" y1="213.5" x2="80.81" y2="439" stroke="#3a4789" stroke-width="0.7" stroke-dasharray="2.6 1.0"/>
<line x1="102.81" y1="205.5" x2="102.81" y2="211.5" stroke="#333" stroke-width="0.6"/>
<line x1="102.81" y1="213.5" x2="102.81" y2="439" stroke="#3a4789" stroke-width="0.7" stroke-dasharray="2.6 1.0"/>
<line x1="139.48" y1="205.5" x2="139.48" y2="211.5" stroke="#333" stroke-width="0.6"/>
<line x1="139.48" y1="213.5" x2="139.48" y2="439" stroke="#3a4789" stroke-width="0.7" stroke-dasharray="2.6 1.0"/>
<line x1="183.49" y1="205.5" x2="183.49" y2="211.5" stroke="#333" stroke-width="0.6"/>
<line x1="183.49" y1="213.5" x2="183.49" y2="439" stroke="#3a4789" stroke-width="0.7" stroke-dasharray="2.6 1.0"/>
<line x1="220.16" y1="205.5" x2="220.16" y2="211.5" stroke="#333" stroke-width="0.6"/>
<line x1="220.16" y1="213.5" x2="220.16" y2="439" stroke="#3a4789" stroke-width="0.7" stroke-dasharray="2.6 1.0"/>
<text x="43.1" y="397" font-size="6.3" textLength="27.2" lengthAdjust="spacingAndGlyphs" font-weight="normal">n = 1632</text>
<text x="44.2" y="410.8" font-size="8.5" textLength="28.1" lengthAdjust="spacingAndGlyphs">Z13264</text>
<line x1="36.6" y1="415.8" x2="36.6" y2="439" stroke="#222" stroke-width="0.9"/>
<line x1="36.6" y1="439.3" x2="251.6" y2="439.3" stroke="#1a1a1a" stroke-width="1.1"/>
<line x1="250.6" y1="414.5" x2="250.6" y2="439" stroke="#222" stroke-width="0.9"/>
<line x1="34.2" y1="417.7" x2="36.6" y2="417.7" stroke="#222" stroke-width="0.8"/>
<line x1="34.2" y1="428.4" x2="36.6" y2="428.4" stroke="#222" stroke-width="0.8"/>
<line x1="34.2" y1="439" x2="36.6" y2="439" stroke="#222" stroke-width="0.8"/>
<line x1="35.4" y1="439" x2="36.6" y2="439" stroke="#222" stroke-width="0.4"/>
<line x1="35.4" y1="437.94" x2="36.6" y2="437.94" stroke="#222" stroke-width="0.4"/>
<line x1="35.4" y1="436.87" x2="36.6" y2="436.87" stroke="#222" stroke-width="0.4"/>
<line x1="35.4" y1="435.81" x2="36.6" y2="435.81" stroke="#222" stroke-width="0.4"/>
<line x1="35.4" y1="434.74" x2="36.6" y2="434.74" stroke="#222" stroke-width="0.4"/>
<line x1="35.4" y1="433.68" x2="36.6" y2="433.68" stroke="#222" stroke-width="0.4"/>
<line x1="35.4" y1="432.61" x2="36.6" y2="432.61" stroke="#222" stroke-width="0.4"/>
<line x1="35.4" y1="431.55" x2="36.6" y2="431.55" stroke="#222" stroke-width="0.4"/>
<line x1="35.4" y1="430.48" x2="36.6" y2="430.48" stroke="#222" stroke-width="0.4"/>
<line x1="35.4" y1="429.42" x2="36.6" y2="429.42" stroke="#222" stroke-width="0.4"/>
<line x1="35.4" y1="428.35" x2="36.6" y2="428.35" stroke="#222" stroke-width="0.4"/>
<line x1="35.4" y1="427.29" x2="36.6" y2="427.29" stroke="#222" stroke-width="0.4"/>
<line x1="35.4" y1="426.22" x2="36.6" y2="426.22" stroke="#222" stroke-width="0.4"/>
<line x1="35.4" y1="425.15" x2="36.6" y2="425.15" stroke="#222" stroke-width="0.4"/>
<line x1="35.4" y1="424.09" x2="36.6" y2="424.09" stroke="#222" stroke-width="0.4"/>
<line x1="35.4" y1="423.02" x2="36.6" y2="423.02" stroke="#222" stroke-width="0.4"/>
<line x1="35.4" y1="421.96" x2="36.6" y2="421.96" stroke="#222" stroke-width="0.4"/>
<line x1="35.4" y1="420.89" x2="36.6" y2="420.89" stroke="#222" stroke-width="0.4"/>
<line x1="35.4" y1="419.83" x2="36.6" y2="419.83" stroke="#222" stroke-width="0.4"/>
<line x1="35.4" y1="418.76" x2="36.6" y2="418.76" stroke="#222" stroke-width="0.4"/>
<line x1="35.4" y1="417.7" x2="36.6" y2="417.7" stroke="#222" stroke-width="0.4"/>
<text x="31.2" y="419.9" font-size="6.4" text-anchor="end" textLength="11.3" lengthAdjust="spacingAndGlyphs" fill="#5b7fa6" stroke="#5b7fa6" stroke-width="0.1">100</text>
<text x="31.2" y="430.6" font-size="6.4" text-anchor="end" textLength="7.6" lengthAdjust="spacingAndGlyphs" fill="#5b7fa6" stroke="#5b7fa6" stroke-width="0.1">50</text>
<text x="31.2" y="441.2" font-size="6.4" text-anchor="end" textLength="3.6" lengthAdjust="spacingAndGlyphs" fill="#5b7fa6" stroke="#5b7fa6" stroke-width="0.1">0</text>
<line x1="250.6" y1="418.4" x2="253" y2="418.4" stroke="#222" stroke-width="0.8"/>
<line x1="250.6" y1="424.8" x2="253" y2="424.8" stroke="#222" stroke-width="0.8"/>
<line x1="250.6" y1="431.4" x2="253" y2="431.4" stroke="#222" stroke-width="0.8"/>
<line x1="250.6" y1="437.6" x2="253" y2="437.6" stroke="#222" stroke-width="0.8"/>
<text x="256.4" y="420.7" font-size="6.4" fill="#8ccb85">2<tspan font-size="3.9" dy="-2.6">20</tspan></text>
<text x="256.4" y="427.1" font-size="6.4" fill="#8ccb85">2<tspan font-size="3.9" dy="-2.6">15</tspan></text>
<text x="256.4" y="433.7" font-size="6.4" fill="#8ccb85">2<tspan font-size="3.9" dy="-2.6">10</tspan></text>
<text x="256.4" y="439.9" font-size="6.4" fill="#8ccb85">2<tspan font-size="3.9" dy="-2.6">5</tspan></text>
<polyline fill="none" stroke="#58b44f" stroke-width="1.0" points="40.47,430.4 47.8,425 55.14,424.4 62.47,428.3 69.81,426.7 77.14,425 84.47,421.1 91.81,426 99.14,427.4 106.48,428.5 113.81,421.5 121.15,424.6 128.48,428.2 135.82,435.4 143.15,427.2 150.48,419.2 157.82,424.6 165.15,426.2 172.49,420.5 179.82,421.8 187.16,425.3 194.49,425 201.83,421.5 209.16,422.7 216.49,421 223.83,427.4 231.16,427 238.5,423.6 245.83,429.1"/>
<rect x="39.17" y="429.1" width="2.6" height="2.6" fill="#58b44f"/>
<rect x="46.5" y="423.7" width="2.6" height="2.6" fill="#58b44f"/>
<rect x="53.84" y="423.1" width="2.6" height="2.6" fill="#58b44f"/>
<rect x="61.17" y="427" width="2.6" height="2.6" fill="#58b44f"/>
<rect x="68.51" y="425.4" width="2.6" height="2.6" fill="#58b44f"/>
<rect x="75.84" y="423.7" width="2.6" height="2.6" fill="#58b44f"/>
<rect x="83.17" y="419.8" width="2.6" height="2.6" fill="#58b44f"/>
<rect x="90.51" y="424.7" width="2.6" height="2.6" fill="#58b44f"/>
<rect x="97.84" y="426.1" width="2.6" height="2.6" fill="#58b44f"/>
<rect x="105.18" y="427.2" width="2.6" height="2.6" fill="#58b44f"/>
<rect x="112.51" y="420.2" width="2.6" height="2.6" fill="#58b44f"/>
<rect x="119.85" y="423.3" width="2.6" height="2.6" fill="#58b44f"/>
<rect x="127.18" y="426.9" width="2.6" height="2.6" fill="#58b44f"/>
<rect x="134.52" y="434.1" width="2.6" height="2.6" fill="#58b44f"/>
<rect x="141.85" y="425.9" width="2.6" height="2.6" fill="#58b44f"/>
<rect x="149.18" y="417.9" width="2.6" height="2.6" fill="#58b44f"/>
<rect x="156.52" y="423.3" width="2.6" height="2.6" fill="#58b44f"/>
<rect x="163.85" y="424.9" width="2.6" height="2.6" fill="#58b44f"/>
<rect x="171.19" y="419.2" width="2.6" height="2.6" fill="#58b44f"/>
<rect x="178.52" y="420.5" width="2.6" height="2.6" fill="#58b44f"/>
<rect x="185.86" y="424" width="2.6" height="2.6" fill="#58b44f"/>
<rect x="193.19" y="423.7" width="2.6" height="2.6" fill="#58b44f"/>
<rect x="200.53" y="420.2" width="2.6" height="2.6" fill="#58b44f"/>
<rect x="207.86" y="421.4" width="2.6" height="2.6" fill="#58b44f"/>
<rect x="215.19" y="419.7" width="2.6" height="2.6" fill="#58b44f"/>
<rect x="222.53" y="426.1" width="2.6" height="2.6" fill="#58b44f"/>
<rect x="229.86" y="425.7" width="2.6" height="2.6" fill="#58b44f"/>
<rect x="237.2" y="422.3" width="2.6" height="2.6" fill="#58b44f"/>
<rect x="244.53" y="427.8" width="2.6" height="2.6" fill="#58b44f"/>
<polyline fill="none" stroke="#1c3b78" stroke-width="1.0" points="40.47,417.7 47.8,421.1 55.14,423.4 62.47,433.7 69.81,425 77.14,428.3 84.47,418.2 91.81,426.3 99.14,431.3 106.48,434.2 113.81,421.1 121.15,423.8 128.48,437.4 135.82,434.6 143.15,425.4 150.48,417.7 157.82,431.2 165.15,424.9 172.49,419.7 179.82,427.5 187.16,425.3 194.49,429.1 201.83,420.5 209.16,428.4 216.49,423.9 223.83,427.9 231.16,427 238.5,421 245.83,434.8"/>
<circle cx="40.47" cy="417.7" r="1.45" fill="#1c3b78"/>
<circle cx="47.8" cy="421.1" r="1.45" fill="#1c3b78"/>
<circle cx="55.14" cy="423.4" r="1.45" fill="#1c3b78"/>
<circle cx="62.47" cy="433.7" r="1.45" fill="#1c3b78"/>
<circle cx="69.81" cy="425" r="1.45" fill="#1c3b78"/>
<circle cx="77.14" cy="428.3" r="1.45" fill="#1c3b78"/>
<circle cx="84.47" cy="418.2" r="1.45" fill="#1c3b78"/>
<circle cx="91.81" cy="426.3" r="1.45" fill="#1c3b78"/>
<circle cx="99.14" cy="431.3" r="1.45" fill="#1c3b78"/>
<circle cx="106.48" cy="434.2" r="1.45" fill="#1c3b78"/>
<circle cx="113.81" cy="421.1" r="1.45" fill="#1c3b78"/>
<circle cx="121.15" cy="423.8" r="1.45" fill="#1c3b78"/>
<circle cx="128.48" cy="437.4" r="1.45" fill="#1c3b78"/>
<circle cx="135.82" cy="434.6" r="1.45" fill="#1c3b78"/>
<circle cx="143.15" cy="425.4" r="1.45" fill="#1c3b78"/>
<circle cx="150.48" cy="417.7" r="1.45" fill="#1c3b78"/>
<circle cx="157.82" cy="431.2" r="1.45" fill="#1c3b78"/>
<circle cx="165.15" cy="424.9" r="1.45" fill="#1c3b78"/>
<circle cx="172.49" cy="419.7" r="1.45" fill="#1c3b78"/>
<circle cx="179.82" cy="427.5" r="1.45" fill="#1c3b78"/>
<circle cx="187.16" cy="425.3" r="1.45" fill="#1c3b78"/>
<circle cx="194.49" cy="429.1" r="1.45" fill="#1c3b78"/>
<circle cx="201.83" cy="420.5" r="1.45" fill="#1c3b78"/>
<circle cx="209.16" cy="428.4" r="1.45" fill="#1c3b78"/>
<circle cx="216.49" cy="423.9" r="1.45" fill="#1c3b78"/>
<circle cx="223.83" cy="427.9" r="1.45" fill="#1c3b78"/>
<circle cx="231.16" cy="427" r="1.45" fill="#1c3b78"/>
<circle cx="238.5" cy="421" r="1.45" fill="#1c3b78"/>
<circle cx="245.83" cy="434.8" r="1.45" fill="#1c3b78"/>
<line x1="40.47" y1="439" x2="40.47" y2="441.7" stroke="#222" stroke-width="0.7"/>
<text transform="translate(42.67 445.9) rotate(-90)" font-size="6.3" text-anchor="end" textLength="7" lengthAdjust="spacingAndGlyphs" stroke="#222" stroke-width="0.12">19</text>
<line x1="47.8" y1="439" x2="47.8" y2="441.7" stroke="#222" stroke-width="0.7"/>
<text transform="translate(50 445.9) rotate(-90)" font-size="6.3" text-anchor="end" textLength="7" lengthAdjust="spacingAndGlyphs" stroke="#222" stroke-width="0.12">26</text>
<line x1="55.14" y1="439" x2="55.14" y2="441.7" stroke="#222" stroke-width="0.7"/>
<text transform="translate(57.34 445.9) rotate(-90)" font-size="6.3" text-anchor="end" textLength="7" lengthAdjust="spacingAndGlyphs" stroke="#222" stroke-width="0.12">34</text>
<line x1="62.47" y1="439" x2="62.47" y2="441.7" stroke="#222" stroke-width="0.7"/>
<text transform="translate(64.67 445.9) rotate(-90)" font-size="6.3" text-anchor="end" textLength="7" lengthAdjust="spacingAndGlyphs" stroke="#222" stroke-width="0.12">40</text>
<line x1="69.81" y1="439" x2="69.81" y2="441.7" stroke="#222" stroke-width="0.7"/>
<text transform="translate(72.01 445.9) rotate(-90)" font-size="6.3" text-anchor="end" textLength="7" lengthAdjust="spacingAndGlyphs" stroke="#222" stroke-width="0.12">49</text>
<line x1="77.14" y1="439" x2="77.14" y2="441.7" stroke="#222" stroke-width="0.7"/>
<rect x="73.94" y="445.3" width="6.4" height="9.4" fill="none" stroke="#df6d8f" stroke-width="0.7"/>
<text transform="translate(79.34 445.9) rotate(-90)" font-size="6.3" text-anchor="end" textLength="7" lengthAdjust="spacingAndGlyphs" stroke="#222" stroke-width="0.12">56</text>
<line x1="84.47" y1="439" x2="84.47" y2="441.7" stroke="#222" stroke-width="0.7"/>
<rect x="81.67" y="445.3" width="5.6" height="16.2" fill="#f9bd1d"/>
<text transform="translate(86.67 445.9) rotate(-90)" font-size="6.3" text-anchor="end" textLength="7" lengthAdjust="spacingAndGlyphs" stroke="#222" stroke-width="0.12">70</text>
<line x1="91.81" y1="439" x2="91.81" y2="441.7" stroke="#222" stroke-width="0.7"/>
<text transform="translate(94.01 445.9) rotate(-90)" font-size="6.3" text-anchor="end" textLength="7" lengthAdjust="spacingAndGlyphs" stroke="#222" stroke-width="0.12">84</text>
<line x1="99.14" y1="439" x2="99.14" y2="441.7" stroke="#222" stroke-width="0.7"/>
<text transform="translate(101.34 445.9) rotate(-90)" font-size="6.3" text-anchor="end" textLength="7" lengthAdjust="spacingAndGlyphs" stroke="#222" stroke-width="0.12">98</text>
<line x1="106.48" y1="439" x2="106.48" y2="441.7" stroke="#222" stroke-width="0.7"/>
<rect x="103.28" y="445.3" width="6.4" height="13" fill="none" stroke="#df6d8f" stroke-width="0.7"/>
<text transform="translate(108.68 445.9) rotate(-90)" font-size="6.3" text-anchor="end" textLength="10.5" lengthAdjust="spacingAndGlyphs" stroke="#222" stroke-width="0.12">112</text>
<line x1="113.81" y1="439" x2="113.81" y2="441.7" stroke="#222" stroke-width="0.7"/>
<rect x="111.01" y="445.3" width="5.6" height="16.2" fill="#f9bd1d"/>
<text transform="translate(116.01 445.9) rotate(-90)" font-size="6.3" text-anchor="end" textLength="10.5" lengthAdjust="spacingAndGlyphs" stroke="#222" stroke-width="0.12">131</text>
<line x1="121.15" y1="439" x2="121.15" y2="441.7" stroke="#222" stroke-width="0.7"/>
<text transform="translate(123.35 445.9) rotate(-90)" font-size="6.3" text-anchor="end" textLength="10.5" lengthAdjust="spacingAndGlyphs" stroke="#222" stroke-width="0.12">152</text>
<line x1="128.48" y1="439" x2="128.48" y2="441.7" stroke="#222" stroke-width="0.7"/>
<text transform="translate(130.68 445.9) rotate(-90)" font-size="6.3" text-anchor="end" textLength="10.5" lengthAdjust="spacingAndGlyphs" stroke="#222" stroke-width="0.12">180</text>
<line x1="135.82" y1="439" x2="135.82" y2="441.7" stroke="#222" stroke-width="0.7"/>
<rect x="132.62" y="445.3" width="6.4" height="13" fill="none" stroke="#df6d8f" stroke-width="0.7"/>
<text transform="translate(138.02 445.9) rotate(-90)" font-size="6.3" text-anchor="end" textLength="10.5" lengthAdjust="spacingAndGlyphs" stroke="#222" stroke-width="0.12">194</text>
<line x1="143.15" y1="439" x2="143.15" y2="441.7" stroke="#222" stroke-width="0.7"/>
<text transform="translate(145.35 445.9) rotate(-90)" font-size="6.3" text-anchor="end" textLength="10.5" lengthAdjust="spacingAndGlyphs" stroke="#222" stroke-width="0.12">215</text>
<line x1="150.48" y1="439" x2="150.48" y2="441.7" stroke="#222" stroke-width="0.7"/>
<rect x="147.68" y="445.3" width="5.6" height="16.2" fill="#f9bd1d"/>
<text transform="translate(152.68 445.9) rotate(-90)" font-size="6.3" text-anchor="end" textLength="10.5" lengthAdjust="spacingAndGlyphs" stroke="#222" stroke-width="0.12">249</text>
<line x1="157.82" y1="439" x2="157.82" y2="441.7" stroke="#222" stroke-width="0.7"/>
<rect x="154.62" y="445.3" width="6.4" height="13" fill="none" stroke="#df6d8f" stroke-width="0.7"/>
<text transform="translate(160.02 445.9) rotate(-90)" font-size="6.3" text-anchor="end" textLength="10.5" lengthAdjust="spacingAndGlyphs" stroke="#222" stroke-width="0.12">278</text>
<line x1="165.15" y1="439" x2="165.15" y2="441.7" stroke="#222" stroke-width="0.7"/>
<text transform="translate(167.35 445.9) rotate(-90)" font-size="6.3" text-anchor="end" textLength="10.5" lengthAdjust="spacingAndGlyphs" stroke="#222" stroke-width="0.12">300</text>
<line x1="172.49" y1="439" x2="172.49" y2="441.7" stroke="#222" stroke-width="0.7"/>
<rect x="169.69" y="445.3" width="5.6" height="16.2" fill="#f9bd1d"/>
<text transform="translate(174.69 445.9) rotate(-90)" font-size="6.3" text-anchor="end" textLength="10.5" lengthAdjust="spacingAndGlyphs" stroke="#222" stroke-width="0.12">334</text>
<line x1="179.82" y1="439" x2="179.82" y2="441.7" stroke="#222" stroke-width="0.7"/>
<rect x="176.62" y="445.3" width="6.4" height="13" fill="none" stroke="#df6d8f" stroke-width="0.7"/>
<text transform="translate(182.02 445.9) rotate(-90)" font-size="6.3" text-anchor="end" textLength="10.5" lengthAdjust="spacingAndGlyphs" stroke="#222" stroke-width="0.12">369</text>
<line x1="187.16" y1="439" x2="187.16" y2="441.7" stroke="#222" stroke-width="0.7"/>
<text transform="translate(189.36 445.9) rotate(-90)" font-size="6.3" text-anchor="end" textLength="10.5" lengthAdjust="spacingAndGlyphs" stroke="#222" stroke-width="0.12">397</text>
<line x1="194.49" y1="439" x2="194.49" y2="441.7" stroke="#222" stroke-width="0.7"/>
<text transform="translate(196.69 445.9) rotate(-90)" font-size="6.3" text-anchor="end" textLength="10.5" lengthAdjust="spacingAndGlyphs" stroke="#222" stroke-width="0.12">462</text>
<line x1="201.83" y1="439" x2="201.83" y2="441.7" stroke="#222" stroke-width="0.7"/>
<rect x="199.03" y="445.3" width="5.6" height="16.2" fill="#f9bd1d"/>
<text transform="translate(204.03 445.9) rotate(-90)" font-size="6.3" text-anchor="end" textLength="10.5" lengthAdjust="spacingAndGlyphs" stroke="#222" stroke-width="0.12">532</text>
<line x1="209.16" y1="439" x2="209.16" y2="441.7" stroke="#222" stroke-width="0.7"/>
<rect x="205.96" y="445.3" width="6.4" height="13" fill="none" stroke="#df6d8f" stroke-width="0.7"/>
<text transform="translate(211.36 445.9) rotate(-90)" font-size="6.3" text-anchor="end" textLength="10.5" lengthAdjust="spacingAndGlyphs" stroke="#222" stroke-width="0.12">573</text>
<line x1="216.49" y1="439" x2="216.49" y2="441.7" stroke="#222" stroke-width="0.7"/>
<rect x="213.69" y="445.3" width="5.6" height="16.2" fill="#f9bd1d"/>
<rect x="213.29" y="445.3" width="6.4" height="13" fill="none" stroke="#df6d8f" stroke-width="0.7"/>
<text transform="translate(218.69 445.9) rotate(-90)" font-size="6.3" text-anchor="end" textLength="10.5" lengthAdjust="spacingAndGlyphs" stroke="#222" stroke-width="0.12">771</text>
<line x1="223.83" y1="439" x2="223.83" y2="441.7" stroke="#222" stroke-width="0.7"/>
<text transform="translate(226.03 445.9) rotate(-90)" font-size="6.3" text-anchor="end" textLength="14" lengthAdjust="spacingAndGlyphs" stroke="#222" stroke-width="0.12">1015</text>
<line x1="231.16" y1="439" x2="231.16" y2="441.7" stroke="#222" stroke-width="0.7"/>
<text transform="translate(233.36 445.9) rotate(-90)" font-size="6.3" text-anchor="end" textLength="14" lengthAdjust="spacingAndGlyphs" stroke="#222" stroke-width="0.12">1167</text>
<line x1="238.5" y1="439" x2="238.5" y2="441.7" stroke="#222" stroke-width="0.7"/>
<rect x="235.7" y="445.3" width="5.6" height="17.6" fill="#f9bd1d"/>
<text transform="translate(240.7 445.9) rotate(-90)" font-size="6.3" text-anchor="end" textLength="14" lengthAdjust="spacingAndGlyphs" stroke="#222" stroke-width="0.12">1265</text>
<line x1="245.83" y1="439" x2="245.83" y2="441.7" stroke="#222" stroke-width="0.7"/>
<rect x="242.63" y="445.3" width="6.4" height="16.6" fill="none" stroke="#df6d8f" stroke-width="0.7"/>
<text transform="translate(248.03 445.9) rotate(-90)" font-size="6.3" text-anchor="end" textLength="14" lengthAdjust="spacingAndGlyphs" stroke="#222" stroke-width="0.12">1485</text>
<text x="18.3" y="472.7" font-size="8.9" textLength="43.6" lengthAdjust="spacingAndGlyphs" fill="#3d69a3">% IS detected</text>
<text x="117.8" y="472.7" font-size="8.9" textLength="65.7" lengthAdjust="spacingAndGlyphs">Days post-transplant</text>
<text x="241.3" y="472.7" font-size="8.9" textLength="24.1" lengthAdjust="spacingAndGlyphs" fill="#4fae4f"># Reads</text>
<text x="316.2" y="182.5" font-size="8.6" textLength="176.9" lengthAdjust="spacingAndGlyphs">Repeated sampling enhances the reliability</text>
<text x="375" y="193.8" font-size="8.6" textLength="60.4" lengthAdjust="spacingAndGlyphs">of IS detection</text>
<text x="345.2" y="207.4" font-size="8.6" textLength="30.5" lengthAdjust="spacingAndGlyphs">Z13264</text>
<text x="449.8" y="207.4" font-size="8.6" textLength="30.9" lengthAdjust="spacingAndGlyphs">Z14004</text>
<text transform="translate(295.4 244) rotate(-90)" font-size="8.6" text-anchor="middle" textLength="71" lengthAdjust="spacingAndGlyphs" fill="#5fb95b">Cumulative # of reads</text>
<text transform="translate(305 245.4) rotate(-90)" font-size="8.6" text-anchor="middle" textLength="41" lengthAdjust="spacingAndGlyphs" fill="#5fb95b">at time point</text>
<text x="360.9" y="307.3" font-size="9" textLength="96.9" lengthAdjust="spacingAndGlyphs" fill="#3d6aa3">% of 5 lineage clones detected</text>
<line x1="326.9" y1="210" x2="326.9" y2="282" stroke="#222" stroke-width="0.9"/>
<line x1="326.9" y1="282" x2="404.6" y2="282" stroke="#222" stroke-width="0.9"/>
<line x1="327.9" y1="282" x2="327.9" y2="284.4" stroke="#222" stroke-width="0.8"/>
<text x="327.9" y="294.8" font-size="6.9" text-anchor="middle" fill="#3d6aa3" stroke="#3d6aa3" stroke-width="0.1">0</text>
<line x1="342.56" y1="282" x2="342.56" y2="284.4" stroke="#222" stroke-width="0.8"/>
<text x="342.56" y="294.8" font-size="6.9" text-anchor="middle" fill="#3d6aa3" stroke="#3d6aa3" stroke-width="0.1">20</text>
<line x1="357.22" y1="282" x2="357.22" y2="284.4" stroke="#222" stroke-width="0.8"/>
<text x="357.22" y="294.8" font-size="6.9" text-anchor="middle" fill="#3d6aa3" stroke="#3d6aa3" stroke-width="0.1">40</text>
<line x1="371.88" y1="282" x2="371.88" y2="284.4" stroke="#222" stroke-width="0.8"/>
<text x="371.88" y="294.8" font-size="6.9" text-anchor="middle" fill="#3d6aa3" stroke="#3d6aa3" stroke-width="0.1">60</text>
<line x1="386.54" y1="282" x2="386.54" y2="284.4" stroke="#222" stroke-width="0.8"/>
<text x="386.54" y="294.8" font-size="6.9" text-anchor="middle" fill="#3d6aa3" stroke="#3d6aa3" stroke-width="0.1">80</text>
<line x1="401.2" y1="282" x2="401.2" y2="284.4" stroke="#222" stroke-width="0.8"/>
<text x="401.2" y="294.8" font-size="6.9" text-anchor="middle" fill="#3d6aa3" stroke="#3d6aa3" stroke-width="0.1">100</text>
<line x1="327.9" y1="282" x2="327.9" y2="283.3" stroke="#222" stroke-width="0.45"/>
<line x1="331.56" y1="282" x2="331.56" y2="283.3" stroke="#222" stroke-width="0.45"/>
<line x1="335.23" y1="282" x2="335.23" y2="283.3" stroke="#222" stroke-width="0.45"/>
<line x1="338.89" y1="282" x2="338.89" y2="283.3" stroke="#222" stroke-width="0.45"/>
<line x1="342.56" y1="282" x2="342.56" y2="283.3" stroke="#222" stroke-width="0.45"/>
<line x1="346.22" y1="282" x2="346.22" y2="283.3" stroke="#222" stroke-width="0.45"/>
<line x1="349.89" y1="282" x2="349.89" y2="283.3" stroke="#222" stroke-width="0.45"/>
<line x1="353.55" y1="282" x2="353.55" y2="283.3" stroke="#222" stroke-width="0.45"/>
<line x1="357.22" y1="282" x2="357.22" y2="283.3" stroke="#222" stroke-width="0.45"/>
<line x1="360.88" y1="282" x2="360.88" y2="283.3" stroke="#222" stroke-width="0.45"/>
<line x1="364.55" y1="282" x2="364.55" y2="283.3" stroke="#222" stroke-width="0.45"/>
<line x1="368.21" y1="282" x2="368.21" y2="283.3" stroke="#222" stroke-width="0.45"/>
<line x1="371.88" y1="282" x2="371.88" y2="283.3" stroke="#222" stroke-width="0.45"/>
<line x1="375.54" y1="282" x2="375.54" y2="283.3" stroke="#222" stroke-width="0.45"/>
<line x1="379.21" y1="282" x2="379.21" y2="283.3" stroke="#222" stroke-width="0.45"/>
<line x1="382.88" y1="282" x2="382.88" y2="283.3" stroke="#222" stroke-width="0.45"/>
<line x1="386.54" y1="282" x2="386.54" y2="283.3" stroke="#222" stroke-width="0.45"/>
<line x1="390.2" y1="282" x2="390.2" y2="283.3" stroke="#222" stroke-width="0.45"/>
<line x1="393.87" y1="282" x2="393.87" y2="283.3" stroke="#222" stroke-width="0.45"/>
<line x1="397.53" y1="282" x2="397.53" y2="283.3" stroke="#222" stroke-width="0.45"/>
<line x1="401.2" y1="282" x2="401.2" y2="283.3" stroke="#222" stroke-width="0.45"/>
<line x1="324.5" y1="212.4" x2="326.9" y2="212.4" stroke="#222" stroke-width="0.8"/>
<text x="320.5" y="214.9" font-size="6.8" fill="#5db656" text-anchor="end">2<tspan font-size="4.08" dy="-3.06">20</tspan></text>
<line x1="324.5" y1="223.07" x2="326.9" y2="223.07" stroke="#222" stroke-width="0.8"/>
<text x="320.5" y="225.57" font-size="6.8" fill="#5db656" text-anchor="end">2<tspan font-size="4.08" dy="-3.06">18</tspan></text>
<line x1="324.5" y1="233.74" x2="326.9" y2="233.74" stroke="#222" stroke-width="0.8"/>
<text x="320.5" y="236.24" font-size="6.8" fill="#5db656" text-anchor="end">2<tspan font-size="4.08" dy="-3.06">16</tspan></text>
<line x1="324.5" y1="244.41" x2="326.9" y2="244.41" stroke="#222" stroke-width="0.8"/>
<text x="320.5" y="246.91" font-size="6.8" fill="#5db656" text-anchor="end">2<tspan font-size="4.08" dy="-3.06">14</tspan></text>
<line x1="324.5" y1="255.08" x2="326.9" y2="255.08" stroke="#222" stroke-width="0.8"/>
<text x="320.5" y="257.58" font-size="6.8" fill="#5db656" text-anchor="end">2<tspan font-size="4.08" dy="-3.06">12</tspan></text>
<line x1="324.5" y1="265.75" x2="326.9" y2="265.75" stroke="#222" stroke-width="0.8"/>
<text x="320.5" y="268.25" font-size="6.8" fill="#5db656" text-anchor="end">2<tspan font-size="4.08" dy="-3.06">10</tspan></text>
<line x1="324.5" y1="276.42" x2="326.9" y2="276.42" stroke="#222" stroke-width="0.8"/>
<text x="320.5" y="278.92" font-size="6.8" fill="#5db656" text-anchor="end">2<tspan font-size="4.08" dy="-3.06">8</tspan></text>
<line x1="424.9" y1="209.3" x2="424.9" y2="282" stroke="#222" stroke-width="0.9"/>
<line x1="424.9" y1="282" x2="502.2" y2="282" stroke="#222" stroke-width="0.9"/>
<line x1="425.2" y1="282" x2="425.2" y2="284.4" stroke="#222" stroke-width="0.8"/>
<text x="425.2" y="294.8" font-size="6.9" text-anchor="middle" fill="#3d6aa3" stroke="#3d6aa3" stroke-width="0.1">0</text>
<line x1="439.98" y1="282" x2="439.98" y2="284.4" stroke="#222" stroke-width="0.8"/>
<text x="439.98" y="294.8" font-size="6.9" text-anchor="middle" fill="#3d6aa3" stroke="#3d6aa3" stroke-width="0.1">20</text>
<line x1="454.76" y1="282" x2="454.76" y2="284.4" stroke="#222" stroke-width="0.8"/>
<text x="454.76" y="294.8" font-size="6.9" text-anchor="middle" fill="#3d6aa3" stroke="#3d6aa3" stroke-width="0.1">40</text>
<line x1="469.54" y1="282" x2="469.54" y2="284.4" stroke="#222" stroke-width="0.8"/>
<text x="469.54" y="294.8" font-size="6.9" text-anchor="middle" fill="#3d6aa3" stroke="#3d6aa3" stroke-width="0.1">60</text>
<line x1="484.32" y1="282" x2="484.32" y2="284.4" stroke="#222" stroke-width="0.8"/>
<text x="484.32" y="294.8" font-size="6.9" text-anchor="middle" fill="#3d6aa3" stroke="#3d6aa3" stroke-width="0.1">80</text>
<line x1="499.1" y1="282" x2="499.1" y2="284.4" stroke="#222" stroke-width="0.8"/>
<text x="499.1" y="294.8" font-size="6.9" text-anchor="middle" fill="#3d6aa3" stroke="#3d6aa3" stroke-width="0.1">100</text>
<line x1="425.2" y1="282" x2="425.2" y2="283.3" stroke="#222" stroke-width="0.45"/>
<line x1="428.89" y1="282" x2="428.89" y2="283.3" stroke="#222" stroke-width="0.45"/>
<line x1="432.59" y1="282" x2="432.59" y2="283.3" stroke="#222" stroke-width="0.45"/>
<line x1="436.28" y1="282" x2="436.28" y2="283.3" stroke="#222" stroke-width="0.45"/>
<line x1="439.98" y1="282" x2="439.98" y2="283.3" stroke="#222" stroke-width="0.45"/>
<line x1="443.68" y1="282" x2="443.68" y2="283.3" stroke="#222" stroke-width="0.45"/>
<line x1="447.37" y1="282" x2="447.37" y2="283.3" stroke="#222" stroke-width="0.45"/>
<line x1="451.06" y1="282" x2="451.06" y2="283.3" stroke="#222" stroke-width="0.45"/>
<line x1="454.76" y1="282" x2="454.76" y2="283.3" stroke="#222" stroke-width="0.45"/>
<line x1="458.45" y1="282" x2="458.45" y2="283.3" stroke="#222" stroke-width="0.45"/>
<line x1="462.15" y1="282" x2="462.15" y2="283.3" stroke="#222" stroke-width="0.45"/>
<line x1="465.84" y1="282" x2="465.84" y2="283.3" stroke="#222" stroke-width="0.45"/>
<line x1="469.54" y1="282" x2="469.54" y2="283.3" stroke="#222" stroke-width="0.45"/>
<line x1="473.24" y1="282" x2="473.24" y2="283.3" stroke="#222" stroke-width="0.45"/>
<line x1="476.93" y1="282" x2="476.93" y2="283.3" stroke="#222" stroke-width="0.45"/>
<line x1="480.62" y1="282" x2="480.62" y2="283.3" stroke="#222" stroke-width="0.45"/>
<line x1="484.32" y1="282" x2="484.32" y2="283.3" stroke="#222" stroke-width="0.45"/>
<line x1="488.01" y1="282" x2="488.01" y2="283.3" stroke="#222" stroke-width="0.45"/>
<line x1="491.71" y1="282" x2="491.71" y2="283.3" stroke="#222" stroke-width="0.45"/>
<line x1="495.4" y1="282" x2="495.4" y2="283.3" stroke="#222" stroke-width="0.45"/>
<line x1="499.1" y1="282" x2="499.1" y2="283.3" stroke="#222" stroke-width="0.45"/>
<line x1="422.5" y1="212.4" x2="424.9" y2="212.4" stroke="#222" stroke-width="0.8"/>
<text x="418.6" y="214.9" font-size="6.8" fill="#5db656" text-anchor="end">2<tspan font-size="4.08" dy="-3.06">20</tspan></text>
<line x1="422.5" y1="223.07" x2="424.9" y2="223.07" stroke="#222" stroke-width="0.8"/>
<text x="418.6" y="225.57" font-size="6.8" fill="#5db656" text-anchor="end">2<tspan font-size="4.08" dy="-3.06">18</tspan></text>
<line x1="422.5" y1="233.74" x2="424.9" y2="233.74" stroke="#222" stroke-width="0.8"/>
<text x="418.6" y="236.24" font-size="6.8" fill="#5db656" text-anchor="end">2<tspan font-size="4.08" dy="-3.06">16</tspan></text>
<line x1="422.5" y1="244.41" x2="424.9" y2="244.41" stroke="#222" stroke-width="0.8"/>
<text x="418.6" y="246.91" font-size="6.8" fill="#5db656" text-anchor="end">2<tspan font-size="4.08" dy="-3.06">14</tspan></text>
<line x1="422.5" y1="255.08" x2="424.9" y2="255.08" stroke="#222" stroke-width="0.8"/>
<text x="418.6" y="257.58" font-size="6.8" fill="#5db656" text-anchor="end">2<tspan font-size="4.08" dy="-3.06">12</tspan></text>
<line x1="422.5" y1="265.75" x2="424.9" y2="265.75" stroke="#222" stroke-width="0.8"/>
<text x="418.6" y="268.25" font-size="6.8" fill="#5db656" text-anchor="end">2<tspan font-size="4.08" dy="-3.06">10</tspan></text>
<line x1="422.5" y1="276.42" x2="424.9" y2="276.42" stroke="#222" stroke-width="0.8"/>
<text x="418.6" y="278.92" font-size="6.8" fill="#5db656" text-anchor="end">2<tspan font-size="4.08" dy="-3.06">8</tspan></text>
<path fill="none" stroke="#1e1e1e" stroke-width="0.95" d="M329.2 236.6l3.2 3.2M329.2 239.8l3.2 -3.2M327.5 250.8l3.2 3.2M327.5 254l3.2 -3.2M325.3 257.7l3.2 3.2M325.3 260.9l3.2 -3.2M333.3 247.9l3.2 3.2M333.3 251.1l3.2 -3.2M335.3 244.2l3.2 3.2M335.3 247.4l3.2 -3.2M345.5 247.1l3.2 3.2M345.5 250.3l3.2 -3.2M357.9 239.8l3.2 3.2M357.9 243l3.2 -3.2M360.8 236.9l3.2 3.2M360.8 240.1l3.2 -3.2M366.2 248.5l3.2 3.2M366.2 251.7l3.2 -3.2M366.9 244.2l3.2 3.2M366.9 247.4l3.2 -3.2M370.7 237.3l3.2 3.2M370.7 240.5l3.2 -3.2M372.9 247l3.2 3.2M372.9 250.2l3.2 -3.2M376.5 243.1l3.2 3.2M376.5 246.3l3.2 -3.2M373.6 224.3l3.2 3.2M373.6 227.5l3.2 -3.2M378.7 223.8l3.2 3.2M378.7 227l3.2 -3.2M384.2 225l3.2 3.2M384.2 228.2l3.2 -3.2M391 222.8l3.2 3.2M391 226l3.2 -3.2M394.3 225.7l3.2 3.2M394.3 228.9l3.2 -3.2M399.3 219.9l3.2 3.2M399.3 223.1l3.2 -3.2M379.4 236.3l3.2 3.2M379.4 239.5l3.2 -3.2M388.8 235.1l3.2 3.2M388.8 238.3l3.2 -3.2M423.9 255.7l3.2 3.2M423.9 258.9l3.2 -3.2M428.5 242.4l3.2 3.2M428.5 245.6l3.2 -3.2M431.2 235.9l3.2 3.2M431.2 239.1l3.2 -3.2M437 247.5l3.2 3.2M437 250.7l3.2 -3.2M441.6 247.5l3.2 3.2M441.6 250.7l3.2 -3.2M441.6 242.4l3.2 3.2M441.6 245.6l3.2 -3.2M452.9 242.4l3.2 3.2M452.9 245.6l3.2 -3.2M462.6 252.5l3.2 3.2M462.6 255.7l3.2 -3.2M464.1 237.3l3.2 3.2M464.1 240.5l3.2 -3.2M467 226.7l3.2 3.2M467 229.9l3.2 -3.2M468.7 236.5l3.2 3.2M468.7 239.7l3.2 -3.2M472.5 234.5l3.2 3.2M472.5 237.7l3.2 -3.2M468.7 246.1l3.2 3.2M468.7 249.3l3.2 -3.2M473.3 244l3.2 3.2M473.3 247.2l3.2 -3.2M482.9 232.4l3.2 3.2M482.9 235.6l3.2 -3.2M485.7 231.5l3.2 3.2M485.7 234.7l3.2 -3.2M488.2 232.4l3.2 3.2M488.2 235.6l3.2 -3.2M492.3 232.4l3.2 3.2M492.3 235.6l3.2 -3.2M487.4 230.2l3.2 3.2M487.4 233.4l3.2 -3.2M488.2 221.9l3.2 3.2M488.2 225.1l3.2 -3.2M489.5 219.1l3.2 3.2M489.5 222.3l3.2 -3.2M493.5 220l3.2 3.2M493.5 223.2l3.2 -3.2M493.2 213.3l3.2 3.2M493.2 216.5l3.2 -3.2"/>
<path fill="none" stroke="#bb1d48" stroke-width="1.0" d="M336.2 238.1l3.2 3.2M336.2 241.3l3.2 -3.2M340.5 249.4l3.2 3.2M340.5 252.6l3.2 -3.2M340.5 252.3l3.2 3.2M340.5 255.5l3.2 -3.2M339.1 270.3l3.2 3.2M339.1 273.5l3.2 -3.2M353.9 235.9l3.2 3.2M353.9 239.1l3.2 -3.2M362.9 228.6l3.2 3.2M362.9 231.8l3.2 -3.2M365.8 226.8l3.2 3.2M365.8 230l3.2 -3.2M430.7 259.5l3.2 3.2M430.7 262.7l3.2 -3.2M447.8 247l3.2 3.2M447.8 250.2l3.2 -3.2M461.2 228.6l3.2 3.2M461.2 231.8l3.2 -3.2M461.2 252.8l3.2 3.2M461.2 256l3.2 -3.2M462.8 252.7l3.2 3.2M462.8 255.9l3.2 -3.2M473.6 230.7l3.2 3.2M473.6 233.9l3.2 -3.2M479.1 229.9l3.2 3.2M479.1 233.1l3.2 -3.2M480.7 231.4l3.2 3.2M480.7 234.6l3.2 -3.2"/>
<text x="330.5" y="267" font-size="7" textLength="66.9" lengthAdjust="spacingAndGlyphs" stroke="#222" stroke-width="0.08">R2 = 0.455, <tspan font-style="italic">P</tspan> &lt; .0001</text>
<text x="434.2" y="267" font-size="7" textLength="66.8" lengthAdjust="spacingAndGlyphs" stroke="#222" stroke-width="0.08">R2 = 0.599, <tspan font-style="italic">P</tspan> &lt; .0001</text>
<text x="362.2" y="279.6" font-size="6.6" textLength="39.1" lengthAdjust="spacingAndGlyphs" stroke="#222" stroke-width="0.08">n = 22, <tspan fill="#bb1d48">n = 7</tspan></text>
<text x="461.7" y="279.6" font-size="6.6" textLength="39.7" lengthAdjust="spacingAndGlyphs" stroke="#222" stroke-width="0.08">n = 26, <tspan fill="#bb1d48">n = 8</tspan></text>
<text x="311.5" y="345" font-size="8.6" textLength="193.1" lengthAdjust="spacingAndGlyphs">Clonal abundance correlates with the reliability</text>
<text x="378.3" y="355.5" font-size="8.6" textLength="60" lengthAdjust="spacingAndGlyphs">of IS detection</text>
<text x="345" y="368.8" font-size="8.6" textLength="30.7" lengthAdjust="spacingAndGlyphs">Z13264</text>
<text x="449.8" y="368.8" font-size="8.6" textLength="30.9" lengthAdjust="spacingAndGlyphs">Z14004</text>
<text transform="translate(296.7 406.6) rotate(-90)" font-size="8.6" text-anchor="middle" textLength="57.2" lengthAdjust="spacingAndGlyphs" fill="#5fb95b">Mean normalized</text>
<text transform="translate(307.3 407.1) rotate(-90)" font-size="8.6" text-anchor="middle" textLength="35.8" lengthAdjust="spacingAndGlyphs" fill="#5fb95b">abundance</text>
<text x="382.8" y="468.7" font-size="9" textLength="53.1" lengthAdjust="spacingAndGlyphs" fill="#3d6aa3"># times detected</text>
<line x1="328.3" y1="372" x2="328.3" y2="443.4" stroke="#222" stroke-width="0.9"/>
<line x1="328.3" y1="443.4" x2="404.8" y2="443.4" stroke="#222" stroke-width="0.9"/>
<line x1="328.6" y1="443.4" x2="328.6" y2="445.8" stroke="#222" stroke-width="0.8"/>
<text x="328.6" y="456.2" font-size="6.9" text-anchor="middle" fill="#3d6aa3" stroke="#3d6aa3" stroke-width="0.1">0</text>
<line x1="347.05" y1="443.4" x2="347.05" y2="445.8" stroke="#222" stroke-width="0.8"/>
<text x="347.05" y="456.2" font-size="6.9" text-anchor="middle" fill="#3d6aa3" stroke="#3d6aa3" stroke-width="0.1">20</text>
<line x1="365.5" y1="443.4" x2="365.5" y2="445.8" stroke="#222" stroke-width="0.8"/>
<text x="365.5" y="456.2" font-size="6.9" text-anchor="middle" fill="#3d6aa3" stroke="#3d6aa3" stroke-width="0.1">40</text>
<line x1="383.95" y1="443.4" x2="383.95" y2="445.8" stroke="#222" stroke-width="0.8"/>
<text x="383.95" y="456.2" font-size="6.9" text-anchor="middle" fill="#3d6aa3" stroke="#3d6aa3" stroke-width="0.1">60</text>
<line x1="402.4" y1="443.4" x2="402.4" y2="445.8" stroke="#222" stroke-width="0.8"/>
<text x="402.4" y="456.2" font-size="6.9" text-anchor="middle" fill="#3d6aa3" stroke="#3d6aa3" stroke-width="0.1">80</text>
<line x1="328.6" y1="443.4" x2="328.6" y2="444.7" stroke="#222" stroke-width="0.45"/>
<line x1="333.21" y1="443.4" x2="333.21" y2="444.7" stroke="#222" stroke-width="0.45"/>
<line x1="337.83" y1="443.4" x2="337.83" y2="444.7" stroke="#222" stroke-width="0.45"/>
<line x1="342.44" y1="443.4" x2="342.44" y2="444.7" stroke="#222" stroke-width="0.45"/>
<line x1="347.05" y1="443.4" x2="347.05" y2="444.7" stroke="#222" stroke-width="0.45"/>
<line x1="351.66" y1="443.4" x2="351.66" y2="444.7" stroke="#222" stroke-width="0.45"/>
<line x1="356.28" y1="443.4" x2="356.28" y2="444.7" stroke="#222" stroke-width="0.45"/>
<line x1="360.89" y1="443.4" x2="360.89" y2="444.7" stroke="#222" stroke-width="0.45"/>
<line x1="365.5" y1="443.4" x2="365.5" y2="444.7" stroke="#222" stroke-width="0.45"/>
<line x1="370.11" y1="443.4" x2="370.11" y2="444.7" stroke="#222" stroke-width="0.45"/>
<line x1="374.73" y1="443.4" x2="374.73" y2="444.7" stroke="#222" stroke-width="0.45"/>
<line x1="379.34" y1="443.4" x2="379.34" y2="444.7" stroke="#222" stroke-width="0.45"/>
<line x1="383.95" y1="443.4" x2="383.95" y2="444.7" stroke="#222" stroke-width="0.45"/>
<line x1="388.56" y1="443.4" x2="388.56" y2="444.7" stroke="#222" stroke-width="0.45"/>
<line x1="393.18" y1="443.4" x2="393.18" y2="444.7" stroke="#222" stroke-width="0.45"/>
<line x1="397.79" y1="443.4" x2="397.79" y2="444.7" stroke="#222" stroke-width="0.45"/>
<line x1="402.4" y1="443.4" x2="402.4" y2="444.7" stroke="#222" stroke-width="0.45"/>
<line x1="325.9" y1="374.7" x2="328.3" y2="374.7" stroke="#222" stroke-width="0.8"/>
<text x="321.8" y="377" font-size="6.5" fill="#5db656" text-anchor="end">2<tspan font-size="4.1" dy="-2.5">20</tspan></text>
<line x1="325.9" y1="381.55" x2="328.3" y2="381.55" stroke="#222" stroke-width="0.8"/>
<text x="321.8" y="383.85" font-size="6.5" fill="#5db656" text-anchor="end">2<tspan font-size="4.1" dy="-2.5">18</tspan></text>
<line x1="325.9" y1="388.4" x2="328.3" y2="388.4" stroke="#222" stroke-width="0.8"/>
<text x="321.8" y="390.7" font-size="6.5" fill="#5db656" text-anchor="end">2<tspan font-size="4.1" dy="-2.5">16</tspan></text>
<line x1="325.9" y1="395.25" x2="328.3" y2="395.25" stroke="#222" stroke-width="0.8"/>
<text x="321.8" y="397.55" font-size="6.5" fill="#5db656" text-anchor="end">2<tspan font-size="4.1" dy="-2.5">14</tspan></text>
<line x1="325.9" y1="402.1" x2="328.3" y2="402.1" stroke="#222" stroke-width="0.8"/>
<text x="321.8" y="404.4" font-size="6.5" fill="#5db656" text-anchor="end">2<tspan font-size="4.1" dy="-2.5">12</tspan></text>
<line x1="325.9" y1="408.95" x2="328.3" y2="408.95" stroke="#222" stroke-width="0.8"/>
<text x="321.8" y="411.25" font-size="6.5" fill="#5db656" text-anchor="end">2<tspan font-size="4.1" dy="-2.5">10</tspan></text>
<line x1="325.9" y1="415.8" x2="328.3" y2="415.8" stroke="#222" stroke-width="0.8"/>
<text x="321.8" y="418.1" font-size="6.5" fill="#5db656" text-anchor="end">2<tspan font-size="4.1" dy="-2.5">8</tspan></text>
<line x1="325.9" y1="422.65" x2="328.3" y2="422.65" stroke="#222" stroke-width="0.8"/>
<text x="321.8" y="424.95" font-size="6.5" fill="#5db656" text-anchor="end">2<tspan font-size="4.1" dy="-2.5">6</tspan></text>
<line x1="325.9" y1="429.5" x2="328.3" y2="429.5" stroke="#222" stroke-width="0.8"/>
<text x="321.8" y="431.8" font-size="6.5" fill="#5db656" text-anchor="end">2<tspan font-size="4.1" dy="-2.5">4</tspan></text>
<line x1="325.9" y1="436.35" x2="328.3" y2="436.35" stroke="#222" stroke-width="0.8"/>
<text x="321.8" y="438.65" font-size="6.5" fill="#5db656" text-anchor="end">2<tspan font-size="4.1" dy="-2.5">2</tspan></text>
<line x1="325.9" y1="443.2" x2="328.3" y2="443.2" stroke="#222" stroke-width="0.8"/>
<text x="321.8" y="445.5" font-size="6.5" fill="#5db656" text-anchor="end">2<tspan font-size="4.1" dy="-2.5">0</tspan></text>
<line x1="428.3" y1="372" x2="428.3" y2="443.4" stroke="#222" stroke-width="0.9"/>
<line x1="428.3" y1="443.4" x2="502.6" y2="443.4" stroke="#222" stroke-width="0.9"/>
<line x1="428.3" y1="443.4" x2="428.3" y2="445.8" stroke="#222" stroke-width="0.8"/>
<text x="428.3" y="456.2" font-size="6.9" text-anchor="middle" fill="#3d6aa3" stroke="#3d6aa3" stroke-width="0.1">0</text>
<line x1="443.16" y1="443.4" x2="443.16" y2="445.8" stroke="#222" stroke-width="0.8"/>
<text x="443.16" y="456.2" font-size="6.9" text-anchor="middle" fill="#3d6aa3" stroke="#3d6aa3" stroke-width="0.1">20</text>
<line x1="458.02" y1="443.4" x2="458.02" y2="445.8" stroke="#222" stroke-width="0.8"/>
<text x="458.02" y="456.2" font-size="6.9" text-anchor="middle" fill="#3d6aa3" stroke="#3d6aa3" stroke-width="0.1">40</text>
<line x1="472.88" y1="443.4" x2="472.88" y2="445.8" stroke="#222" stroke-width="0.8"/>
<text x="472.88" y="456.2" font-size="6.9" text-anchor="middle" fill="#3d6aa3" stroke="#3d6aa3" stroke-width="0.1">60</text>
<line x1="487.74" y1="443.4" x2="487.74" y2="445.8" stroke="#222" stroke-width="0.8"/>
<text x="487.74" y="456.2" font-size="6.9" text-anchor="middle" fill="#3d6aa3" stroke="#3d6aa3" stroke-width="0.1">80</text>
<line x1="502.6" y1="443.4" x2="502.6" y2="445.8" stroke="#222" stroke-width="0.8"/>
<text x="502.6" y="456.2" font-size="6.9" text-anchor="middle" fill="#3d6aa3" stroke="#3d6aa3" stroke-width="0.1">100</text>
<line x1="428.3" y1="443.4" x2="428.3" y2="444.7" stroke="#222" stroke-width="0.45"/>
<line x1="432.01" y1="443.4" x2="432.01" y2="444.7" stroke="#222" stroke-width="0.45"/>
<line x1="435.73" y1="443.4" x2="435.73" y2="444.7" stroke="#222" stroke-width="0.45"/>
<line x1="439.44" y1="443.4" x2="439.44" y2="444.7" stroke="#222" stroke-width="0.45"/>
<line x1="443.16" y1="443.4" x2="443.16" y2="444.7" stroke="#222" stroke-width="0.45"/>
<line x1="446.88" y1="443.4" x2="446.88" y2="444.7" stroke="#222" stroke-width="0.45"/>
<line x1="450.59" y1="443.4" x2="450.59" y2="444.7" stroke="#222" stroke-width="0.45"/>
<line x1="454.31" y1="443.4" x2="454.31" y2="444.7" stroke="#222" stroke-width="0.45"/>
<line x1="458.02" y1="443.4" x2="458.02" y2="444.7" stroke="#222" stroke-width="0.45"/>
<line x1="461.74" y1="443.4" x2="461.74" y2="444.7" stroke="#222" stroke-width="0.45"/>
<line x1="465.45" y1="443.4" x2="465.45" y2="444.7" stroke="#222" stroke-width="0.45"/>
<line x1="469.17" y1="443.4" x2="469.17" y2="444.7" stroke="#222" stroke-width="0.45"/>
<line x1="472.88" y1="443.4" x2="472.88" y2="444.7" stroke="#222" stroke-width="0.45"/>
<line x1="476.6" y1="443.4" x2="476.6" y2="444.7" stroke="#222" stroke-width="0.45"/>
<line x1="480.31" y1="443.4" x2="480.31" y2="444.7" stroke="#222" stroke-width="0.45"/>
<line x1="484.03" y1="443.4" x2="484.03" y2="444.7" stroke="#222" stroke-width="0.45"/>
<line x1="487.74" y1="443.4" x2="487.74" y2="444.7" stroke="#222" stroke-width="0.45"/>
<line x1="491.46" y1="443.4" x2="491.46" y2="444.7" stroke="#222" stroke-width="0.45"/>
<line x1="495.17" y1="443.4" x2="495.17" y2="444.7" stroke="#222" stroke-width="0.45"/>
<line x1="498.88" y1="443.4" x2="498.88" y2="444.7" stroke="#222" stroke-width="0.45"/>
<line x1="502.6" y1="443.4" x2="502.6" y2="444.7" stroke="#222" stroke-width="0.45"/>
<line x1="425.9" y1="374.7" x2="428.3" y2="374.7" stroke="#222" stroke-width="0.8"/>
<text x="421.8" y="377" font-size="6.5" fill="#5db656" text-anchor="end">2<tspan font-size="4.1" dy="-2.5">20</tspan></text>
<line x1="425.9" y1="381.55" x2="428.3" y2="381.55" stroke="#222" stroke-width="0.8"/>
<text x="421.8" y="383.85" font-size="6.5" fill="#5db656" text-anchor="end">2<tspan font-size="4.1" dy="-2.5">18</tspan></text>
<line x1="425.9" y1="388.4" x2="428.3" y2="388.4" stroke="#222" stroke-width="0.8"/>
<text x="421.8" y="390.7" font-size="6.5" fill="#5db656" text-anchor="end">2<tspan font-size="4.1" dy="-2.5">16</tspan></text>
<line x1="425.9" y1="395.25" x2="428.3" y2="395.25" stroke="#222" stroke-width="0.8"/>
<text x="421.8" y="397.55" font-size="6.5" fill="#5db656" text-anchor="end">2<tspan font-size="4.1" dy="-2.5">14</tspan></text>
<line x1="425.9" y1="402.1" x2="428.3" y2="402.1" stroke="#222" stroke-width="0.8"/>
<text x="421.8" y="404.4" font-size="6.5" fill="#5db656" text-anchor="end">2<tspan font-size="4.1" dy="-2.5">12</tspan></text>
<line x1="425.9" y1="408.95" x2="428.3" y2="408.95" stroke="#222" stroke-width="0.8"/>
<text x="421.8" y="411.25" font-size="6.5" fill="#5db656" text-anchor="end">2<tspan font-size="4.1" dy="-2.5">10</tspan></text>
<line x1="425.9" y1="415.8" x2="428.3" y2="415.8" stroke="#222" stroke-width="0.8"/>
<text x="421.8" y="418.1" font-size="6.5" fill="#5db656" text-anchor="end">2<tspan font-size="4.1" dy="-2.5">8</tspan></text>
<line x1="425.9" y1="422.65" x2="428.3" y2="422.65" stroke="#222" stroke-width="0.8"/>
<text x="421.8" y="424.95" font-size="6.5" fill="#5db656" text-anchor="end">2<tspan font-size="4.1" dy="-2.5">6</tspan></text>
<line x1="425.9" y1="429.5" x2="428.3" y2="429.5" stroke="#222" stroke-width="0.8"/>
<text x="421.8" y="431.8" font-size="6.5" fill="#5db656" text-anchor="end">2<tspan font-size="4.1" dy="-2.5">4</tspan></text>
<line x1="425.9" y1="436.35" x2="428.3" y2="436.35" stroke="#222" stroke-width="0.8"/>
<text x="421.8" y="438.65" font-size="6.5" fill="#5db656" text-anchor="end">2<tspan font-size="4.1" dy="-2.5">2</tspan></text>
<line x1="425.9" y1="443.2" x2="428.3" y2="443.2" stroke="#222" stroke-width="0.8"/>
<text x="421.8" y="445.5" font-size="6.5" fill="#5db656" text-anchor="end">2<tspan font-size="4.1" dy="-2.5">0</tspan></text>
<path fill="#f4f4f4" d="M328.8 384 L334.5 384 L336 392 L328.8 392 Z"/>
<path fill="#e5e5e5" d="M328.8 392 L336 392 L334.5 400 L333.5 408 L332 421 L330.8 435 L330.2 443 L328.8 443 Z"/>
<path fill="#f5f5f5" d="M428.8 381 L433.5 381 L434.5 389 L428.8 389 Z"/>
<path fill="#e5e5e5" d="M428.8 389 L434.5 389 L432.8 398 L431.8 407 L430.8 420 L429.9 435 L429.6 443 L428.8 443 Z"/>
<line x1="328.8" y1="392.1" x2="397.8" y2="392.1" stroke="#9ed596" stroke-width="0.7" stroke-dasharray="1 0.7"/>
<line x1="428.8" y1="389.5" x2="499" y2="389.5" stroke="#9ed596" stroke-width="0.7" stroke-dasharray="1 0.7"/>
<line x1="355.4" y1="379" x2="355.4" y2="443" stroke="#9fb6d2" stroke-width="0.7"/>
<line x1="457.9" y1="377.5" x2="457.9" y2="443" stroke="#9fb6d2" stroke-width="0.7"/>
<polygon fill="#111" points="333.2,405.8 334.5,402.3 336.6,398.3 341.5,394.3 345.5,392 355.7,389.8 368,387.3 380.3,384.8 392.6,382.3 397.2,381.6 397.2,381 392.6,384.4 380.3,390.7 368,395 355.7,400.2 345.5,404.7 341.5,406.5 336.6,408 334.5,408.7 333.2,409.2"/>
<polygon fill="#111" points="431.5,393.3 433.5,392.3 439.1,392.3 448.8,392 458.5,389.4 469.6,387.4 480.6,385.3 488.9,381.8 493.1,378.8 493.1,379.2 488.9,385.2 480.6,389.4 469.6,393.5 458.5,397 448.8,399.1 439.1,401.8 433.5,406.2 431.5,409.2"/>
<path fill="#111" d="M372.52 393.81h1.1v1.1h-1.1zM392.97 384.59h1.1v1.1h-1.1zM334.51 401.26h1.1v1.1h-1.1zM374.18 391.66h1.1v1.1h-1.1zM362.67 387.37h1.1v1.1h-1.1zM369.38 385.26h1.1v1.1h-1.1zM350.54 402.75h1.1v1.1h-1.1zM342.86 404.71h1.1v1.1h-1.1zM372.17 384.2h1.1v1.1h-1.1zM388.42 381.38h1.1v1.1h-1.1zM395.52 381.25h1.1v1.1h-1.1zM394.18 381.38h1.1v1.1h-1.1zM345.76 404.68h1.1v1.1h-1.1zM394.51 382.02h1.1v1.1h-1.1zM355.77 387.86h1.1v1.1h-1.1zM336.82 396.91h1.1v1.1h-1.1zM332.87 408.64h1.1v1.1h-1.1zM352.49 401.23h1.1v1.1h-1.1zM352.86 389.76h1.1v1.1h-1.1zM336.3 406.73h1.1v1.1h-1.1zM380.64 389.04h1.1v1.1h-1.1zM383.07 383.31h1.1v1.1h-1.1zM333.23 402.5h1.1v1.1h-1.1zM393.78 381.62h1.1v1.1h-1.1zM392.15 383.87h1.1v1.1h-1.1zM355.36 389.39h1.1v1.1h-1.1zM339.57 407.51h1.1v1.1h-1.1zM387.67 383.22h1.1v1.1h-1.1zM338.49 395.57h1.1v1.1h-1.1zM391.41 382.41h1.1v1.1h-1.1zM367.54 385.86h1.1v1.1h-1.1zM344.01 390.73h1.1v1.1h-1.1zM376.76 390.87h1.1v1.1h-1.1zM335.76 408.07h1.1v1.1h-1.1zM358.63 388.31h1.1v1.1h-1.1zM385.53 382.44h1.1v1.1h-1.1zM336.22 406.77h1.1v1.1h-1.1zM364.24 395.41h1.1v1.1h-1.1zM379.48 391h1.1v1.1h-1.1zM383.08 382.97h1.1v1.1h-1.1zM342.2 405.36h1.1v1.1h-1.1zM361.65 398.16h1.1v1.1h-1.1zM395.11 380.81h1.1v1.1h-1.1zM379.34 383.4h1.1v1.1h-1.1zM358.49 387.84h1.1v1.1h-1.1zM395.91 381.74h1.1v1.1h-1.1zM364.61 385.93h1.1v1.1h-1.1zM350.08 403.18h1.1v1.1h-1.1zM355.77 400.47h1.1v1.1h-1.1zM377.1 392.12h1.1v1.1h-1.1zM355.91 399.27h1.1v1.1h-1.1zM363.73 396.91h1.1v1.1h-1.1zM351.46 402.07h1.1v1.1h-1.1zM369.81 385.93h1.1v1.1h-1.1zM348.69 402.86h1.1v1.1h-1.1zM384.92 388.64h1.1v1.1h-1.1zM354.91 400.75h1.1v1.1h-1.1zM385.65 383.39h1.1v1.1h-1.1zM388.32 387.3h1.1v1.1h-1.1zM393.87 381.09h1.1v1.1h-1.1zM343.29 406.36h1.1v1.1h-1.1zM363.19 397.2h1.1v1.1h-1.1zM379.39 384.52h1.1v1.1h-1.1zM369.82 393.89h1.1v1.1h-1.1zM372.57 393.43h1.1v1.1h-1.1zM378.76 383.22h1.1v1.1h-1.1zM360.88 397.03h1.1v1.1h-1.1zM376.55 390.66h1.1v1.1h-1.1zM362.83 386.21h1.1v1.1h-1.1zM341.2 392.43h1.1v1.1h-1.1zM345.03 390.9h1.1v1.1h-1.1zM356.99 399.53h1.1v1.1h-1.1zM347.87 402.16h1.1v1.1h-1.1zM358.59 387.89h1.1v1.1h-1.1zM340.01 406.4h1.1v1.1h-1.1zM334.96 407.33h1.1v1.1h-1.1zM367.54 386.47h1.1v1.1h-1.1zM393.98 382.69h1.1v1.1h-1.1zM384.68 387.77h1.1v1.1h-1.1zM341.75 406.19h1.1v1.1h-1.1zM393.91 383.17h1.1v1.1h-1.1zM355.12 398.96h1.1v1.1h-1.1zM339.56 407.09h1.1v1.1h-1.1zM341.65 406.98h1.1v1.1h-1.1zM356.7 387.85h1.1v1.1h-1.1zM351.31 401.52h1.1v1.1h-1.1zM394.16 382.96h1.1v1.1h-1.1zM349.28 402.68h1.1v1.1h-1.1zM359.24 389.08h1.1v1.1h-1.1zM364.12 386.92h1.1v1.1h-1.1zM340.45 406.42h1.1v1.1h-1.1zM351.41 402.5h1.1v1.1h-1.1zM333.5 402h1.1v1.1h-1.1zM392.51 383.38h1.1v1.1h-1.1zM349.78 391.08h1.1v1.1h-1.1zM351.41 401.69h1.1v1.1h-1.1zM373.92 393.2h1.1v1.1h-1.1zM340.21 406.17h1.1v1.1h-1.1zM366.79 385.97h1.1v1.1h-1.1zM366.56 386.16h1.1v1.1h-1.1zM380.33 389.24h1.1v1.1h-1.1zM348.81 391.13h1.1v1.1h-1.1zM389.48 380.71h1.1v1.1h-1.1zM382.47 383.42h1.1v1.1h-1.1zM377.97 391.18h1.1v1.1h-1.1zM391 381.26h1.1v1.1h-1.1zM387.17 381.82h1.1v1.1h-1.1zM385.77 383.35h1.1v1.1h-1.1zM377.11 383.85h1.1v1.1h-1.1zM382.62 388.31h1.1v1.1h-1.1zM363.27 387.14h1.1v1.1h-1.1zM353.82 389.28h1.1v1.1h-1.1zM384.61 382.19h1.1v1.1h-1.1zM385.1 388.23h1.1v1.1h-1.1zM334.29 409.59h1.1v1.1h-1.1zM396.54 379.94h1.1v1.1h-1.1zM386.54 382.75h1.1v1.1h-1.1zM393.59 382.32h1.1v1.1h-1.1zM351.37 400.96h1.1v1.1h-1.1zM371.73 384.65h1.1v1.1h-1.1zM372.48 384.38h1.1v1.1h-1.1zM356.92 387.42h1.1v1.1h-1.1zM369.47 395.07h1.1v1.1h-1.1zM341.25 392.7h1.1v1.1h-1.1zM371.06 386.57h1.1v1.1h-1.1zM356.6 388.96h1.1v1.1h-1.1zM342.32 405.8h1.1v1.1h-1.1zM390.92 385.16h1.1v1.1h-1.1zM349.5 402.03h1.1v1.1h-1.1zM380.69 382.77h1.1v1.1h-1.1zM347.65 390.96h1.1v1.1h-1.1zM344.13 405.33h1.1v1.1h-1.1zM338.11 406.33h1.1v1.1h-1.1zM340.64 405.89h1.1v1.1h-1.1zM388.77 381.56h1.1v1.1h-1.1zM383.62 383.53h1.1v1.1h-1.1zM336.08 398.31h1.1v1.1h-1.1zM376.24 383.63h1.1v1.1h-1.1zM394.9 382.93h1.1v1.1h-1.1zM341.59 405.77h1.1v1.1h-1.1zM347.69 390.67h1.1v1.1h-1.1zM354.96 388h1.1v1.1h-1.1zM385.84 388.18h1.1v1.1h-1.1zM360.39 397.93h1.1v1.1h-1.1zM370.58 394.36h1.1v1.1h-1.1zM357.96 387.15h1.1v1.1h-1.1zM345.6 391.75h1.1v1.1h-1.1zM363.43 395.45h1.1v1.1h-1.1zM362.74 397.17h1.1v1.1h-1.1zM360.08 386.88h1.1v1.1h-1.1zM342.55 392.09h1.1v1.1h-1.1zM357.33 398.38h1.1v1.1h-1.1zM348.91 389.37h1.1v1.1h-1.1zM351.02 389.65h1.1v1.1h-1.1zM334.7 408.05h1.1v1.1h-1.1zM392.68 384.24h1.1v1.1h-1.1zM362.84 395.97h1.1v1.1h-1.1zM375.44 385.08h1.1v1.1h-1.1zM379.33 383.2h1.1v1.1h-1.1zM334.25 399.77h1.1v1.1h-1.1zM358.32 398.45h1.1v1.1h-1.1zM352.61 388.85h1.1v1.1h-1.1zM379.52 389.91h1.1v1.1h-1.1zM348.04 404.25h1.1v1.1h-1.1zM373.99 386.07h1.1v1.1h-1.1zM333.05 404.36h1.1v1.1h-1.1zM358.9 388.15h1.1v1.1h-1.1zM395.98 380.36h1.1v1.1h-1.1zM338.65 396.09h1.1v1.1h-1.1zM364.08 395.3h1.1v1.1h-1.1zM348.23 390.06h1.1v1.1h-1.1zM336.5 396.72h1.1v1.1h-1.1zM352.23 388.37h1.1v1.1h-1.1zM394.83 380.9h1.1v1.1h-1.1zM358.4 387.18h1.1v1.1h-1.1zM352.74 389.42h1.1v1.1h-1.1zM391.61 385.34h1.1v1.1h-1.1zM346.37 390.78h1.1v1.1h-1.1zM363.79 396.16h1.1v1.1h-1.1zM372.66 394.03h1.1v1.1h-1.1zM352.34 390.16h1.1v1.1h-1.1zM346.98 390.13h1.1v1.1h-1.1zM338.26 407.96h1.1v1.1h-1.1zM352.67 388.37h1.1v1.1h-1.1zM348.32 390.11h1.1v1.1h-1.1zM369.58 384.86h1.1v1.1h-1.1zM377.49 383.57h1.1v1.1h-1.1zM350.96 388.78h1.1v1.1h-1.1zM359.57 388.48h1.1v1.1h-1.1zM368.24 394.98h1.1v1.1h-1.1zM381.27 389.69h1.1v1.1h-1.1zM384.93 389h1.1v1.1h-1.1zM379.24 390.24h1.1v1.1h-1.1zM384.62 381.96h1.1v1.1h-1.1zM336.87 396.09h1.1v1.1h-1.1zM375.91 383.58h1.1v1.1h-1.1zM381.53 388.6h1.1v1.1h-1.1zM335.89 397.28h1.1v1.1h-1.1zM387.68 386.8h1.1v1.1h-1.1zM347.44 390.15h1.1v1.1h-1.1zM358.82 386.8h1.1v1.1h-1.1zM372.79 377.76h1.1v1.1h-1.1zM380.63 381.8h1.1v1.1h-1.1zM369.82 383.33h1.1v1.1h-1.1zM379.67 379.48h1.1v1.1h-1.1zM392.27 375.14h1.1v1.1h-1.1zM347.15 387.9h1.1v1.1h-1.1zM390.97 377.44h1.1v1.1h-1.1zM364.53 382.12h1.1v1.1h-1.1zM382.86 375.54h1.1v1.1h-1.1zM369.94 377.05h1.1v1.1h-1.1zM373.43 383.15h1.1v1.1h-1.1zM385.43 378.67h1.1v1.1h-1.1zM343.53 388.38h1.1v1.1h-1.1zM342.46 390.33h1.1v1.1h-1.1zM367.16 378.13h1.1v1.1h-1.1zM362.25 384.44h1.1v1.1h-1.1zM355.89 385.85h1.1v1.1h-1.1zM371.58 381.56h1.1v1.1h-1.1zM381.96 380.51h1.1v1.1h-1.1zM360 384.63h1.1v1.1h-1.1zM394.68 374.63h1.1v1.1h-1.1zM387.39 377.02h1.1v1.1h-1.1zM362.7 384.94h1.1v1.1h-1.1zM386.39 378.03h1.1v1.1h-1.1zM342.73 390.82h1.1v1.1h-1.1zM346.08 386.75h1.1v1.1h-1.1zM390.16 379.26h1.1v1.1h-1.1zM384.49 379.48h1.1v1.1h-1.1zM378.21 376.71h1.1v1.1h-1.1zM374.92 377.65h1.1v1.1h-1.1zM361.35 386.31h1.1v1.1h-1.1zM368.8 380.24h1.1v1.1h-1.1zM350.81 385.86h1.1v1.1h-1.1zM358.1 386.83h1.1v1.1h-1.1zM357.81 383.97h1.1v1.1h-1.1zM366.84 379.62h1.1v1.1h-1.1zM362.6 378.08h1.1v1.1h-1.1zM385.5 375.26h1.1v1.1h-1.1zM378.75 378.02h1.1v1.1h-1.1zM370.17 378.36h1.1v1.1h-1.1zM360.6 381.67h1.1v1.1h-1.1zM378.02 379.21h1.1v1.1h-1.1zM356.28 386.78h1.1v1.1h-1.1zM345.45 388.47h1.1v1.1h-1.1zM372.57 378.3h1.1v1.1h-1.1zM379.95 380.42h1.1v1.1h-1.1zM391.76 378.48h1.1v1.1h-1.1zM380.03 382.08h1.1v1.1h-1.1zM382.09 377.5h1.1v1.1h-1.1zM393.28 374.41h1.1v1.1h-1.1zM378.47 376.85h1.1v1.1h-1.1zM381.27 378.04h1.1v1.1h-1.1zM352.13 384.24h1.1v1.1h-1.1zM389.94 379.04h1.1v1.1h-1.1zM394.26 376.49h1.1v1.1h-1.1zM362.29 386.18h1.1v1.1h-1.1zM362.11 384.77h1.1v1.1h-1.1zM376.57 376.67h1.1v1.1h-1.1zM390.71 376.52h1.1v1.1h-1.1zM361.92 385.38h1.1v1.1h-1.1zM378.53 378.9h1.1v1.1h-1.1zM379.99 379.94h1.1v1.1h-1.1zM389.42 379.31h1.1v1.1h-1.1zM357.46 384.99h1.1v1.1h-1.1zM374.87 376.93h1.1v1.1h-1.1zM349.86 384.74h1.1v1.1h-1.1zM382.81 380.47h1.1v1.1h-1.1zM344.1 388.81h1.1v1.1h-1.1zM386.31 375.45h1.1v1.1h-1.1zM380.69 379.51h1.1v1.1h-1.1zM364.05 381.51h1.1v1.1h-1.1zM390.41 378.55h1.1v1.1h-1.1zM356.09 382.49h1.1v1.1h-1.1zM393.81 378.73h1.1v1.1h-1.1zM333.63 411.48h1.1v1.1h-1.1zM351.96 403.99h1.1v1.1h-1.1zM338.53 408.72h1.1v1.1h-1.1zM353.33 404.38h1.1v1.1h-1.1zM354.74 400.75h1.1v1.1h-1.1zM348.16 404.42h1.1v1.1h-1.1zM359.36 400.78h1.1v1.1h-1.1zM359.86 399.04h1.1v1.1h-1.1zM353.3 402.88h1.1v1.1h-1.1zM354.95 401.34h1.1v1.1h-1.1zM359.55 399.73h1.1v1.1h-1.1zM338.84 407.56h1.1v1.1h-1.1zM337.66 408.95h1.1v1.1h-1.1zM352.35 402.47h1.1v1.1h-1.1zM336.01 408.47h1.1v1.1h-1.1zM358.77 402.99h1.1v1.1h-1.1zM358.37 400.39h1.1v1.1h-1.1zM363.27 402.54h1.1v1.1h-1.1zM352.65 402.69h1.1v1.1h-1.1zM335.94 408.54h1.1v1.1h-1.1zM434.92 391.01h1.1v1.1h-1.1zM459.2 397.06h1.1v1.1h-1.1zM436.11 391.4h1.1v1.1h-1.1zM454.06 389.67h1.1v1.1h-1.1zM454.01 397.74h1.1v1.1h-1.1zM490.25 381.4h1.1v1.1h-1.1zM477.75 389.69h1.1v1.1h-1.1zM438.15 390.96h1.1v1.1h-1.1zM476.37 390.4h1.1v1.1h-1.1zM448.85 391.29h1.1v1.1h-1.1zM479.55 389.02h1.1v1.1h-1.1zM451.71 398.3h1.1v1.1h-1.1zM434.05 390.7h1.1v1.1h-1.1zM471.99 385.31h1.1v1.1h-1.1zM436.86 392.41h1.1v1.1h-1.1zM464.3 388.25h1.1v1.1h-1.1zM436.61 392.01h1.1v1.1h-1.1zM431.27 408.31h1.1v1.1h-1.1zM431.96 391.7h1.1v1.1h-1.1zM454.53 388.29h1.1v1.1h-1.1zM444.41 399.94h1.1v1.1h-1.1zM460.02 387.52h1.1v1.1h-1.1zM489.76 383.1h1.1v1.1h-1.1zM434.21 391.94h1.1v1.1h-1.1zM457.73 397.87h1.1v1.1h-1.1zM470.69 391.72h1.1v1.1h-1.1zM432.42 406.7h1.1v1.1h-1.1zM484.8 387.85h1.1v1.1h-1.1zM454.27 398.29h1.1v1.1h-1.1zM485.88 382.49h1.1v1.1h-1.1zM456.95 398.25h1.1v1.1h-1.1zM444.3 390.6h1.1v1.1h-1.1zM459.89 388.43h1.1v1.1h-1.1zM438.55 391.2h1.1v1.1h-1.1zM435.5 392.21h1.1v1.1h-1.1zM485.49 380.9h1.1v1.1h-1.1zM481.97 388.55h1.1v1.1h-1.1zM439.35 392.24h1.1v1.1h-1.1zM488.7 379.82h1.1v1.1h-1.1zM457.38 389.14h1.1v1.1h-1.1zM453.92 396.97h1.1v1.1h-1.1zM462.88 395.81h1.1v1.1h-1.1zM436.5 391.63h1.1v1.1h-1.1zM454.05 389.39h1.1v1.1h-1.1zM466.78 393.52h1.1v1.1h-1.1zM465.98 387.06h1.1v1.1h-1.1zM476.01 385.03h1.1v1.1h-1.1zM474.42 386h1.1v1.1h-1.1zM456.75 388.98h1.1v1.1h-1.1zM479.79 384.35h1.1v1.1h-1.1zM433.31 390.95h1.1v1.1h-1.1zM432.27 391.53h1.1v1.1h-1.1zM471.29 392.27h1.1v1.1h-1.1zM463.6 396.12h1.1v1.1h-1.1zM489.45 383.07h1.1v1.1h-1.1zM441.22 399.99h1.1v1.1h-1.1zM458.59 396.76h1.1v1.1h-1.1zM454.9 397.1h1.1v1.1h-1.1zM464.94 393.86h1.1v1.1h-1.1zM452.57 389.99h1.1v1.1h-1.1zM443.72 390.13h1.1v1.1h-1.1zM436.37 390.48h1.1v1.1h-1.1zM490.55 378.71h1.1v1.1h-1.1zM479.23 389.06h1.1v1.1h-1.1zM482.03 388.04h1.1v1.1h-1.1zM469.68 385.73h1.1v1.1h-1.1zM484.94 383.15h1.1v1.1h-1.1zM441.85 390.17h1.1v1.1h-1.1zM476.52 389.49h1.1v1.1h-1.1zM433.62 405.56h1.1v1.1h-1.1zM484.62 382.58h1.1v1.1h-1.1zM438.19 402.24h1.1v1.1h-1.1zM468.65 387.5h1.1v1.1h-1.1zM437.79 391.72h1.1v1.1h-1.1zM436.67 391.21h1.1v1.1h-1.1zM470.92 393.21h1.1v1.1h-1.1zM435.22 405.1h1.1v1.1h-1.1zM438.37 401.28h1.1v1.1h-1.1zM449.35 391.3h1.1v1.1h-1.1zM462.72 395.32h1.1v1.1h-1.1zM440.52 390.69h1.1v1.1h-1.1zM489.27 379.19h1.1v1.1h-1.1zM452.68 389.64h1.1v1.1h-1.1zM469.24 392.58h1.1v1.1h-1.1zM439.5 391.7h1.1v1.1h-1.1zM458.49 397.68h1.1v1.1h-1.1zM439.89 391.24h1.1v1.1h-1.1zM463.97 395.13h1.1v1.1h-1.1zM471.75 386.54h1.1v1.1h-1.1zM482.44 382.39h1.1v1.1h-1.1zM446.92 391.94h1.1v1.1h-1.1zM447.25 399.6h1.1v1.1h-1.1zM489.85 380.35h1.1v1.1h-1.1zM451.67 390.39h1.1v1.1h-1.1zM482.96 386.79h1.1v1.1h-1.1zM490.83 379.34h1.1v1.1h-1.1zM475.55 384.95h1.1v1.1h-1.1zM451.24 389.2h1.1v1.1h-1.1zM475.11 386.09h1.1v1.1h-1.1zM434.81 390.56h1.1v1.1h-1.1zM489.06 384.99h1.1v1.1h-1.1zM462.14 387.45h1.1v1.1h-1.1zM444.88 391.25h1.1v1.1h-1.1zM448.81 390.88h1.1v1.1h-1.1zM488.43 384.9h1.1v1.1h-1.1zM437.28 401.81h1.1v1.1h-1.1zM464.05 388.42h1.1v1.1h-1.1zM464.38 386.72h1.1v1.1h-1.1zM464.89 394.55h1.1v1.1h-1.1zM443.84 392.1h1.1v1.1h-1.1zM454.47 398.62h1.1v1.1h-1.1zM451.01 398.47h1.1v1.1h-1.1zM439.54 392.28h1.1v1.1h-1.1zM459.66 389.05h1.1v1.1h-1.1zM466.31 386.4h1.1v1.1h-1.1zM476.79 384.85h1.1v1.1h-1.1zM477.68 389.34h1.1v1.1h-1.1zM443.44 400.87h1.1v1.1h-1.1zM437.27 401.86h1.1v1.1h-1.1zM441.28 391.09h1.1v1.1h-1.1zM469.12 392.6h1.1v1.1h-1.1zM473.99 385.64h1.1v1.1h-1.1zM446.47 390.03h1.1v1.1h-1.1zM475.34 385.81h1.1v1.1h-1.1zM451.68 398.58h1.1v1.1h-1.1zM461.05 396.89h1.1v1.1h-1.1zM448.33 391.85h1.1v1.1h-1.1zM439.13 391.09h1.1v1.1h-1.1zM491.09 379.2h1.1v1.1h-1.1zM477.58 389.07h1.1v1.1h-1.1zM489.08 381.09h1.1v1.1h-1.1zM471.69 386.67h1.1v1.1h-1.1zM472.58 386.26h1.1v1.1h-1.1zM462.07 395.86h1.1v1.1h-1.1zM479.98 384.3h1.1v1.1h-1.1zM431.02 409.61h1.1v1.1h-1.1zM482.52 383.34h1.1v1.1h-1.1zM460.43 387.27h1.1v1.1h-1.1zM490.97 380.75h1.1v1.1h-1.1zM482.02 388.04h1.1v1.1h-1.1zM470.67 385.57h1.1v1.1h-1.1zM431.57 408.35h1.1v1.1h-1.1zM476.74 384.78h1.1v1.1h-1.1zM449.83 398.37h1.1v1.1h-1.1zM467.71 393.69h1.1v1.1h-1.1zM473.22 385.05h1.1v1.1h-1.1zM482.73 382.15h1.1v1.1h-1.1zM431.84 406.86h1.1v1.1h-1.1zM459.17 388.88h1.1v1.1h-1.1zM460.31 386.88h1.1v1.1h-1.1zM479.94 389.63h1.1v1.1h-1.1zM482.37 388.62h1.1v1.1h-1.1zM483.37 386.52h1.1v1.1h-1.1zM485.44 385.89h1.1v1.1h-1.1zM435.02 390.38h1.1v1.1h-1.1zM453.7 388.9h1.1v1.1h-1.1zM431.15 391.74h1.1v1.1h-1.1zM475.84 384.33h1.1v1.1h-1.1zM489.68 383.64h1.1v1.1h-1.1zM444.32 391.01h1.1v1.1h-1.1zM456.13 388.79h1.1v1.1h-1.1zM478.24 390.8h1.1v1.1h-1.1zM473.02 392.77h1.1v1.1h-1.1zM487.45 385.36h1.1v1.1h-1.1zM471.59 393.33h1.1v1.1h-1.1zM474.91 384.57h1.1v1.1h-1.1zM451.12 390.65h1.1v1.1h-1.1zM478.34 384.7h1.1v1.1h-1.1zM482.71 382.25h1.1v1.1h-1.1zM468.26 385.72h1.1v1.1h-1.1zM448.69 390.07h1.1v1.1h-1.1zM457.15 387.48h1.1v1.1h-1.1zM464.83 395.5h1.1v1.1h-1.1zM451.04 397.43h1.1v1.1h-1.1zM440.22 390.23h1.1v1.1h-1.1zM468.02 393.67h1.1v1.1h-1.1zM480.44 385.1h1.1v1.1h-1.1zM468.4 385.76h1.1v1.1h-1.1zM457.22 389.34h1.1v1.1h-1.1zM445.09 391.83h1.1v1.1h-1.1zM435.32 390.66h1.1v1.1h-1.1zM471.92 391.4h1.1v1.1h-1.1zM475.93 384.67h1.1v1.1h-1.1zM483.71 387.01h1.1v1.1h-1.1zM472.7 385.75h1.1v1.1h-1.1zM436.03 404.64h1.1v1.1h-1.1zM470.15 386.22h1.1v1.1h-1.1zM459.87 387.25h1.1v1.1h-1.1zM448.09 390.02h1.1v1.1h-1.1zM472.49 385.26h1.1v1.1h-1.1zM436.55 392.29h1.1v1.1h-1.1zM448.93 390.46h1.1v1.1h-1.1zM489.16 379.86h1.1v1.1h-1.1zM443.83 400.14h1.1v1.1h-1.1zM437.01 402.52h1.1v1.1h-1.1zM473.21 386.46h1.1v1.1h-1.1zM434.53 390.81h1.1v1.1h-1.1zM447.23 399.29h1.1v1.1h-1.1zM452.31 390.71h1.1v1.1h-1.1zM466.05 387.3h1.1v1.1h-1.1zM468.84 386.27h1.1v1.1h-1.1zM439.06 392.16h1.1v1.1h-1.1zM449.8 390.82h1.1v1.1h-1.1zM467.32 386.59h1.1v1.1h-1.1zM476.16 384.14h1.1v1.1h-1.1zM477.48 389.26h1.1v1.1h-1.1zM435.97 403.23h1.1v1.1h-1.1zM471.39 385.85h1.1v1.1h-1.1zM440.91 391.67h1.1v1.1h-1.1zM462.37 396.29h1.1v1.1h-1.1zM469.11 392.64h1.1v1.1h-1.1zM460.18 388.29h1.1v1.1h-1.1zM437.81 401.99h1.1v1.1h-1.1zM479.23 390.62h1.1v1.1h-1.1zM454.99 398.68h1.1v1.1h-1.1zM438.97 402.11h1.1v1.1h-1.1zM459.15 387.43h1.1v1.1h-1.1zM456.31 397.03h1.1v1.1h-1.1zM446.68 399.29h1.1v1.1h-1.1zM468.74 385.96h1.1v1.1h-1.1zM440.82 388.7h1.1v1.1h-1.1zM473.61 382.59h1.1v1.1h-1.1zM465.22 381.32h1.1v1.1h-1.1zM465.44 378.76h1.1v1.1h-1.1zM479.91 381.07h1.1v1.1h-1.1zM456.77 382.55h1.1v1.1h-1.1zM447.49 384.29h1.1v1.1h-1.1zM441.34 389.05h1.1v1.1h-1.1zM453.33 384.18h1.1v1.1h-1.1zM441.35 389.61h1.1v1.1h-1.1zM490.97 373h1.1v1.1h-1.1zM450.58 385.6h1.1v1.1h-1.1zM440.66 389.89h1.1v1.1h-1.1zM449.04 382.78h1.1v1.1h-1.1zM455.35 385.92h1.1v1.1h-1.1zM442.39 389.74h1.1v1.1h-1.1zM491.3 373.07h1.1v1.1h-1.1zM487.36 374.78h1.1v1.1h-1.1zM480.12 381.37h1.1v1.1h-1.1zM447.84 388.19h1.1v1.1h-1.1zM442.39 389.56h1.1v1.1h-1.1zM476.82 380.28h1.1v1.1h-1.1zM439.5 389.86h1.1v1.1h-1.1zM483.64 376.02h1.1v1.1h-1.1zM477.32 378.51h1.1v1.1h-1.1zM486.91 376.71h1.1v1.1h-1.1zM459.11 382.34h1.1v1.1h-1.1zM453.81 388.06h1.1v1.1h-1.1zM452.62 384.93h1.1v1.1h-1.1zM445.27 389.58h1.1v1.1h-1.1zM451.96 385.84h1.1v1.1h-1.1zM489.29 375.96h1.1v1.1h-1.1zM482.97 376.97h1.1v1.1h-1.1zM470.11 382.6h1.1v1.1h-1.1zM459.6 384.35h1.1v1.1h-1.1zM472.32 378.28h1.1v1.1h-1.1zM480.54 380.93h1.1v1.1h-1.1zM446.82 389.84h1.1v1.1h-1.1zM469.7 383.39h1.1v1.1h-1.1zM439.24 389.93h1.1v1.1h-1.1zM450.96 387.44h1.1v1.1h-1.1zM473.9 380.05h1.1v1.1h-1.1zM453.77 382.38h1.1v1.1h-1.1zM449.81 382.55h1.1v1.1h-1.1zM445.2 387.28h1.1v1.1h-1.1zM476.03 378.68h1.1v1.1h-1.1zM464.58 379.09h1.1v1.1h-1.1zM472.04 379.53h1.1v1.1h-1.1zM443.11 389.42h1.1v1.1h-1.1zM463.45 381.86h1.1v1.1h-1.1zM443.96 387.24h1.1v1.1h-1.1zM457.18 383.56h1.1v1.1h-1.1zM466.41 379.13h1.1v1.1h-1.1zM454.84 383.49h1.1v1.1h-1.1zM470.8 379.98h1.1v1.1h-1.1zM455.37 385.65h1.1v1.1h-1.1zM463.69 381.37h1.1v1.1h-1.1zM472.86 383.53h1.1v1.1h-1.1zM462.42 381.88h1.1v1.1h-1.1zM449.19 388.87h1.1v1.1h-1.1zM487.81 379.75h1.1v1.1h-1.1zM465.18 383.6h1.1v1.1h-1.1zM440.59 389.67h1.1v1.1h-1.1zM447.44 387.5h1.1v1.1h-1.1zM486.81 379.8h1.1v1.1h-1.1zM457.45 381.69h1.1v1.1h-1.1zM471.82 384.57h1.1v1.1h-1.1zM450.98 386.81h1.1v1.1h-1.1zM486.03 377.79h1.1v1.1h-1.1zM452.5 384.77h1.1v1.1h-1.1zM464.47 384.88h1.1v1.1h-1.1zM474.04 379.03h1.1v1.1h-1.1zM464.05 381.83h1.1v1.1h-1.1zM479.48 376.66h1.1v1.1h-1.1zM471.18 384.51h1.1v1.1h-1.1zM465.52 380.64h1.1v1.1h-1.1zM456.36 382.07h1.1v1.1h-1.1zM458.3 382.13h1.1v1.1h-1.1zM471.26 379.8h1.1v1.1h-1.1zM487.63 375.49h1.1v1.1h-1.1zM452.8 398.88h1.1v1.1h-1.1zM449.86 400.74h1.1v1.1h-1.1zM450.06 402.84h1.1v1.1h-1.1zM437.93 404.1h1.1v1.1h-1.1zM446.11 403.9h1.1v1.1h-1.1zM454.52 398.59h1.1v1.1h-1.1zM445.37 402.66h1.1v1.1h-1.1zM448.4 400.32h1.1v1.1h-1.1zM461.49 397.9h1.1v1.1h-1.1zM460.41 400.01h1.1v1.1h-1.1zM433.55 406.6h1.1v1.1h-1.1zM447.57 403.12h1.1v1.1h-1.1zM455.27 398.73h1.1v1.1h-1.1zM445.94 401.08h1.1v1.1h-1.1zM449.91 400.98h1.1v1.1h-1.1zM455.68 403.72h1.1v1.1h-1.1zM456.47 399.99h1.1v1.1h-1.1zM459.08 397.93h1.1v1.1h-1.1zM460.09 396.66h1.1v1.1h-1.1zM454.66 400.21h1.1v1.1h-1.1zM332.85 411.75h1.1v1.1h-1.1zM333.25 413.95h1.1v1.1h-1.1zM332.05 416.95h1.1v1.1h-1.1zM430.95 412.45h1.1v1.1h-1.1zM431.45 415.45h1.1v1.1h-1.1z"/>
<text x="340" y="440.6" font-size="7.2" textLength="12.8" lengthAdjust="spacingAndGlyphs" fill="#3f6ea8" stroke="#3f6ea8" stroke-width="0.1">29.1</text>
<text x="441.9" y="440.6" font-size="7.2" textLength="13.1" lengthAdjust="spacingAndGlyphs" fill="#3f6ea8" stroke="#3f6ea8" stroke-width="0.1">40.5</text>
<text x="374.3" y="440.6" font-size="7" textLength="28.1" lengthAdjust="spacingAndGlyphs" stroke="#222" stroke-width="0.08">n = 1632</text>
<text x="476" y="440.6" font-size="7" textLength="26.6" lengthAdjust="spacingAndGlyphs" stroke="#222" stroke-width="0.08">n = 1311</text>
<text x="379.2" y="400.2" font-size="7" textLength="18" lengthAdjust="spacingAndGlyphs" fill="#5cb85c" stroke="#5cb85c" stroke-width="0.1">32357</text>
<text x="479.3" y="397.8" font-size="7" textLength="19" lengthAdjust="spacingAndGlyphs" fill="#5cb85c" stroke="#5cb85c" stroke-width="0.1">48873</text>
<rect x="0" y="0" width="520" height="1.2" fill="#535353"/>
<rect x="0" y="0" width="1.1" height="483" fill="#535353"/>
<rect x="518.8" y="0" width="1.2" height="483" fill="#535353"/>
<rect x="0" y="481.7" width="520" height="1.3" fill="#535353"/>
</svg>
</body></html>
